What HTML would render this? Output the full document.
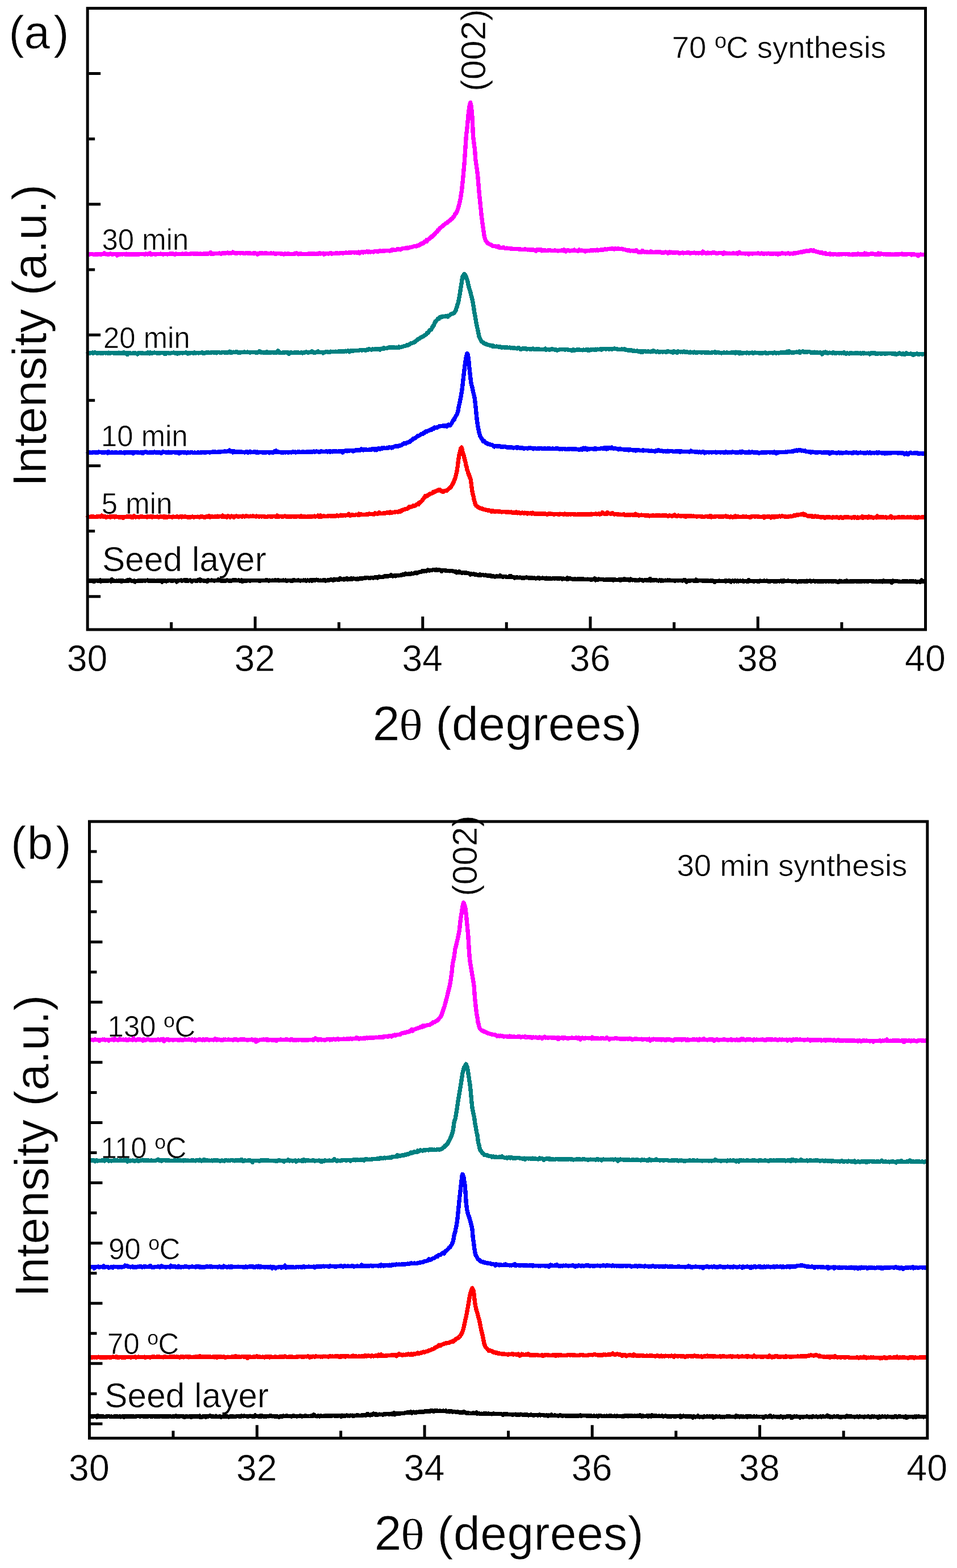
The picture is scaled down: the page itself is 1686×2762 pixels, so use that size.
<!DOCTYPE html>
<html><head><meta charset="utf-8"><title>XRD patterns</title>
<style>html,body{margin:0;padding:0;background:#fff;width:1686px;height:2762px;overflow:hidden;}svg{display:block;}</style>
</head><body>
<svg width="1686" height="2762" viewBox="0 0 1686 2762">
<rect width="1686" height="2762" fill="#fff"/>
<g font-family="'Liberation Sans', Arial, sans-serif" fill="#000" stroke="#fff" stroke-width="0.6">
<text x="153.6" y="1181.8" font-size="64.5" text-anchor="middle">30</text>
<text x="448.9" y="1181.8" font-size="64.5" text-anchor="middle">32</text>
<text x="744.1" y="1181.8" font-size="64.5" text-anchor="middle">34</text>
<text x="1039.4" y="1181.8" font-size="64.5" text-anchor="middle">36</text>
<text x="1334.6" y="1181.8" font-size="64.5" text-anchor="middle">38</text>
<text x="1629.9" y="1181.8" font-size="64.5" text-anchor="middle">40</text>
<text x="156.9" y="2607.8" font-size="64.5" text-anchor="middle">30</text>
<text x="452.2" y="2607.8" font-size="64.5" text-anchor="middle">32</text>
<text x="747.4" y="2607.8" font-size="64.5" text-anchor="middle">34</text>
<text x="1042.7" y="2607.8" font-size="64.5" text-anchor="middle">36</text>
<text x="1337.9" y="2607.8" font-size="64.5" text-anchor="middle">38</text>
<text x="1633.2" y="2607.8" font-size="64.5" text-anchor="middle">40</text>
<text x="15.4 42.4 94.2" y="85.1" font-size="81.7">(a)</text>
<text x="18.9 47.8 98.2" y="1513.4" font-size="81.7">(b)</text>
<text x="656.5" y="1304.3" font-size="86">2</text>
<text transform="translate(702.7,1303.3) scale(1.144,1)" font-family="'Liberation Serif', 'Times New Roman', serif" font-size="77">θ</text>
<text x="767.6" y="1304.3" font-size="84" textLength="363.2" lengthAdjust="spacing">(degrees)</text>
<text x="659.5" y="2729.7" font-size="86">2</text>
<text transform="translate(705.7,2728.7) scale(1.144,1)" font-family="'Liberation Serif', 'Times New Roman', serif" font-size="77">θ</text>
<text x="770.6" y="2729.7" font-size="84" textLength="363.2" lengthAdjust="spacing">(degrees)</text>
<text transform="translate(81.4,857) rotate(-90)" font-size="84">Intensity (a.u.)</text>
<text transform="translate(84.9,2284.8) rotate(-90)" font-size="84">Intensity (a.u.)</text>
<text transform="translate(854.6,160.9) rotate(-90)" font-size="62">(002)</text>
<text transform="translate(840.4,1578.7) rotate(-90)" font-size="61">(002)</text>
<text x="1183.65" y="102.2" font-size="54.5" text-anchor="start">70 ºC synthesis</text>
<text x="1192.4" y="1542.7" font-size="54.5" text-anchor="start">30 min synthesis</text>
<text x="179.4" y="439.9" font-size="51" text-anchor="start">30 min</text>
<text x="181.9" y="612.5" font-size="51" text-anchor="start">20 min</text>
<text x="177.9" y="785.9" font-size="51" text-anchor="start">10 min</text>
<text x="178.8" y="905.3" font-size="51" text-anchor="start">5 min</text>
<text x="179.9" y="1005.7" font-size="60.5" text-anchor="start">Seed layer</text>
<text x="189.6" y="1825.8" font-size="51" text-anchor="start">130 ºC</text>
<text x="177.6" y="2039.9" font-size="51" text-anchor="start">110 ºC</text>
<text x="191.15" y="2218" font-size="51" text-anchor="start">90 ºC</text>
<text x="189.05" y="2384.7" font-size="51" text-anchor="start">70 ºC</text>
<text x="184.2" y="2479.4" font-size="60.5" text-anchor="start">Seed layer</text>
</g>
<g fill="none" stroke-width="7.4" stroke-linejoin="round" stroke-linecap="round" shape-rendering="crispEdges">
<path stroke="#ff00ff" d="M155.2,448.0 156.7,448.1 158.2,447.9 159.7,447.6 161.2,447.8 162.7,447.6 164.2,448.0 165.7,448.6 167.2,447.8 168.7,447.7 170.2,448.2 171.7,448.2 173.2,448.0 174.7,447.6 176.2,448.0 177.7,448.3 179.2,447.4 180.7,447.8 182.2,447.1 183.7,445.8 185.2,447.1 186.7,447.9 188.2,447.4 189.7,448.1 191.2,448.0 192.7,447.9 194.2,446.8 195.7,447.7 197.2,447.9 198.7,448.0 200.2,447.2 201.7,447.7 203.2,447.5 204.7,447.6 206.2,450.0 207.7,447.5 209.2,447.9 210.7,448.3 212.2,447.6 213.7,447.8 215.2,447.9 216.7,447.9 218.2,447.3 219.7,447.9 221.2,448.5 222.7,447.2 224.2,448.2 225.7,447.9 227.2,447.6 228.7,448.7 230.2,448.2 231.7,447.3 233.2,447.9 234.7,448.1 236.2,447.7 237.7,448.1 239.2,447.8 240.7,448.1 242.2,448.4 243.7,447.5 245.2,447.9 246.7,447.6 248.2,447.8 249.7,447.2 251.2,447.5 252.7,447.6 254.2,448.1 255.7,448.2 257.2,447.1 258.7,447.3 260.2,448.0 261.7,446.8 263.2,447.5 264.7,446.0 266.2,448.2 267.7,448.0 269.2,447.5 270.7,447.5 272.2,447.5 273.7,448.3 275.2,447.4 276.7,447.5 278.2,447.8 279.7,447.5 281.2,447.5 282.7,447.1 284.2,447.6 285.7,447.4 287.2,448.1 288.7,447.9 290.2,447.5 291.7,447.8 293.2,447.4 294.7,448.0 296.2,447.5 297.7,447.8 299.2,446.9 300.0,447.7 300.7,446.7 302.2,446.6 303.7,447.3 305.2,447.1 306.7,447.5 308.2,448.5 309.7,447.1 311.2,447.2 312.7,447.5 314.2,447.6 315.7,447.3 317.2,447.3 318.7,447.7 320.2,447.6 321.7,446.9 323.2,447.3 324.7,447.4 326.2,446.9 327.7,447.5 329.2,447.0 330.7,447.8 332.2,447.4 333.7,447.3 335.2,447.0 336.7,447.2 338.2,446.4 339.7,446.8 341.2,447.4 342.7,446.3 344.2,447.6 345.7,446.4 347.2,447.5 348.7,446.8 350.2,447.5 351.7,447.2 353.2,446.5 354.7,447.7 356.2,447.8 357.7,447.1 359.2,447.0 360.7,447.0 362.2,446.6 363.7,447.5 365.2,446.8 366.7,447.0 368.2,446.6 369.7,446.7 371.2,444.8 372.7,447.5 374.2,446.8 375.7,447.3 377.2,446.9 378.7,446.5 380.0,446.7 380.2,446.5 381.7,446.8 383.2,446.5 384.7,446.5 386.2,446.0 387.7,446.2 389.2,447.2 390.7,446.0 392.2,445.8 393.7,446.3 395.2,446.7 396.7,445.4 398.2,445.9 399.7,445.6 401.2,445.1 402.7,446.2 404.2,445.8 405.0,445.8 405.7,445.5 407.2,446.0 408.7,445.6 410.2,444.1 411.7,445.3 413.2,445.3 414.7,446.4 416.2,445.6 417.7,446.0 419.2,445.8 420.7,445.7 422.2,445.6 423.7,446.2 425.2,445.7 426.7,445.8 428.2,445.9 429.7,446.4 431.2,446.2 432.7,446.1 434.2,445.7 435.7,445.3 437.2,446.4 438.7,446.4 440.0,445.9 440.2,446.2 441.7,446.4 443.2,446.4 444.7,446.5 446.2,445.9 447.7,446.8 449.2,445.5 450.7,446.5 452.2,446.4 453.7,448.2 455.2,447.0 456.7,446.9 458.2,445.7 459.7,445.5 461.2,446.7 462.7,445.9 464.2,446.4 465.7,446.8 467.2,445.7 468.7,445.5 470.2,446.6 471.7,446.6 473.2,446.5 474.7,446.6 476.2,446.3 477.7,446.0 479.2,446.6 480.7,446.3 482.2,446.0 483.7,447.0 485.2,446.8 486.7,447.1 488.2,446.5 489.7,446.6 491.2,446.5 492.7,446.6 494.2,447.1 495.7,446.7 497.2,447.2 498.7,447.3 500.2,448.0 501.7,446.5 503.2,447.6 504.7,447.2 506.2,447.2 507.7,446.6 509.2,447.0 510.7,447.6 512.2,447.2 513.7,447.3 515.2,447.2 516.7,447.8 518.2,447.3 519.7,446.3 520.0,447.0 521.2,446.4 522.7,445.8 524.2,447.1 525.7,447.9 527.2,447.3 528.7,446.7 530.2,446.8 531.7,447.8 533.2,447.3 534.7,447.3 536.2,447.2 537.7,447.2 539.2,447.6 540.7,447.4 542.2,447.2 543.7,446.7 545.2,447.3 546.7,446.8 548.2,447.6 549.7,446.5 551.2,447.0 552.7,447.0 554.2,446.4 555.7,447.7 557.2,447.6 558.7,446.7 560.2,447.2 561.7,447.0 563.2,445.6 564.7,446.9 566.2,446.7 567.7,446.7 569.2,446.2 570.7,448.1 572.2,446.5 573.7,447.1 575.2,446.7 576.7,446.5 578.2,447.2 579.7,446.2 581.2,446.2 582.7,445.6 584.2,447.0 585.7,446.7 587.2,446.7 588.7,446.5 590.0,446.2 590.2,446.3 591.7,446.0 593.2,446.0 594.7,446.1 596.2,446.7 597.7,446.2 599.2,445.9 600.7,445.6 602.2,445.5 603.7,446.5 605.2,445.9 606.7,445.7 608.2,445.4 609.7,445.0 611.2,445.4 612.7,445.8 614.2,445.1 615.7,445.1 617.2,445.1 618.7,445.1 620.2,444.3 621.7,444.8 623.2,444.5 624.7,445.2 626.2,444.4 627.7,444.9 629.2,445.2 630.7,444.3 632.2,444.1 633.7,446.0 635.2,444.2 636.7,443.7 638.2,444.3 639.7,444.9 640.0,443.9 641.2,443.8 642.7,443.4 644.2,443.9 645.7,443.1 647.2,443.1 648.7,444.1 650.2,443.1 651.7,443.9 653.2,444.0 654.7,443.4 656.2,443.4 657.7,444.0 659.2,442.9 660.7,442.7 662.2,442.2 663.7,442.8 665.2,443.4 666.7,443.0 668.2,442.1 669.7,442.0 671.2,442.1 672.7,442.4 674.2,442.0 675.7,442.1 677.2,442.1 678.7,441.7 680.2,441.7 681.7,441.7 683.2,441.4 684.7,441.6 686.2,442.1 687.7,441.4 689.2,441.0 690.0,440.1 690.7,441.0 692.2,439.8 693.7,439.9 695.2,440.7 696.7,440.5 698.2,439.9 699.7,439.0 701.2,439.4 702.7,439.0 704.2,439.4 705.7,439.9 707.2,438.7 708.7,438.0 710.2,437.6 711.7,437.8 713.2,437.5 714.7,436.8 716.2,437.1 717.7,436.2 719.2,437.0 720.0,436.8 720.7,436.7 722.2,435.7 723.7,435.8 725.2,435.2 726.7,434.8 728.2,434.5 729.7,433.7 731.2,433.3 732.7,434.0 734.2,433.1 735.7,432.9 737.2,432.7 738.7,431.0 740.0,430.9 740.2,431.3 741.7,429.1 743.2,429.5 744.7,429.2 746.2,427.7 747.7,426.0 749.2,425.0 750.7,424.6 752.0,425.1 752.2,422.3 753.7,422.7 755.2,421.3 756.7,420.5 758.2,418.6 759.7,417.4 760.0,416.8 761.2,417.5 762.7,415.0 764.2,414.5 765.7,412.1 766.4,411.8 767.2,410.1 768.7,409.1 770.2,408.0 771.7,405.3 773.2,404.7 774.4,403.2 774.7,402.2 776.2,401.1 777.7,399.8 779.2,398.8 780.7,397.3 782.2,396.0 783.7,395.0 783.9,394.5 785.2,393.4 786.7,392.9 788.2,392.2 789.7,390.1 791.2,389.6 792.7,388.1 794.2,386.7 794.3,387.4 795.7,385.4 797.2,384.8 798.7,382.2 800.2,380.9 801.7,377.0 803.2,376.0 803.5,376.1 804.7,373.3 806.2,369.7 807.7,364.8 808.0,363.3 809.2,359.4 810.7,352.7 811.6,348.3 812.2,343.7 813.7,334.1 814.7,323.1 815.2,319.7 816.5,305.9 816.7,303.4 818.2,286.2 818.4,284.1 819.7,263.2 819.9,260.4 821.2,241.4 821.5,237.7 822.7,228.0 823.5,220.6 824.2,212.3 825.3,200.3 825.7,196.4 827.2,185.8 828.6,180.6 828.7,180.5 830.2,187.1 831.5,200.8 831.7,202.3 832.7,221.1 833.2,234.1 833.4,238.1 834.7,249.8 836.2,260.9 836.3,260.5 837.7,280.1 838.1,283.1 839.2,291.1 840.7,301.1 841.4,306.8 842.2,315.7 842.8,323.4 843.7,334.0 845.0,348.6 845.2,348.8 846.7,365.6 847.4,369.9 848.2,379.6 849.7,390.9 850.3,395.9 851.2,402.0 852.6,411.3 852.7,412.8 854.2,419.9 855.7,424.2 855.8,424.1 857.2,425.5 858.7,427.7 860.2,429.0 861.7,429.8 863.2,430.6 863.8,430.4 864.7,431.3 866.2,431.9 867.7,433.0 869.2,433.7 870.7,433.3 872.2,433.4 873.3,434.1 873.7,434.0 875.2,434.4 876.7,435.3 878.2,433.7 879.7,436.4 880.0,436.2 881.2,436.5 882.7,436.5 884.2,436.4 885.7,436.5 887.2,435.4 888.7,437.0 890.2,437.5 891.7,437.5 893.2,437.1 894.7,437.8 896.2,437.3 897.7,437.8 899.2,438.0 900.7,437.3 902.2,438.4 903.7,438.5 905.2,438.5 906.7,438.5 908.2,438.6 909.7,438.4 911.2,438.8 912.7,438.7 914.2,439.1 915.7,438.6 917.2,439.3 918.7,439.3 920.2,439.2 921.7,439.2 923.2,439.7 924.7,438.7 926.2,439.8 927.7,439.7 929.2,439.8 930.0,439.9 930.7,439.4 932.2,439.7 933.7,440.1 935.2,440.1 936.7,440.1 938.2,439.4 939.7,440.3 941.2,440.7 942.7,440.7 944.2,442.0 945.7,439.6 947.2,440.8 948.7,440.4 950.2,439.4 951.7,440.7 953.2,440.0 954.7,441.7 956.2,440.4 957.7,441.4 959.2,440.7 960.7,441.0 962.2,441.7 963.7,441.7 965.2,441.0 966.7,441.0 968.2,440.5 969.7,440.8 971.2,441.4 972.7,441.4 974.2,441.3 975.7,441.7 977.2,441.0 978.7,441.3 980.2,441.7 981.7,441.7 983.2,441.9 984.7,441.6 986.2,441.3 987.7,441.6 989.2,441.0 990.7,440.8 992.2,441.8 993.7,439.9 994.0,441.6 995.2,440.7 996.7,442.9 998.2,441.2 999.7,441.1 1001.2,440.5 1002.7,441.3 1004.2,441.9 1005.7,441.7 1007.2,441.2 1008.7,441.5 1010.2,441.8 1011.7,440.2 1013.2,441.4 1014.7,441.7 1016.2,441.8 1017.7,442.2 1019.2,441.9 1020.7,440.0 1022.2,441.5 1023.7,441.8 1025.2,441.1 1026.7,441.4 1028.2,441.8 1029.7,442.2 1031.2,442.9 1032.7,441.3 1034.2,441.4 1035.7,441.9 1037.2,441.3 1038.7,441.9 1040.2,440.8 1041.7,441.1 1043.2,441.1 1044.0,441.6 1044.7,441.7 1046.2,440.5 1047.7,440.7 1049.2,441.1 1050.7,440.6 1052.2,440.1 1053.7,441.1 1055.2,440.7 1056.7,440.5 1058.2,440.0 1059.7,440.5 1061.2,439.8 1062.7,440.2 1064.2,439.2 1065.0,439.1 1065.7,439.5 1067.2,439.0 1068.7,439.4 1070.2,439.0 1071.7,438.3 1073.2,438.6 1074.7,438.2 1076.2,438.6 1077.7,437.8 1079.2,437.8 1080.7,438.5 1082.0,438.9 1082.2,438.8 1083.7,437.9 1085.2,438.1 1086.7,438.7 1088.2,438.1 1089.7,437.8 1091.2,438.5 1092.7,438.8 1094.2,438.4 1095.7,438.2 1097.2,438.5 1098.7,439.6 1100.0,439.2 1100.2,439.5 1101.7,439.9 1103.2,440.6 1104.7,440.6 1106.2,441.3 1107.0,440.8 1107.7,441.1 1109.2,441.0 1110.7,442.1 1112.2,441.7 1113.7,441.6 1115.2,441.9 1116.7,442.1 1118.2,442.6 1119.7,441.7 1121.2,440.5 1122.7,442.5 1124.2,443.9 1125.7,443.3 1127.2,444.5 1128.7,443.4 1130.2,444.1 1131.7,441.5 1133.2,443.2 1134.7,444.0 1136.2,443.7 1137.7,443.9 1139.2,443.4 1140.7,444.6 1142.2,444.5 1143.7,444.1 1145.2,444.2 1146.7,443.0 1148.2,444.3 1149.7,443.9 1151.2,444.3 1152.7,444.4 1154.2,444.0 1155.7,443.5 1157.2,444.4 1158.0,444.0 1158.7,444.2 1160.2,444.1 1161.7,444.3 1163.2,443.4 1164.7,445.0 1166.2,444.6 1167.7,445.1 1169.2,445.5 1170.7,444.7 1172.2,443.9 1173.7,444.3 1175.2,444.2 1176.7,446.2 1178.2,444.8 1179.7,443.9 1181.2,445.0 1182.7,444.2 1184.2,445.1 1185.7,444.9 1187.2,444.8 1188.7,445.0 1190.2,444.8 1191.7,444.8 1193.2,444.3 1194.7,445.1 1196.2,446.0 1197.7,446.0 1199.2,445.8 1200.7,445.5 1202.2,444.9 1203.7,445.9 1205.2,445.2 1206.7,445.3 1208.0,445.2 1208.2,445.3 1209.7,445.1 1211.2,445.3 1212.7,444.9 1214.2,445.2 1215.7,446.4 1217.2,445.4 1218.7,445.3 1220.2,445.7 1221.7,445.8 1223.2,445.0 1224.7,445.4 1226.2,445.9 1227.7,445.6 1229.2,445.6 1230.7,446.2 1232.2,445.2 1233.7,445.6 1235.2,445.3 1236.7,446.3 1238.2,443.1 1239.7,445.3 1241.2,445.4 1242.7,445.9 1244.2,445.9 1245.7,446.3 1247.2,445.0 1248.7,446.0 1250.2,445.6 1251.7,445.4 1253.2,446.0 1254.7,445.3 1256.2,444.8 1257.7,445.6 1259.0,445.1 1259.2,445.5 1260.7,446.0 1262.2,446.0 1263.7,446.6 1265.2,445.8 1266.7,445.2 1268.2,445.6 1269.7,445.5 1271.2,445.4 1272.7,446.2 1274.2,447.3 1275.7,445.1 1277.2,446.4 1278.7,446.0 1280.2,446.3 1281.7,446.2 1283.2,446.4 1284.7,446.2 1286.2,446.8 1287.7,446.4 1289.2,446.4 1290.7,446.5 1292.2,445.7 1293.7,446.3 1295.2,446.3 1296.7,446.5 1298.2,445.8 1299.7,447.2 1301.2,446.5 1302.7,444.3 1304.2,445.7 1305.7,446.4 1307.2,446.5 1308.7,446.3 1310.2,446.6 1311.7,446.3 1313.2,446.9 1314.7,446.3 1316.2,446.7 1317.7,447.1 1319.2,447.9 1320.7,446.3 1322.2,446.5 1323.7,446.4 1325.2,447.1 1326.7,446.3 1328.2,446.6 1329.7,446.8 1331.2,446.4 1332.7,446.4 1334.2,446.6 1335.7,445.9 1336.0,446.1 1337.2,446.6 1338.7,446.9 1340.2,446.7 1341.7,446.0 1343.2,446.6 1344.7,447.1 1346.2,447.0 1347.7,446.7 1349.2,446.4 1350.7,447.0 1352.2,446.5 1353.7,446.2 1355.2,446.4 1356.7,447.4 1358.2,446.8 1359.7,447.2 1361.2,446.5 1362.7,447.1 1364.2,446.4 1365.7,446.6 1367.2,447.7 1368.7,447.0 1370.2,448.0 1371.7,446.5 1373.2,446.7 1374.7,447.1 1376.2,446.3 1377.7,445.7 1379.2,446.3 1380.7,446.4 1382.2,446.4 1383.7,447.0 1385.2,446.5 1386.7,446.7 1388.2,445.8 1389.7,446.6 1391.2,447.1 1392.7,446.5 1394.2,446.2 1395.7,446.2 1397.2,446.9 1398.7,445.6 1399.0,446.0 1400.2,446.2 1401.7,446.2 1403.2,445.4 1404.7,445.6 1406.2,445.0 1407.7,444.9 1409.2,444.5 1410.7,443.8 1412.2,444.0 1413.7,444.1 1415.0,443.1 1415.2,443.4 1416.7,443.5 1418.2,442.4 1419.7,442.6 1421.2,441.7 1422.7,442.3 1424.2,442.5 1425.7,442.2 1427.2,441.0 1428.7,441.3 1429.0,441.1 1430.2,441.1 1431.7,441.9 1433.2,440.9 1434.7,442.4 1436.2,442.3 1437.7,443.5 1439.2,443.4 1440.7,443.5 1442.2,444.4 1443.7,445.0 1445.0,445.0 1445.2,445.3 1446.7,445.1 1448.2,444.7 1449.7,446.4 1451.2,446.7 1452.7,446.7 1454.2,445.4 1455.7,447.7 1457.2,447.2 1458.7,447.3 1460.2,447.7 1461.7,446.7 1462.0,447.2 1463.2,448.3 1464.7,447.5 1466.2,447.3 1467.7,448.4 1469.2,447.8 1470.7,447.2 1472.2,447.6 1473.7,448.2 1475.2,448.3 1476.7,447.6 1478.2,448.0 1479.7,448.1 1481.2,447.5 1482.7,448.0 1484.2,447.8 1485.7,447.6 1487.2,447.6 1488.7,447.8 1490.2,447.8 1491.7,447.5 1493.2,447.6 1494.7,448.3 1496.2,447.9 1497.7,448.2 1499.2,448.3 1500.7,448.1 1502.2,448.8 1503.7,447.4 1505.2,448.2 1506.7,447.7 1508.2,448.6 1509.7,448.6 1511.2,446.9 1512.7,447.4 1514.2,448.1 1515.7,448.2 1517.2,448.1 1518.7,447.8 1520.2,448.0 1521.7,448.1 1523.2,446.2 1524.7,448.3 1526.2,446.8 1527.7,448.1 1529.2,447.3 1530.7,448.2 1532.2,447.7 1533.7,447.4 1535.2,446.4 1536.7,447.4 1538.0,447.4 1538.2,447.1 1539.7,447.8 1541.2,448.0 1542.7,448.3 1544.2,447.7 1545.7,448.3 1547.2,446.2 1548.7,447.8 1550.2,448.1 1551.7,446.7 1553.2,447.7 1554.7,447.7 1556.2,447.8 1557.7,447.9 1559.2,447.4 1560.7,448.3 1562.2,447.7 1563.7,448.1 1565.2,447.5 1566.7,448.1 1568.2,448.1 1569.7,447.7 1571.2,448.8 1572.7,448.1 1574.2,448.7 1575.7,448.4 1577.2,447.7 1578.7,447.8 1580.2,448.2 1581.7,448.0 1583.2,448.0 1584.7,447.9 1586.2,447.2 1587.7,447.9 1589.2,447.1 1590.7,448.2 1592.2,447.8 1593.7,447.8 1595.2,448.0 1596.7,448.3 1598.2,447.5 1599.7,447.4 1601.2,447.7 1602.7,447.3 1604.2,447.8 1605.7,448.9 1607.2,447.8 1608.7,448.5 1610.2,447.7 1611.7,448.4 1613.2,448.2 1614.7,448.3 1616.2,448.6 1617.7,450.7 1619.2,448.5 1620.7,448.4 1622.2,448.0 1623.7,448.7 1625.2,448.3 1626.7,448.8 1628.2,448.5"/>
<path stroke="#008080" d="M155.2,622.0 156.7,621.7 158.2,622.4 159.7,621.3 161.2,621.8 162.7,621.0 164.2,622.5 165.7,621.3 167.2,620.6 168.7,621.6 170.2,621.6 171.7,622.5 173.2,621.5 174.7,621.7 176.2,622.0 177.7,622.4 179.2,621.7 180.7,622.2 182.2,622.0 183.7,621.6 185.2,621.8 186.7,621.8 188.2,621.4 189.7,622.3 191.2,621.2 192.7,622.3 194.2,622.2 195.7,621.8 197.2,621.5 198.7,621.7 200.2,622.1 201.7,622.2 203.2,622.0 204.7,622.3 206.2,621.6 207.7,622.0 209.2,621.2 210.7,622.3 212.2,622.0 213.7,621.7 215.2,622.4 216.7,622.2 218.2,620.7 219.7,622.0 221.2,621.3 222.7,622.4 224.2,624.7 225.7,621.7 227.2,622.0 228.7,621.9 230.2,622.1 231.7,622.3 233.2,622.6 234.7,621.5 236.2,622.7 237.7,621.6 239.2,622.1 240.7,622.5 242.2,623.9 243.7,621.6 245.2,621.7 246.7,621.8 248.2,622.0 249.7,622.5 251.0,621.4 251.2,622.2 252.7,622.3 254.2,622.3 255.7,622.2 257.2,622.7 258.7,622.2 260.2,620.8 261.7,622.2 263.2,622.8 264.7,621.1 266.2,622.6 267.7,621.9 269.2,621.9 270.7,621.5 272.2,621.1 273.7,621.8 275.2,621.7 276.7,622.2 278.2,621.3 279.7,622.6 281.2,622.1 282.7,621.8 284.2,621.6 285.7,621.6 287.2,621.4 288.7,621.7 290.2,623.5 291.7,623.4 293.2,621.3 294.7,621.8 296.2,621.5 297.7,622.0 299.2,622.7 300.7,622.2 302.2,621.7 303.7,621.2 305.2,621.2 306.7,621.1 308.2,622.2 309.7,621.5 311.2,621.9 312.7,623.2 314.2,621.9 315.7,622.5 317.2,621.5 318.7,621.7 320.2,621.4 321.7,622.2 323.2,621.3 324.7,621.3 326.2,621.2 327.7,621.1 329.2,622.0 330.7,622.9 332.2,621.3 333.7,622.2 335.2,621.8 336.7,621.2 338.2,621.6 339.7,621.6 340.0,621.4 341.2,622.6 342.7,620.8 344.2,621.8 345.7,621.8 347.2,621.4 348.7,621.7 350.2,622.0 351.7,621.6 353.2,621.7 354.7,621.8 356.2,620.6 357.7,622.1 359.2,622.5 360.7,621.9 362.2,621.8 363.7,620.7 365.2,621.3 366.7,620.9 368.2,621.0 369.7,621.7 371.2,620.8 372.7,621.1 374.2,620.3 375.7,621.0 377.2,621.1 378.7,620.7 380.2,620.7 381.7,621.8 383.2,620.4 384.7,620.4 386.2,620.5 387.7,621.4 389.2,621.7 390.7,620.9 392.2,620.4 393.7,620.5 395.2,621.2 396.7,620.3 398.2,621.3 399.7,621.3 401.2,620.6 402.7,620.9 404.2,619.3 405.7,621.2 407.2,620.1 408.7,621.1 410.2,620.3 411.7,620.2 413.2,620.5 414.7,620.4 415.0,620.1 416.2,619.8 417.7,620.1 419.2,621.2 420.7,621.4 422.2,620.8 423.7,621.1 425.2,620.3 426.7,620.5 428.2,620.7 429.7,620.1 431.2,620.1 432.7,620.6 434.2,620.4 435.7,620.1 437.2,620.8 438.7,620.5 440.2,621.1 441.7,620.6 443.2,620.5 444.7,620.7 446.2,620.6 447.7,620.4 449.2,620.5 450.7,621.1 452.2,621.0 453.7,621.3 455.2,620.0 456.7,619.0 458.2,619.0 459.7,620.9 461.2,620.6 462.7,620.6 464.2,621.2 465.7,621.0 467.2,620.4 468.7,621.5 470.2,619.8 471.7,620.7 473.2,621.3 474.7,620.6 476.2,621.5 477.7,620.9 479.2,620.6 480.7,620.9 482.2,620.7 483.7,621.1 485.2,621.1 486.7,621.1 488.2,620.8 489.7,617.8 491.2,621.1 492.7,620.2 494.2,621.2 495.7,621.6 497.2,621.2 498.7,620.9 500.0,621.0 500.2,621.0 501.7,620.9 503.2,620.8 504.7,620.7 506.2,621.6 507.7,621.1 509.2,623.1 510.7,621.0 512.2,621.1 513.7,621.0 515.2,621.3 516.7,621.4 518.2,621.1 519.7,620.7 521.2,620.6 522.7,621.7 524.2,620.8 525.7,620.8 527.2,621.6 528.7,621.4 530.2,621.1 531.7,620.7 533.2,621.9 534.7,621.0 536.2,621.1 537.7,620.7 539.2,620.1 540.7,620.2 542.2,620.9 543.7,620.9 545.2,620.6 546.7,620.2 548.2,620.0 549.7,618.9 551.2,620.0 552.0,621.0 552.7,621.1 554.2,621.8 555.7,620.9 557.2,620.2 558.7,620.1 560.2,618.9 561.7,620.1 563.2,620.3 564.7,620.8 566.2,620.6 567.7,620.5 569.2,621.9 570.7,620.5 572.2,620.8 573.7,619.6 575.2,619.8 576.7,619.4 578.2,620.7 579.7,620.5 581.2,620.2 582.7,619.2 584.2,619.8 585.7,619.6 587.2,619.6 588.7,619.5 590.2,619.7 591.7,619.2 593.2,619.7 594.7,619.4 596.2,619.1 597.7,619.1 599.2,618.9 600.7,619.4 602.2,618.9 603.7,619.0 604.0,618.7 605.2,618.2 606.7,619.2 608.2,618.2 609.7,618.9 611.2,618.7 612.7,617.7 614.2,618.0 615.7,619.7 617.2,617.8 618.7,617.6 620.2,618.4 621.7,617.8 623.2,618.0 624.7,617.5 626.2,617.8 627.7,617.2 629.2,617.4 630.7,617.6 632.2,617.2 633.7,616.9 635.2,616.5 636.7,617.0 638.2,616.9 639.7,616.6 641.2,616.2 642.7,616.7 644.2,617.4 645.7,616.1 647.2,616.2 648.7,616.1 650.2,614.7 651.7,615.8 653.2,615.3 654.7,616.1 656.0,615.3 656.2,615.0 657.7,615.2 659.2,615.2 660.7,614.7 662.2,614.8 663.7,615.7 665.2,614.5 666.7,614.8 668.2,615.2 669.7,616.1 671.2,614.1 672.7,614.4 674.2,614.2 675.7,612.7 677.2,613.9 678.7,613.3 680.0,613.3 680.2,613.3 681.7,613.2 683.2,613.0 684.7,612.5 686.2,611.8 687.7,612.4 689.2,611.7 690.7,612.5 692.2,612.4 693.7,611.5 695.2,612.5 696.7,612.5 698.2,612.0 699.7,612.6 701.2,612.6 702.7,611.0 704.2,611.9 705.7,611.5 707.0,611.3 707.2,611.5 708.7,610.5 710.2,610.3 711.7,609.8 713.2,609.4 714.7,609.3 716.2,608.1 717.7,607.8 719.2,607.9 720.7,607.0 722.2,606.6 723.7,604.9 725.2,604.7 726.7,604.1 728.0,603.7 728.2,603.3 729.7,603.2 731.2,601.7 732.7,600.6 734.2,599.5 735.7,598.6 737.2,596.9 738.7,596.5 740.0,595.4 740.2,595.2 741.7,594.3 743.2,593.8 744.7,593.2 746.0,592.4 746.2,592.0 747.7,591.3 749.2,589.8 750.7,589.2 752.0,587.5 752.2,586.4 753.7,586.5 755.2,584.4 756.5,582.5 756.7,582.7 758.2,580.8 759.7,580.5 761.0,578.1 761.2,576.9 762.7,575.2 764.0,572.3 764.2,573.0 765.7,568.8 767.0,566.1 767.2,566.9 768.7,564.9 770.2,563.3 771.7,561.2 773.0,561.3 773.2,561.7 774.7,558.9 776.2,559.2 777.7,557.6 779.0,558.6 779.2,557.7 780.7,557.2 782.2,557.6 783.7,557.3 785.0,556.7 785.2,557.3 786.7,556.8 788.2,556.2 789.0,557.9 789.7,556.7 791.2,555.8 792.7,555.0 794.0,553.3 794.2,553.3 795.7,553.0 797.2,552.4 798.7,551.9 800.0,551.5 800.2,550.6 801.7,548.9 803.2,545.9 803.5,544.5 804.7,541.6 806.0,536.6 806.2,536.8 807.7,531.3 808.0,529.8 809.2,522.9 810.7,514.1 812.0,505.6 812.2,505.0 813.7,494.4 815.2,486.3 815.5,486.4 816.7,484.5 818.2,482.8 818.5,483.5 819.7,484.1 821.2,488.0 822.5,492.1 822.7,492.2 824.2,497.2 825.7,504.5 827.2,509.5 827.5,510.6 828.7,514.2 830.2,520.7 831.7,526.1 832.5,530.0 833.2,533.9 834.7,542.8 836.2,553.1 836.5,553.9 837.7,560.1 839.2,569.6 840.5,575.5 840.7,576.6 842.2,583.2 843.7,591.7 844.5,594.1 845.2,595.6 846.7,598.6 848.2,601.2 849.7,602.2 851.2,604.0 851.4,603.4 852.7,604.4 854.2,605.8 855.7,606.3 857.2,606.1 858.7,607.4 860.2,607.7 861.7,607.8 863.2,608.7 863.4,608.4 864.7,608.2 866.2,608.7 867.7,610.3 869.2,609.1 870.7,610.1 872.2,610.5 873.7,610.8 875.2,610.1 876.7,610.7 878.2,611.1 879.7,611.5 880.0,610.9 881.2,610.8 882.7,611.9 884.2,612.1 885.7,611.9 887.2,611.5 888.7,612.1 890.2,612.1 891.7,612.5 893.2,611.7 894.7,612.4 896.2,612.4 897.7,612.1 899.2,612.8 900.7,612.8 902.2,612.7 903.7,613.2 905.2,612.4 906.7,613.1 908.2,613.5 909.7,613.5 911.2,613.9 912.7,613.0 914.2,612.9 915.7,613.8 917.2,615.6 918.7,614.8 920.2,614.2 921.7,613.6 923.2,614.4 924.7,613.7 926.2,613.5 927.7,615.4 929.2,614.5 930.7,614.7 932.2,614.7 933.7,615.3 935.2,614.7 936.7,615.2 938.2,614.2 939.7,614.1 941.2,615.4 942.7,615.5 944.2,615.1 945.7,615.0 947.2,615.0 948.7,614.7 950.2,615.7 951.7,615.4 953.2,615.4 954.7,615.3 956.0,615.7 956.2,615.4 957.7,615.6 959.2,614.8 960.7,614.0 962.2,616.3 963.7,615.2 965.2,615.4 966.7,615.9 968.2,615.9 969.7,615.8 971.2,614.9 972.7,615.8 974.2,615.1 975.7,615.3 977.2,616.0 978.7,615.6 980.2,616.2 981.7,617.3 983.2,616.2 984.7,616.2 986.2,615.5 987.7,615.7 989.2,615.5 990.7,615.8 992.2,615.6 993.7,615.8 995.2,616.0 996.7,615.7 998.2,615.5 999.7,615.6 1001.2,616.4 1002.7,616.3 1004.2,616.7 1005.7,616.8 1007.2,617.8 1008.7,616.6 1010.2,615.7 1011.7,617.4 1013.2,616.9 1014.7,616.3 1016.2,615.9 1017.7,616.6 1019.2,615.6 1020.7,616.1 1022.2,616.8 1023.7,616.5 1025.2,616.3 1026.7,616.9 1028.2,616.0 1029.7,616.6 1031.2,616.3 1032.0,616.1 1032.7,616.7 1034.2,616.0 1035.7,617.3 1037.2,616.1 1038.7,617.2 1040.2,615.8 1041.7,616.5 1043.2,615.6 1044.7,615.4 1046.2,616.0 1047.7,616.2 1049.2,615.2 1050.7,616.2 1052.2,615.2 1053.7,615.5 1055.2,615.6 1056.7,615.6 1058.2,614.5 1059.7,615.9 1060.0,615.5 1061.2,615.0 1062.7,614.7 1064.2,614.3 1065.7,614.4 1067.2,615.2 1068.7,614.8 1070.2,614.4 1071.7,614.6 1073.2,615.5 1074.7,614.6 1076.2,614.5 1077.7,615.3 1079.2,614.9 1080.7,614.7 1082.0,614.4 1082.2,614.0 1083.7,614.2 1085.2,614.6 1086.7,614.8 1088.2,615.1 1089.7,615.4 1091.2,615.4 1092.7,615.5 1094.2,615.2 1095.7,614.8 1097.2,615.7 1098.7,615.7 1100.2,614.4 1101.7,616.4 1103.2,616.1 1104.7,616.3 1105.0,616.8 1106.2,616.9 1107.7,616.7 1109.2,617.4 1110.7,617.2 1112.2,616.9 1113.7,617.5 1115.2,618.5 1116.7,617.4 1118.2,618.4 1119.7,618.6 1121.2,618.7 1122.7,617.8 1124.2,619.2 1125.7,618.4 1127.2,618.3 1128.7,620.0 1130.2,618.9 1131.7,620.3 1133.0,618.6 1133.2,619.3 1134.7,618.4 1136.2,618.3 1137.7,619.2 1139.2,619.2 1140.7,619.4 1142.2,618.5 1143.7,619.5 1145.2,619.3 1146.7,619.9 1148.2,618.6 1149.7,619.3 1151.2,617.5 1152.7,618.6 1154.2,619.0 1155.7,619.9 1157.2,619.2 1158.7,619.1 1160.2,619.9 1161.7,619.9 1163.2,620.0 1164.7,619.2 1166.2,619.6 1167.7,620.1 1169.2,619.4 1170.7,619.3 1172.2,620.1 1173.7,620.4 1175.2,619.2 1176.7,618.6 1178.2,619.2 1179.7,619.4 1181.2,619.8 1182.7,620.2 1184.2,619.9 1185.7,621.2 1187.2,618.4 1188.7,619.6 1190.2,620.0 1191.7,619.8 1193.2,621.3 1194.7,618.9 1196.2,619.7 1197.7,619.7 1199.2,620.0 1200.7,619.4 1202.2,619.9 1203.7,619.9 1205.2,619.1 1206.7,620.1 1208.0,619.9 1208.2,619.7 1209.7,619.8 1211.2,620.3 1212.7,620.3 1214.2,620.9 1215.7,620.1 1217.2,620.9 1218.7,620.6 1220.2,620.5 1221.7,621.2 1223.2,620.0 1224.7,620.9 1226.2,621.2 1227.7,620.7 1229.2,621.0 1230.7,620.5 1232.2,620.5 1233.7,620.4 1235.2,621.1 1236.7,620.9 1238.2,620.6 1239.7,620.6 1241.2,621.0 1242.7,620.9 1244.2,620.4 1245.7,621.6 1247.2,621.0 1248.7,620.9 1250.2,621.6 1251.7,621.4 1253.2,620.9 1254.7,621.2 1256.2,620.5 1257.7,620.7 1259.2,620.0 1260.0,621.5 1260.7,620.2 1262.2,621.3 1263.7,620.7 1265.2,620.6 1266.7,621.0 1268.2,621.2 1269.7,621.4 1271.2,621.9 1272.7,621.3 1274.2,621.6 1275.7,620.9 1277.2,621.5 1278.7,621.3 1280.2,621.0 1281.7,621.2 1283.2,621.3 1284.7,621.4 1286.2,621.5 1287.7,621.1 1289.2,621.0 1290.7,621.7 1292.2,620.6 1293.7,621.1 1295.2,622.1 1296.7,620.2 1298.2,621.1 1299.7,621.8 1301.2,620.7 1302.7,622.7 1304.2,620.4 1305.7,622.2 1307.2,622.3 1308.7,622.0 1310.2,621.5 1311.7,621.8 1313.2,621.2 1314.7,622.0 1316.2,621.1 1317.7,621.5 1319.2,622.1 1320.7,621.2 1322.2,621.5 1323.7,621.7 1325.2,621.1 1326.7,622.2 1328.2,621.8 1329.7,621.0 1331.2,621.7 1332.7,621.3 1334.2,621.4 1335.7,621.7 1336.0,621.4 1337.2,622.1 1338.7,621.4 1340.2,622.1 1341.7,621.7 1343.2,622.1 1344.7,621.4 1346.2,621.4 1347.7,621.1 1349.2,621.9 1350.7,622.1 1352.2,622.6 1353.7,622.2 1355.2,621.7 1356.7,621.5 1358.2,621.7 1359.7,621.5 1361.2,622.2 1362.7,621.9 1364.2,621.1 1365.7,621.2 1367.2,622.1 1368.7,621.5 1370.2,621.3 1371.7,621.9 1373.2,621.2 1374.7,621.2 1376.2,621.1 1377.7,620.4 1379.2,621.6 1380.7,620.6 1382.2,620.9 1383.7,620.8 1385.2,621.4 1386.7,619.4 1388.2,621.0 1389.7,618.6 1391.2,620.9 1392.7,620.2 1394.2,621.0 1395.0,621.0 1395.7,620.8 1397.2,621.6 1398.7,620.8 1400.2,620.7 1401.7,620.3 1403.2,620.0 1404.7,620.4 1406.2,620.3 1407.7,619.1 1409.2,621.7 1410.7,619.8 1412.0,619.9 1412.2,619.7 1413.7,619.0 1415.2,619.1 1416.7,620.5 1418.2,620.0 1419.7,619.4 1421.2,620.4 1422.7,620.2 1424.2,619.7 1425.7,619.7 1427.2,620.1 1428.7,621.1 1430.0,621.0 1430.2,620.9 1431.7,621.2 1433.2,621.4 1434.7,620.2 1436.2,621.1 1437.7,620.9 1439.2,620.7 1440.7,621.1 1442.2,621.3 1443.7,621.3 1445.2,620.8 1446.7,621.2 1448.2,624.0 1449.7,621.0 1451.2,620.8 1452.7,621.7 1454.2,620.2 1455.7,621.8 1457.2,621.1 1458.7,622.1 1460.2,621.3 1461.7,621.2 1463.2,621.4 1464.7,621.7 1466.2,622.1 1467.7,620.5 1469.2,621.8 1470.7,622.2 1472.2,621.9 1473.7,622.2 1475.2,621.2 1476.7,621.2 1478.2,622.2 1479.7,621.3 1481.2,621.8 1482.7,621.9 1484.2,621.7 1485.7,621.8 1487.0,622.6 1487.2,620.9 1488.7,622.4 1490.2,623.1 1491.7,622.1 1493.2,622.1 1494.7,622.4 1496.2,622.9 1497.7,621.6 1499.2,622.2 1500.7,622.1 1502.2,622.4 1503.7,622.2 1505.2,622.5 1506.7,622.0 1508.2,622.2 1509.7,621.9 1511.2,621.9 1512.7,622.2 1514.2,622.2 1515.7,621.7 1517.2,623.0 1518.7,622.2 1520.2,621.7 1521.7,622.8 1523.2,622.0 1524.7,622.6 1526.2,622.3 1527.7,622.5 1529.2,622.5 1530.7,622.1 1532.2,624.0 1533.7,623.3 1535.2,621.4 1536.7,622.5 1538.2,622.6 1539.7,622.0 1541.2,621.9 1542.7,623.5 1544.2,622.3 1545.7,623.5 1547.2,622.8 1548.7,622.6 1550.2,622.8 1551.7,622.9 1553.2,623.1 1554.7,622.8 1556.2,622.7 1557.7,622.7 1559.2,623.3 1560.7,623.0 1562.2,622.2 1563.0,622.4 1563.7,622.9 1565.2,622.4 1566.7,622.6 1568.2,622.3 1569.7,622.7 1571.2,623.0 1572.7,623.3 1574.2,622.9 1575.7,623.8 1577.2,622.9 1578.7,624.4 1580.2,623.4 1581.7,623.2 1583.2,622.8 1584.7,621.8 1586.2,623.0 1587.7,623.2 1589.2,624.0 1590.7,622.5 1592.2,624.0 1593.7,624.7 1595.2,623.6 1596.7,622.1 1598.2,623.3 1599.7,623.2 1601.2,623.7 1602.7,623.4 1604.2,622.9 1605.7,623.9 1607.2,623.8 1608.7,625.4 1610.2,624.0 1611.7,624.1 1613.2,623.6 1614.7,623.0 1616.2,623.1 1617.7,624.3 1619.2,624.1 1620.7,623.8 1622.2,623.6 1623.7,623.9 1625.2,623.9 1626.7,623.8 1628.2,623.6"/>
<path stroke="#0000ff" d="M155.2,797.3 156.7,797.2 158.2,796.8 159.7,797.3 161.2,797.5 162.7,796.8 164.2,797.0 165.7,796.4 167.2,797.1 168.7,797.4 170.2,796.8 171.7,797.5 173.2,796.1 174.7,796.2 176.2,796.4 177.7,796.8 179.2,797.0 180.7,797.0 182.2,797.0 183.7,797.3 185.2,796.8 186.7,796.4 188.2,796.4 189.7,798.0 191.2,795.9 192.7,796.9 194.2,797.7 195.7,797.2 197.2,796.6 198.7,797.0 200.2,797.4 201.7,797.5 203.2,796.6 204.7,797.3 206.2,797.1 207.7,797.5 209.2,797.6 210.7,796.8 212.2,796.3 213.7,797.2 215.2,797.8 216.7,797.3 218.2,797.1 219.7,798.1 221.2,796.5 222.7,797.4 224.2,796.7 225.7,797.0 227.2,797.0 228.7,797.7 230.2,796.6 231.7,796.8 233.2,796.3 234.7,798.8 236.2,796.8 237.7,797.2 239.2,796.5 240.7,796.8 242.2,797.5 243.7,796.9 245.2,797.3 246.7,797.2 248.2,796.8 249.7,796.3 251.0,797.4 251.2,798.7 252.7,797.4 254.2,796.1 255.7,796.3 257.2,796.0 258.7,796.6 260.2,797.5 261.7,797.3 263.2,797.0 264.7,797.1 266.2,797.4 267.7,796.9 269.2,797.2 270.7,797.1 272.2,796.0 273.7,796.9 275.2,797.6 276.7,796.9 278.2,797.0 279.7,796.8 281.2,796.8 282.7,797.6 284.2,798.5 285.7,796.6 287.2,795.7 288.7,796.8 290.2,796.2 291.7,796.3 293.2,797.4 294.7,797.4 296.2,796.2 297.7,797.5 299.2,797.3 300.7,796.7 302.2,797.4 303.7,796.4 305.2,796.6 306.7,796.5 308.2,796.6 309.7,797.5 311.2,796.5 312.7,796.6 314.2,796.7 315.7,798.8 317.2,797.0 318.7,797.5 320.2,796.8 321.7,796.6 323.2,796.9 324.7,797.2 326.2,796.7 327.7,797.3 329.2,798.0 330.7,796.9 332.2,797.2 333.7,797.8 335.2,796.9 336.7,796.8 338.2,796.7 339.7,797.4 341.2,797.4 342.7,797.1 344.2,797.2 345.7,797.8 347.2,797.6 348.7,796.6 350.2,797.2 351.7,797.2 352.0,797.5 353.2,797.1 354.7,796.9 356.2,797.0 357.7,796.3 359.2,797.1 360.7,796.8 362.2,797.2 363.7,796.5 365.2,796.7 366.7,796.4 368.2,796.3 369.7,797.1 371.2,796.5 372.7,796.8 374.2,796.0 375.7,796.5 377.2,795.6 378.7,796.1 380.2,796.0 381.7,796.4 383.2,796.2 384.7,795.9 385.0,796.4 386.2,796.0 387.7,796.0 389.2,796.0 390.7,795.5 392.2,795.3 393.7,795.4 395.2,794.9 396.7,795.1 398.2,795.4 399.7,795.2 401.2,794.5 402.7,794.1 403.0,794.7 404.2,793.0 405.7,795.2 407.2,794.6 408.7,794.8 410.2,796.9 411.7,794.9 413.2,795.2 414.7,796.2 416.2,796.2 417.7,796.0 419.2,796.0 420.7,795.5 422.2,796.3 423.7,796.2 425.0,796.3 425.2,796.0 426.7,796.2 428.2,796.2 429.7,796.5 431.2,797.0 432.7,796.6 434.2,795.7 435.7,796.0 437.2,797.4 438.7,796.2 440.2,795.2 441.7,796.8 443.2,796.3 444.7,796.7 446.2,796.3 447.7,796.0 449.2,796.0 450.7,796.3 452.2,797.3 453.0,796.1 453.7,797.2 455.2,797.3 456.7,796.6 458.2,796.7 459.7,796.4 461.2,796.7 462.7,797.0 464.2,796.7 465.7,797.1 467.2,797.2 468.7,796.8 470.2,796.8 471.7,796.6 473.2,796.8 474.7,797.8 476.2,796.8 477.7,796.7 479.2,796.3 480.7,797.6 482.2,796.2 483.7,794.6 485.2,796.7 486.7,794.1 488.2,796.3 489.7,795.9 491.2,796.2 492.7,796.5 494.2,796.7 495.7,797.1 497.2,796.9 498.7,797.1 500.2,796.8 501.7,796.3 503.2,797.0 504.7,796.3 506.2,796.3 507.7,797.2 509.2,796.9 510.7,796.6 512.2,796.8 513.7,796.9 515.2,795.9 516.0,796.4 516.7,795.9 518.2,796.5 519.7,796.1 521.2,797.0 522.7,796.6 524.2,796.0 525.7,796.4 527.2,795.8 528.7,796.3 530.2,796.5 531.7,796.4 533.2,795.3 534.7,796.0 536.2,796.4 537.7,796.2 539.2,796.6 540.7,795.5 542.2,796.2 543.7,795.7 545.2,796.0 546.7,796.1 548.2,796.2 549.7,795.6 551.2,795.9 552.0,795.2 552.7,795.1 554.2,796.0 555.7,795.7 557.2,794.9 558.7,795.3 560.2,795.6 561.7,796.3 563.2,796.0 564.7,795.9 566.2,794.7 567.7,795.4 569.2,795.6 570.7,795.6 572.2,795.6 573.7,795.2 575.2,794.5 576.7,795.9 578.2,795.2 579.7,794.8 581.2,796.1 582.7,794.9 584.2,795.7 585.7,795.9 587.2,794.6 588.7,795.1 590.2,794.8 591.7,795.2 593.2,795.0 594.7,795.7 596.2,795.1 597.7,794.8 599.2,795.2 600.7,794.6 602.2,794.5 603.7,797.2 604.0,794.2 605.2,794.3 606.7,794.5 608.2,793.9 609.7,793.4 611.2,794.8 612.7,793.9 614.2,793.9 615.7,793.9 617.2,793.6 618.7,793.5 620.2,793.9 621.7,794.9 623.2,794.0 624.7,794.0 626.2,792.9 627.7,793.4 629.2,792.8 630.7,793.6 632.2,793.1 633.7,793.1 635.2,792.9 636.7,791.0 638.2,792.1 639.7,792.9 641.2,791.9 642.7,791.9 644.2,792.2 645.7,791.9 647.2,792.3 648.7,792.5 650.2,792.0 651.7,791.9 653.2,791.7 654.7,792.0 656.0,790.6 656.2,791.6 657.7,790.9 659.2,790.7 660.7,792.7 662.2,790.8 663.7,792.7 665.2,791.2 666.7,789.6 668.2,790.5 669.7,791.2 671.2,790.6 672.7,789.1 674.2,790.0 675.7,789.1 677.2,789.1 678.7,789.8 680.2,789.7 681.7,788.8 683.2,788.8 684.7,788.9 686.2,787.7 687.7,788.2 689.2,788.8 690.0,789.0 690.7,787.8 692.2,788.4 693.7,787.1 695.2,786.6 696.7,785.6 698.2,786.7 699.7,785.7 701.2,786.5 702.7,785.2 704.2,784.7 705.7,784.9 707.2,784.3 708.7,782.9 710.2,782.5 711.7,781.0 713.2,781.8 714.7,781.3 716.2,779.9 717.7,779.6 718.0,779.7 719.2,779.4 720.7,778.2 722.2,778.1 723.7,776.4 725.2,775.3 726.7,774.3 728.2,772.4 729.7,772.2 731.2,772.0 732.7,770.6 734.2,769.2 735.7,768.8 736.0,767.6 737.2,767.6 738.7,767.1 740.2,766.4 741.7,764.8 743.2,764.8 744.7,764.4 746.2,762.6 747.7,762.4 749.2,760.6 750.7,759.7 752.2,760.1 753.7,759.2 755.2,758.6 756.7,757.6 758.2,757.1 758.6,757.4 759.7,757.4 761.2,755.9 762.7,754.6 764.2,755.3 765.7,752.8 767.2,753.8 768.7,753.0 770.2,753.5 771.7,752.0 773.2,751.7 774.7,750.2 776.2,750.5 777.2,750.3 777.7,750.5 779.2,750.5 780.7,749.8 782.2,750.8 783.7,749.5 785.2,749.6 786.7,751.4 788.2,749.0 789.7,748.1 791.2,749.4 792.0,748.8 792.7,749.6 794.2,747.5 795.7,745.6 797.2,742.8 798.0,741.2 798.7,740.4 800.2,739.0 800.5,736.8 801.7,735.7 803.2,732.6 804.7,730.9 804.9,730.2 806.2,726.8 807.5,721.3 807.7,718.9 809.2,712.0 810.7,705.9 811.2,702.8 812.2,697.9 813.5,689.1 813.7,689.1 815.2,676.3 816.7,662.8 817.0,660.5 818.2,650.0 819.5,639.9 819.7,638.8 821.2,629.8 822.7,623.0 823.3,622.5 824.2,624.4 825.2,630.3 825.7,634.6 826.5,644.6 827.2,651.1 828.7,664.7 829.3,669.9 830.2,675.8 831.7,681.3 832.5,684.3 833.2,688.7 834.7,694.5 836.2,701.2 836.4,703.3 837.7,713.6 838.5,721.4 839.2,729.3 840.3,740.2 840.7,742.9 842.2,752.8 843.0,756.5 843.7,760.1 845.2,765.7 846.1,768.6 846.7,769.4 848.2,772.0 849.7,774.4 851.0,776.4 851.2,777.4 852.7,776.7 854.2,778.7 855.7,780.3 857.2,780.1 858.7,781.8 859.4,781.4 860.2,782.2 861.7,782.7 863.2,782.8 864.7,783.5 866.2,783.4 867.7,784.2 869.2,785.2 870.7,786.9 872.2,785.7 873.7,785.7 875.2,785.5 876.7,786.6 878.2,785.6 879.4,786.1 879.7,786.7 881.2,786.1 882.7,787.5 884.2,787.4 885.7,786.8 887.2,786.9 888.7,786.7 890.2,786.8 891.7,787.7 893.2,787.9 894.7,787.9 896.2,787.9 897.7,787.7 899.2,788.2 900.7,787.5 902.2,788.2 903.7,789.0 905.2,789.0 906.7,788.3 908.2,788.4 909.7,787.7 911.2,789.5 912.7,788.1 914.2,788.7 915.7,789.0 917.2,789.5 918.7,788.7 920.2,789.4 921.7,789.1 923.2,790.3 924.7,789.5 926.2,789.3 927.7,789.3 929.2,789.9 930.7,789.8 932.2,789.1 933.7,789.7 935.2,789.1 936.7,789.4 938.2,789.2 939.7,790.8 941.2,789.5 942.7,789.4 944.2,790.2 945.7,790.3 947.2,789.9 948.7,789.5 950.2,790.4 951.7,789.2 953.2,789.2 954.7,790.5 956.0,790.5 956.2,790.6 957.7,790.1 959.2,789.7 960.7,790.0 962.2,790.6 963.7,790.0 965.2,790.0 966.7,789.8 968.2,789.9 969.7,790.8 971.2,790.7 972.7,790.0 974.2,790.1 975.7,790.3 977.2,790.8 978.7,790.1 980.2,790.6 981.7,789.7 983.2,790.1 984.7,790.9 986.2,791.2 987.7,790.3 989.2,790.5 990.7,791.2 992.2,790.7 993.7,790.6 995.2,791.1 996.7,791.0 998.2,791.4 999.7,791.3 1001.2,790.7 1002.7,790.9 1004.2,791.0 1005.7,790.4 1007.2,790.6 1008.7,791.5 1010.2,790.4 1011.7,791.5 1013.2,791.2 1014.7,791.0 1016.2,791.4 1017.7,791.3 1019.2,791.7 1020.7,792.6 1022.2,791.1 1023.7,791.1 1025.2,792.0 1026.7,790.0 1028.2,789.2 1029.7,791.0 1031.2,789.3 1032.0,791.2 1032.7,791.3 1034.2,792.2 1035.7,790.3 1037.2,791.6 1038.7,791.2 1040.2,790.7 1041.7,790.8 1043.2,790.6 1044.7,790.8 1046.2,791.1 1047.7,789.9 1049.2,791.1 1050.0,790.3 1050.7,791.1 1052.2,790.5 1053.7,790.8 1055.2,790.4 1056.7,790.5 1058.2,789.9 1059.7,789.3 1061.2,789.9 1062.7,789.8 1064.2,790.3 1065.7,788.3 1067.2,789.0 1068.7,791.1 1070.2,788.4 1071.7,788.9 1072.0,789.9 1073.2,789.6 1074.7,788.7 1076.2,789.8 1077.7,788.2 1079.2,789.8 1080.7,789.8 1082.2,789.9 1083.7,789.7 1085.2,790.0 1086.7,790.8 1088.2,790.8 1089.7,791.8 1091.2,791.0 1092.7,790.2 1094.2,791.3 1095.0,791.6 1095.7,791.7 1097.2,791.7 1098.7,791.4 1100.2,792.5 1101.7,791.7 1103.2,792.4 1104.7,792.0 1106.2,791.7 1107.7,793.0 1109.2,791.3 1110.7,792.1 1112.2,792.8 1113.7,792.5 1115.2,793.1 1116.7,792.8 1118.2,792.7 1119.7,793.9 1121.2,792.9 1122.7,793.0 1124.2,792.7 1125.7,792.9 1127.2,793.6 1128.7,793.6 1130.2,793.4 1131.7,793.1 1133.0,793.8 1133.2,792.7 1134.7,793.4 1136.2,793.5 1137.7,793.3 1139.2,793.8 1140.7,793.4 1142.2,793.4 1143.7,794.6 1145.2,794.2 1146.7,794.5 1148.2,794.0 1149.7,794.4 1151.2,794.4 1152.7,794.6 1154.2,795.2 1155.7,794.0 1157.2,794.3 1158.7,794.2 1160.2,792.7 1161.7,793.7 1163.2,794.3 1164.7,794.6 1166.2,794.1 1167.7,794.9 1169.2,795.0 1170.7,794.3 1172.2,795.2 1173.7,795.3 1175.2,794.8 1176.7,794.2 1178.2,795.3 1179.7,794.6 1181.2,794.5 1182.7,794.8 1184.2,794.5 1185.7,795.3 1187.2,795.2 1188.7,795.4 1190.2,795.2 1191.7,794.6 1193.2,794.9 1194.7,795.4 1196.2,794.8 1197.7,796.4 1199.2,795.0 1200.7,794.9 1202.2,795.7 1203.7,795.5 1205.2,795.2 1206.7,795.2 1208.0,795.5 1208.2,795.7 1209.7,795.7 1211.2,795.2 1212.7,795.6 1214.2,795.9 1215.7,795.9 1217.2,794.2 1218.7,795.2 1220.2,795.3 1221.7,795.6 1223.2,795.8 1224.7,796.2 1226.2,796.1 1227.7,795.9 1229.2,796.0 1230.7,796.8 1232.2,795.8 1233.7,796.2 1235.2,796.9 1236.7,796.4 1238.2,795.3 1239.7,796.5 1241.2,797.8 1242.7,796.3 1244.2,796.9 1245.7,796.7 1247.2,796.4 1248.7,796.9 1250.2,796.8 1251.7,796.6 1253.2,796.8 1254.7,796.8 1256.2,796.5 1257.7,796.5 1259.2,796.7 1260.0,796.3 1260.7,796.1 1262.2,797.3 1263.7,796.6 1265.2,796.7 1266.7,796.7 1268.2,796.8 1269.7,796.8 1271.2,796.8 1272.7,796.4 1274.2,797.2 1275.7,796.5 1277.2,797.3 1278.7,796.0 1280.2,796.4 1281.7,797.3 1283.2,796.8 1284.7,796.6 1286.2,797.0 1287.7,796.4 1289.2,796.9 1290.7,795.9 1292.2,796.7 1293.7,796.6 1295.2,797.1 1296.7,797.3 1298.2,796.5 1299.7,797.6 1301.2,796.7 1302.7,796.0 1304.2,795.9 1305.7,797.6 1307.2,795.3 1308.7,796.7 1310.2,796.6 1311.7,796.5 1313.2,797.6 1314.7,796.9 1316.2,797.8 1317.7,796.9 1319.2,795.9 1320.7,797.4 1322.2,796.8 1323.7,796.9 1325.2,796.1 1326.7,796.9 1328.2,797.5 1329.7,797.0 1331.2,796.7 1332.7,797.2 1334.2,796.7 1335.7,797.6 1336.0,797.4 1337.2,798.6 1338.7,797.3 1340.2,797.2 1341.7,796.9 1343.2,797.4 1344.7,796.9 1346.2,797.2 1347.7,796.5 1349.2,797.0 1350.7,797.1 1352.2,796.6 1353.7,796.7 1355.2,796.6 1356.7,797.2 1358.2,796.5 1359.7,797.0 1361.2,797.5 1362.7,796.9 1364.2,796.0 1365.7,796.8 1367.2,798.7 1368.7,796.5 1370.2,797.1 1371.7,796.9 1373.2,796.7 1374.7,796.4 1376.2,796.2 1377.7,796.3 1379.2,796.4 1380.7,796.6 1382.2,796.5 1383.7,796.1 1385.2,796.2 1386.7,796.3 1388.2,795.3 1389.7,795.7 1390.0,795.6 1391.2,795.8 1392.7,795.6 1394.2,795.4 1395.7,794.9 1397.2,795.2 1398.7,794.7 1400.2,793.5 1401.7,793.9 1403.2,793.1 1404.7,794.1 1406.2,793.0 1407.7,792.9 1409.0,793.0 1409.2,792.9 1410.7,793.0 1412.2,793.9 1413.7,793.5 1415.2,794.0 1416.7,794.5 1418.2,793.9 1419.7,795.4 1421.2,795.3 1422.7,795.7 1424.2,795.2 1425.7,796.1 1427.2,796.1 1428.0,795.8 1428.7,797.1 1430.2,796.4 1431.7,796.1 1433.2,796.4 1434.7,796.8 1436.2,797.0 1437.7,796.8 1439.2,797.1 1440.7,797.3 1442.2,796.2 1443.7,796.6 1445.2,796.4 1446.7,796.9 1448.2,797.6 1449.7,797.3 1451.2,796.5 1452.7,796.9 1454.2,797.5 1455.7,796.9 1457.2,797.1 1458.7,797.3 1460.2,796.4 1461.7,799.2 1462.0,797.4 1463.2,797.5 1464.7,796.8 1466.2,796.9 1467.7,797.0 1469.2,797.4 1470.7,797.3 1472.2,797.4 1473.7,798.1 1475.2,797.9 1476.7,797.0 1478.2,797.1 1479.7,798.2 1481.2,797.2 1482.7,798.0 1484.2,798.1 1485.7,797.2 1487.2,797.3 1488.7,797.5 1490.2,797.1 1491.7,797.0 1493.2,797.3 1494.7,797.9 1496.2,797.3 1497.7,797.4 1499.2,797.3 1500.7,798.5 1502.2,798.2 1503.7,796.5 1505.2,797.2 1506.7,797.8 1508.2,796.9 1509.7,797.8 1511.2,798.1 1512.7,797.2 1514.2,797.7 1515.7,797.1 1517.2,797.8 1518.7,797.6 1520.2,797.7 1521.7,798.2 1523.2,797.8 1524.7,798.2 1526.2,797.9 1527.7,797.1 1529.2,797.8 1530.7,797.9 1532.2,797.0 1533.7,798.3 1535.2,797.7 1536.7,797.9 1538.0,797.3 1538.2,797.7 1539.7,797.9 1541.2,797.6 1542.7,797.8 1544.2,796.8 1545.7,798.4 1547.2,797.3 1548.7,796.8 1550.2,797.4 1551.7,797.4 1553.2,798.1 1554.7,797.4 1556.2,798.0 1557.7,797.4 1559.2,798.9 1560.7,798.1 1562.2,798.8 1563.7,797.5 1565.2,798.2 1566.7,797.5 1568.2,798.2 1569.7,798.3 1571.2,797.3 1572.7,797.5 1574.2,797.5 1575.7,797.3 1577.2,797.7 1578.7,797.6 1580.2,797.4 1581.7,798.1 1583.2,798.3 1584.7,797.5 1586.2,797.8 1587.7,798.1 1589.2,798.0 1590.7,797.8 1592.2,798.5 1593.7,800.1 1595.2,798.5 1596.7,798.1 1598.2,799.1 1599.7,800.6 1601.2,798.1 1602.7,798.2 1604.2,797.2 1605.7,797.9 1607.2,798.5 1608.7,798.3 1610.2,798.0 1611.7,798.2 1613.2,797.6 1614.7,798.1 1616.2,797.5 1617.7,799.4 1619.2,799.1 1620.7,799.0 1622.2,798.6 1623.7,798.9 1625.2,799.0 1626.7,798.9 1628.2,798.9"/>
<path stroke="#ff0000" d="M155.2,909.9 156.7,910.4 158.2,910.3 159.7,910.3 161.2,909.8 162.7,909.9 164.2,909.9 165.7,910.3 167.2,910.6 168.7,910.8 170.2,910.0 171.7,910.3 173.2,909.6 174.7,909.3 176.2,909.9 177.7,910.0 179.2,908.0 180.7,909.5 182.2,910.6 183.7,910.0 185.2,909.6 186.7,911.4 188.2,910.4 189.7,910.2 191.2,910.7 192.7,910.0 194.2,911.1 195.7,909.7 197.2,909.8 198.7,910.3 200.2,910.0 201.7,911.0 203.2,909.7 204.7,910.1 206.2,910.5 207.7,910.7 209.2,910.9 210.7,910.6 212.2,911.4 213.7,910.2 215.2,910.5 216.7,912.4 218.2,910.3 219.7,910.3 221.2,910.2 222.7,910.2 224.2,909.9 225.7,910.2 227.2,909.8 228.7,910.6 230.2,909.7 231.7,911.4 233.2,911.2 234.7,911.0 236.2,908.8 237.7,910.2 239.2,911.0 240.7,910.6 242.2,910.7 243.7,910.2 245.2,911.0 246.7,910.1 248.2,910.5 249.7,909.7 251.0,910.2 251.2,910.7 252.7,910.3 254.2,910.3 255.7,910.8 257.2,910.4 258.7,911.0 260.2,909.4 261.7,910.7 263.2,910.7 264.7,909.8 266.2,909.9 267.7,910.9 269.2,910.0 270.7,910.2 272.2,910.7 273.7,910.3 275.2,910.7 276.7,910.1 278.2,910.6 279.7,911.0 281.2,910.6 282.7,909.5 284.2,910.8 285.7,910.5 287.2,910.1 288.7,911.1 290.2,909.7 291.7,911.3 293.2,910.2 294.7,911.2 296.2,910.5 297.7,909.9 299.2,910.5 300.7,910.6 302.2,910.7 303.7,911.0 305.2,910.1 306.7,910.7 308.2,910.8 309.7,910.4 311.2,910.1 312.7,910.0 314.2,910.8 315.7,910.8 317.2,910.1 318.7,909.9 320.2,911.0 321.7,909.8 323.2,910.5 324.7,910.1 326.2,909.7 327.7,910.5 329.2,910.4 330.7,911.1 332.2,911.5 333.7,910.4 335.2,910.9 336.7,910.9 338.2,910.2 339.7,910.1 341.2,911.2 342.7,910.3 344.2,910.5 345.7,910.3 347.2,910.4 348.7,910.2 350.2,910.8 351.7,911.0 352.0,910.3 353.2,909.9 354.7,910.5 356.2,909.8 357.7,910.2 359.2,911.0 360.7,911.5 362.2,910.6 363.7,909.9 365.2,910.7 366.7,909.4 368.2,908.4 369.7,911.0 371.2,910.6 372.7,909.7 374.2,909.5 375.7,910.6 377.2,910.2 378.7,909.9 380.2,910.3 381.7,909.9 383.2,909.2 384.7,910.4 386.2,909.8 387.7,909.6 389.2,909.4 390.7,910.1 392.2,908.0 393.7,910.2 395.2,909.8 396.7,910.3 398.2,909.6 399.7,911.1 401.2,908.9 402.7,909.2 404.2,910.0 405.7,911.1 407.2,909.1 408.7,909.2 410.2,909.8 411.7,911.4 413.2,909.3 414.7,909.6 416.2,908.8 417.7,909.4 419.2,909.9 420.7,910.2 422.2,909.4 423.7,909.4 425.2,909.7 426.7,910.0 428.0,909.7 428.2,909.1 429.7,909.6 431.2,909.9 432.7,909.2 434.2,908.9 435.7,909.7 437.2,909.7 438.7,909.9 440.2,909.5 441.7,909.2 443.2,909.3 444.7,909.1 446.2,909.1 447.7,909.3 449.2,909.3 450.7,910.0 452.2,909.0 453.7,909.5 455.2,909.3 456.7,910.2 458.2,909.7 459.7,909.4 461.2,910.0 462.7,909.6 464.2,909.4 465.7,910.3 467.2,910.0 468.7,910.4 470.2,910.2 471.7,910.0 473.2,909.7 474.7,909.2 476.2,910.0 477.7,909.7 479.2,910.0 480.7,909.7 482.2,909.4 483.7,909.3 485.2,910.1 486.7,910.4 488.2,908.1 489.7,910.0 491.2,910.4 492.7,909.4 494.2,909.7 495.7,909.3 497.2,910.4 498.7,910.0 500.2,909.6 501.7,909.1 503.2,909.8 504.7,910.3 506.2,909.7 507.7,909.7 509.2,910.2 510.7,909.3 512.2,909.9 513.7,910.1 515.2,909.5 516.0,909.5 516.7,910.0 518.2,909.8 519.7,909.8 521.2,910.0 522.7,910.0 524.2,909.5 525.7,909.6 527.2,910.1 528.7,910.4 530.2,908.9 531.7,909.5 533.2,910.3 534.7,910.2 536.2,909.8 537.7,910.1 539.2,910.2 540.7,910.6 542.2,909.4 543.7,910.1 545.2,909.8 546.7,909.7 548.2,910.3 549.7,910.2 551.2,909.3 552.0,909.7 552.7,909.9 554.2,909.1 555.7,910.1 557.2,909.7 558.7,909.8 560.2,908.2 561.7,910.5 563.2,909.6 564.7,907.8 566.2,910.3 567.7,909.3 569.2,909.2 570.7,908.8 572.2,909.8 573.7,909.4 575.2,909.4 576.7,909.2 578.2,909.0 579.7,908.7 581.2,908.6 582.7,909.1 584.2,908.9 585.7,909.5 587.2,908.4 588.7,908.4 590.2,909.7 591.7,909.1 593.2,907.9 594.7,908.7 596.2,909.0 597.7,908.2 599.2,908.5 600.7,907.2 602.2,907.9 603.7,907.3 604.0,908.1 605.2,907.9 606.7,907.5 608.2,908.2 609.7,907.9 611.2,907.5 612.7,907.4 614.2,905.3 615.7,907.4 617.2,908.4 618.7,907.1 620.2,907.5 621.7,907.0 623.2,907.6 624.7,907.4 626.2,907.0 627.7,906.2 629.2,906.7 630.7,907.4 632.2,905.1 633.7,907.1 635.2,906.5 636.7,905.8 638.2,906.8 639.7,906.6 641.2,906.2 642.7,906.2 644.2,906.4 645.7,905.9 647.2,906.3 648.7,905.9 650.2,904.9 651.7,905.8 653.2,905.5 654.7,905.3 656.0,905.8 656.2,905.4 657.7,905.7 659.2,905.9 660.7,903.8 662.2,904.5 663.7,904.8 665.2,905.4 666.7,904.8 668.2,902.8 669.7,904.6 671.2,904.8 672.7,904.6 674.2,904.6 675.7,903.8 677.2,903.9 678.7,903.8 680.2,903.8 681.7,902.7 683.2,903.4 684.7,902.8 686.2,903.8 687.7,902.1 689.2,903.6 690.7,903.0 692.2,902.2 693.7,902.7 695.2,902.0 696.7,902.1 698.2,901.2 699.0,901.2 699.7,901.6 701.2,901.9 702.7,900.7 704.2,901.4 705.7,901.2 707.2,898.9 708.7,899.0 710.2,898.0 711.7,897.8 713.2,897.1 714.7,896.7 716.2,896.6 717.7,895.9 719.2,895.0 720.7,892.7 722.2,893.7 723.7,893.1 725.0,892.7 725.2,892.4 726.7,892.1 728.2,890.7 729.7,891.1 731.2,890.9 732.7,889.6 734.2,888.2 735.7,888.7 737.2,888.8 738.7,885.1 740.0,885.4 740.2,885.6 741.7,883.9 743.2,882.2 744.7,880.2 746.2,878.5 747.7,876.2 749.2,873.7 750.7,874.7 752.2,873.9 753.7,872.1 754.0,872.1 755.2,871.9 756.7,870.1 758.2,869.3 759.7,869.4 761.2,868.9 762.7,867.9 763.3,866.8 764.2,867.3 765.7,865.9 767.2,865.9 768.7,864.7 770.0,864.1 770.2,864.2 771.7,864.1 773.2,862.4 773.5,862.5 774.7,862.6 776.2,864.3 777.7,864.7 779.0,865.9 779.2,865.6 780.7,866.6 782.2,865.1 783.7,864.6 785.2,864.2 786.6,864.0 786.7,864.4 788.2,863.1 789.7,862.1 791.2,860.1 792.0,860.0 792.7,859.8 794.2,858.1 795.7,856.0 795.9,855.3 797.2,853.0 798.7,850.5 800.2,846.6 801.2,843.9 801.7,843.4 803.2,837.2 804.7,831.5 805.6,825.3 806.2,821.9 807.7,808.7 808.0,807.3 809.2,800.1 810.5,795.0 810.7,794.2 812.2,789.0 813.1,788.2 813.7,789.7 815.2,797.1 815.5,797.4 816.7,801.5 818.2,807.2 819.7,813.0 820.0,814.0 821.2,820.5 822.4,823.5 822.7,826.7 824.2,830.7 825.5,835.7 825.7,834.7 827.2,839.1 828.7,843.5 829.1,844.3 830.2,851.8 831.7,863.8 833.2,871.2 834.5,875.6 834.7,878.2 836.2,883.9 837.7,888.7 837.8,889.3 839.2,891.1 840.7,891.8 842.2,893.2 843.7,894.2 845.2,894.9 846.7,895.8 847.1,895.7 848.2,896.2 849.7,896.0 851.2,896.7 852.7,897.7 854.2,897.2 855.7,898.4 857.2,898.4 858.7,898.6 860.2,899.5 861.0,899.1 861.7,899.1 863.2,899.5 864.7,900.1 866.2,901.5 867.7,899.6 869.2,900.8 870.7,900.9 872.2,901.5 873.7,901.1 875.0,900.2 875.2,900.3 876.7,900.8 878.2,901.3 879.7,900.8 880.0,900.9 881.2,901.2 882.7,901.8 884.2,901.9 885.7,901.3 887.2,901.8 888.7,901.5 890.2,901.8 891.7,901.9 893.2,902.2 894.7,901.7 896.2,902.0 897.7,902.2 899.2,902.2 900.7,901.9 902.2,903.1 903.7,902.3 905.2,902.9 906.7,902.7 908.2,903.3 909.7,901.9 911.2,903.8 912.7,902.9 914.2,902.6 915.7,903.3 917.2,904.3 918.7,903.6 920.2,903.0 921.7,903.4 923.2,904.3 924.7,903.2 926.2,903.8 927.7,903.8 929.2,905.0 930.7,904.0 932.2,904.8 933.7,904.0 935.2,904.0 936.7,904.9 938.2,903.2 939.7,903.9 941.2,905.0 942.7,905.1 944.2,904.6 945.7,905.0 947.2,905.1 948.7,904.8 950.2,904.8 951.7,904.8 953.2,905.0 954.7,904.6 956.0,905.2 956.2,904.5 957.7,905.2 959.2,905.2 960.7,904.8 962.2,905.7 963.7,906.2 965.2,905.9 966.7,904.8 968.2,904.4 969.7,905.5 971.2,905.4 972.7,905.2 974.2,905.5 975.7,906.1 977.2,905.8 978.7,905.4 980.2,905.3 981.7,905.4 983.2,905.9 984.7,906.5 986.2,905.2 987.7,905.7 989.2,905.5 990.7,905.4 992.2,905.9 993.7,906.0 995.2,905.1 996.7,905.3 998.2,906.3 999.7,906.0 1001.2,906.1 1002.7,905.6 1004.2,905.7 1005.7,906.1 1007.2,905.7 1008.7,905.4 1010.2,905.9 1011.7,906.3 1013.2,905.5 1014.7,906.4 1016.2,906.3 1017.7,905.6 1019.2,906.0 1020.7,905.9 1022.2,906.2 1023.7,906.3 1025.2,905.4 1026.7,905.4 1028.2,906.4 1029.7,906.0 1031.2,906.2 1032.0,906.1 1032.7,906.7 1034.2,905.4 1035.7,906.4 1037.2,905.6 1038.7,906.2 1040.2,906.4 1041.7,905.2 1043.2,905.9 1044.7,905.6 1046.2,905.5 1047.7,905.6 1049.2,905.0 1050.0,905.1 1050.7,905.8 1052.2,905.8 1053.7,905.1 1055.2,904.6 1056.7,906.2 1058.2,905.6 1059.7,905.2 1061.2,902.9 1062.7,904.6 1064.2,904.9 1065.7,904.3 1067.2,905.4 1068.7,904.8 1070.0,904.9 1070.2,902.6 1071.7,904.3 1073.2,904.4 1074.7,904.9 1076.2,904.8 1077.7,904.9 1079.2,903.7 1080.7,905.4 1082.2,906.1 1083.7,905.5 1085.2,905.3 1086.7,905.8 1088.2,906.6 1089.7,905.9 1091.2,906.3 1092.7,906.2 1094.2,906.6 1095.0,906.6 1095.7,906.2 1097.2,906.5 1098.7,905.5 1100.2,907.2 1101.7,907.2 1103.2,907.2 1104.7,906.7 1106.2,906.8 1107.7,907.4 1109.2,906.5 1110.7,907.1 1112.2,906.3 1113.7,907.0 1115.2,906.9 1116.7,906.7 1118.2,907.6 1119.7,905.4 1121.2,907.2 1122.7,907.3 1124.2,907.1 1125.7,908.1 1127.2,907.3 1128.7,907.7 1130.2,907.0 1131.7,907.4 1133.0,907.5 1133.2,907.6 1134.7,907.5 1136.2,907.8 1137.7,908.5 1139.2,907.8 1140.7,907.8 1142.2,907.7 1143.7,909.0 1145.2,908.7 1146.7,908.2 1148.2,908.3 1149.7,907.7 1151.2,908.0 1152.7,908.2 1154.2,908.2 1155.7,907.8 1157.2,907.8 1158.7,908.4 1160.2,908.3 1161.7,907.3 1163.2,908.3 1164.7,908.8 1166.2,908.0 1167.7,908.4 1169.2,907.7 1170.7,908.7 1172.2,907.9 1173.7,907.9 1175.2,908.3 1176.7,909.5 1178.2,908.2 1179.7,907.9 1181.2,908.7 1182.7,908.7 1184.2,909.3 1185.7,908.0 1187.2,907.9 1188.7,906.9 1190.2,908.8 1191.7,908.9 1193.2,909.2 1194.7,908.1 1196.2,908.4 1197.7,908.7 1199.2,909.2 1200.7,909.1 1202.2,908.7 1203.7,908.5 1205.2,909.3 1206.7,909.4 1208.0,910.2 1208.2,908.9 1209.7,909.7 1211.2,908.5 1212.7,908.9 1214.2,908.8 1215.7,909.0 1217.2,908.8 1218.7,909.0 1220.2,909.3 1221.7,909.1 1223.2,909.7 1224.7,909.4 1226.2,909.5 1227.7,910.2 1229.2,909.7 1230.7,909.7 1232.2,909.7 1233.7,909.7 1235.2,910.0 1236.7,909.4 1238.2,910.3 1239.7,910.6 1241.2,910.4 1242.7,909.7 1244.2,909.3 1245.7,909.8 1247.2,910.1 1248.7,910.4 1250.2,910.0 1251.7,908.4 1253.2,910.8 1254.7,909.9 1256.2,910.6 1257.7,910.6 1259.2,909.6 1260.0,910.3 1260.7,909.9 1262.2,909.8 1263.7,909.4 1265.2,909.5 1266.7,910.4 1268.2,910.0 1269.7,910.3 1271.2,909.7 1272.7,910.0 1274.2,910.1 1275.7,909.5 1277.2,909.5 1278.7,908.8 1280.2,910.3 1281.7,909.8 1283.2,910.1 1284.7,910.5 1286.2,911.0 1287.7,909.8 1289.2,910.5 1290.7,911.1 1292.2,910.2 1293.7,910.8 1295.2,909.0 1296.7,910.8 1298.2,910.2 1299.7,909.4 1301.2,910.5 1302.7,910.6 1304.2,910.7 1305.7,910.7 1307.2,910.2 1308.7,909.9 1310.2,910.0 1311.7,910.2 1313.2,910.4 1314.7,910.0 1316.2,910.2 1317.7,910.6 1319.2,910.3 1320.7,911.2 1322.2,911.1 1323.7,909.7 1325.2,909.9 1326.7,909.6 1328.2,909.7 1329.7,910.4 1331.2,909.7 1332.7,909.7 1334.2,910.1 1335.7,910.5 1336.0,910.0 1337.2,910.0 1338.7,910.6 1340.2,910.4 1341.7,910.4 1343.2,910.6 1344.7,909.7 1346.2,911.9 1347.7,909.9 1349.2,910.6 1350.7,910.5 1352.2,909.7 1353.7,910.7 1355.2,909.6 1356.7,910.6 1358.2,911.8 1359.7,909.7 1361.2,909.6 1362.7,909.9 1364.2,911.6 1365.7,909.7 1367.2,910.2 1368.7,909.4 1370.2,910.0 1371.7,909.9 1373.2,909.1 1374.7,910.0 1376.2,909.3 1377.7,908.7 1379.2,909.5 1380.7,909.7 1382.2,910.1 1383.7,909.5 1385.2,910.3 1386.7,910.3 1388.2,910.1 1389.7,910.2 1391.2,909.7 1392.7,909.2 1393.0,909.8 1394.2,909.8 1395.7,909.4 1397.2,908.9 1398.7,908.0 1400.2,908.6 1401.7,908.1 1403.2,907.0 1404.7,907.3 1406.2,907.2 1407.7,906.5 1409.2,906.7 1410.7,906.6 1412.0,905.5 1412.2,906.1 1413.7,906.5 1415.2,905.2 1416.7,907.3 1418.2,906.1 1419.7,907.3 1421.2,908.0 1422.7,908.6 1424.2,909.2 1425.7,908.4 1427.2,908.9 1428.7,908.9 1430.0,909.8 1430.2,908.9 1431.7,910.2 1433.2,910.2 1434.7,910.1 1436.2,909.0 1437.7,909.8 1439.2,910.5 1440.7,909.7 1442.2,910.3 1443.7,910.5 1445.2,911.0 1446.7,910.8 1448.2,910.9 1449.7,910.6 1451.2,910.9 1452.7,912.5 1454.2,911.3 1455.7,911.0 1457.2,911.6 1458.7,910.4 1460.2,911.7 1461.7,911.1 1462.0,911.7 1463.2,911.2 1464.7,911.6 1466.2,911.9 1467.7,911.0 1469.2,911.3 1470.7,911.2 1472.2,911.4 1473.7,910.6 1475.2,911.2 1476.7,911.2 1478.2,912.6 1479.7,911.2 1481.2,910.6 1482.7,912.0 1484.2,911.5 1485.7,912.2 1487.2,911.0 1488.7,910.8 1490.2,911.5 1491.7,910.6 1493.2,911.5 1494.7,911.1 1496.2,911.3 1497.7,911.5 1499.2,911.4 1500.7,912.2 1502.2,911.7 1503.7,910.9 1505.2,911.9 1506.7,910.8 1508.2,911.5 1509.7,912.5 1511.2,911.1 1512.7,912.0 1514.2,911.2 1515.7,911.2 1517.2,911.2 1518.7,909.7 1520.2,912.1 1521.7,910.9 1523.2,910.9 1524.7,911.7 1526.2,910.8 1527.7,911.3 1529.2,912.0 1530.7,909.9 1532.2,911.3 1533.7,911.2 1535.2,911.1 1536.7,911.2 1538.0,911.5 1538.2,912.0 1539.7,911.9 1541.2,911.2 1542.7,911.2 1544.2,911.8 1545.7,909.1 1547.2,911.3 1548.7,911.3 1550.2,911.0 1551.7,911.0 1553.2,911.6 1554.7,910.7 1556.2,911.1 1557.7,911.2 1559.2,911.5 1560.7,910.9 1562.2,912.0 1563.7,911.3 1565.2,911.4 1566.7,911.3 1568.2,911.2 1569.7,909.4 1571.2,912.0 1572.7,911.6 1574.2,911.4 1575.7,911.9 1577.2,911.2 1578.7,911.8 1580.2,911.5 1581.7,911.1 1583.2,911.8 1584.7,910.8 1586.2,911.8 1587.7,911.1 1589.2,911.7 1590.7,910.5 1592.2,911.7 1593.7,911.2 1595.2,911.5 1596.7,911.3 1598.2,910.9 1599.7,911.0 1601.2,911.5 1602.7,911.7 1604.2,910.7 1605.7,911.4 1607.2,911.7 1608.7,911.5 1610.2,911.0 1611.7,911.9 1613.2,910.9 1614.7,911.8 1616.2,912.2 1617.7,910.6 1619.2,911.6 1620.7,911.6 1622.2,911.6 1623.7,911.1 1625.2,911.3 1626.7,910.8 1628.2,911.5"/>
<path stroke="#000000" d="M155.2,1023.6 156.7,1023.6 158.2,1022.7 159.7,1022.5 161.2,1023.3 162.7,1023.5 164.2,1022.7 165.7,1024.6 167.2,1022.8 168.7,1022.7 170.2,1022.6 171.7,1023.2 173.2,1023.0 174.7,1022.9 176.2,1022.0 177.7,1023.9 179.2,1022.7 180.7,1023.1 182.2,1022.6 183.7,1023.3 185.2,1022.5 186.7,1023.1 188.2,1023.0 189.7,1023.5 191.2,1022.6 192.7,1022.8 194.2,1023.0 195.7,1024.0 197.2,1020.8 198.7,1023.2 200.2,1022.8 201.7,1023.2 203.2,1023.3 204.7,1023.1 206.2,1023.2 207.7,1023.2 209.2,1022.8 210.7,1022.9 212.2,1022.3 213.7,1024.5 215.2,1022.7 216.7,1022.9 218.2,1023.3 219.7,1023.2 221.2,1023.2 222.7,1023.5 224.2,1022.0 225.7,1023.2 227.2,1023.0 228.7,1021.3 230.2,1022.4 231.7,1023.2 233.2,1023.5 234.7,1023.4 236.2,1022.9 237.7,1024.8 239.2,1023.4 240.7,1023.7 242.2,1023.5 243.7,1023.0 245.2,1023.0 246.7,1023.0 248.2,1023.0 249.7,1022.7 251.2,1023.3 252.7,1022.6 254.2,1022.6 255.7,1023.1 257.2,1022.7 258.7,1022.8 260.2,1022.0 261.7,1023.2 263.2,1022.9 264.7,1022.8 266.2,1023.1 267.7,1023.0 269.2,1022.6 270.7,1023.7 272.2,1022.7 273.7,1023.3 275.2,1023.7 276.7,1022.6 278.2,1022.9 279.7,1022.5 281.2,1023.3 282.7,1022.7 284.2,1022.4 285.7,1025.0 287.2,1023.2 288.7,1022.5 290.2,1023.3 291.7,1022.9 293.2,1024.0 294.7,1023.6 296.2,1022.6 297.7,1022.7 299.2,1022.4 300.7,1022.9 302.2,1022.8 303.7,1023.1 305.2,1022.8 306.7,1022.2 308.2,1022.5 309.7,1023.4 311.2,1024.9 312.7,1022.7 314.2,1022.7 315.7,1022.7 317.2,1022.8 318.7,1022.1 320.2,1023.2 321.7,1022.5 323.2,1022.8 324.7,1021.7 326.2,1022.9 327.7,1023.3 329.2,1021.8 330.7,1023.4 332.2,1023.0 333.7,1022.4 335.2,1022.1 336.7,1023.2 338.2,1024.5 339.7,1023.0 341.2,1022.6 342.7,1022.4 344.2,1023.1 345.7,1022.3 347.2,1023.1 348.7,1022.0 350.2,1022.3 351.7,1020.5 353.2,1023.3 354.7,1022.0 356.2,1022.2 357.7,1023.0 359.2,1022.8 360.7,1023.7 362.2,1023.5 363.7,1023.0 365.2,1024.6 366.7,1021.9 368.2,1022.3 369.7,1022.6 371.2,1022.6 372.7,1022.1 374.2,1022.3 375.7,1022.3 377.2,1023.1 378.7,1022.9 380.2,1022.5 381.7,1022.6 383.2,1022.8 384.7,1020.8 386.2,1022.6 387.7,1021.9 389.2,1023.0 390.7,1023.1 392.2,1022.8 393.7,1022.9 395.2,1022.8 396.7,1023.5 398.2,1022.8 399.7,1022.1 401.2,1022.2 402.7,1023.0 404.2,1023.1 405.7,1023.0 407.2,1023.0 408.7,1022.7 410.2,1022.0 411.7,1022.3 413.2,1021.9 414.7,1022.5 416.2,1022.1 417.7,1022.7 419.2,1022.6 420.7,1021.8 422.2,1023.0 423.7,1023.0 425.2,1022.0 426.7,1024.3 428.2,1022.9 429.7,1022.5 431.2,1023.0 432.7,1022.7 434.2,1023.1 435.7,1022.7 437.2,1022.6 438.7,1022.8 440.2,1023.0 441.7,1022.7 443.2,1022.4 444.7,1022.3 446.2,1022.5 447.7,1022.4 449.2,1022.7 450.7,1022.7 452.2,1022.6 453.7,1022.6 455.2,1022.7 456.7,1023.3 458.2,1023.1 459.7,1022.4 461.2,1022.8 462.7,1022.5 464.2,1022.6 465.7,1022.5 467.2,1022.3 468.7,1022.0 470.2,1021.5 471.7,1022.7 473.2,1023.1 474.7,1022.2 476.2,1022.8 477.7,1022.4 479.2,1022.7 480.7,1022.2 482.2,1022.5 483.7,1022.5 485.2,1021.6 486.7,1022.7 488.2,1022.5 489.7,1021.5 491.2,1022.9 492.7,1022.6 494.2,1022.7 495.7,1022.7 497.2,1022.4 498.7,1022.1 500.2,1022.4 501.7,1022.4 503.2,1022.0 504.7,1023.4 506.2,1022.4 507.7,1022.4 509.2,1022.7 510.7,1022.8 512.2,1022.3 513.7,1023.8 515.2,1023.4 516.0,1023.0 516.7,1021.9 518.2,1021.8 519.7,1022.2 521.2,1022.7 522.7,1022.8 524.2,1022.4 525.7,1021.9 527.2,1022.7 528.7,1022.9 530.0,1022.6 530.2,1022.4 531.7,1022.8 533.2,1022.6 534.7,1022.1 536.2,1022.6 537.7,1022.0 539.2,1023.0 540.7,1022.7 542.2,1022.1 543.7,1022.6 545.2,1023.0 546.7,1021.5 548.2,1022.4 549.7,1023.1 551.2,1021.7 552.7,1022.3 554.2,1021.7 555.7,1022.2 557.2,1021.2 558.7,1021.5 560.2,1021.9 561.7,1022.2 563.2,1022.3 564.7,1022.2 566.2,1022.5 567.7,1022.3 569.2,1022.2 570.7,1021.4 572.2,1021.8 573.7,1023.2 575.2,1022.7 576.7,1022.0 578.2,1021.9 579.7,1022.0 581.2,1021.3 582.7,1020.7 584.2,1021.2 585.7,1021.3 587.2,1022.3 588.7,1020.3 590.2,1021.3 591.7,1020.4 593.2,1020.8 594.7,1021.0 596.2,1020.8 597.7,1021.0 599.2,1018.9 600.7,1020.7 602.2,1020.2 603.7,1020.5 605.2,1020.0 606.0,1020.9 606.7,1020.0 608.2,1020.8 609.7,1020.3 611.2,1018.6 612.7,1020.8 614.2,1020.3 615.7,1019.3 617.2,1020.3 618.7,1018.7 620.2,1020.1 621.7,1019.7 623.2,1019.1 624.7,1019.7 626.2,1019.5 627.7,1020.4 629.2,1019.2 630.7,1020.2 632.2,1019.8 633.7,1018.9 635.2,1018.7 636.7,1019.5 638.2,1018.8 639.7,1018.8 641.2,1018.5 642.7,1018.0 644.2,1018.2 645.7,1017.9 647.2,1017.5 648.7,1017.9 650.2,1018.7 651.7,1018.6 653.2,1017.7 654.7,1017.7 656.2,1017.7 657.7,1018.0 659.2,1017.4 660.7,1016.9 662.2,1016.8 663.7,1017.4 665.2,1017.9 666.7,1016.3 668.2,1015.6 669.7,1016.7 671.2,1016.2 672.7,1016.2 674.2,1016.5 675.7,1015.9 677.2,1015.1 678.7,1014.7 680.2,1015.4 681.7,1014.8 682.0,1015.4 683.2,1014.6 684.7,1014.9 686.2,1014.2 687.7,1014.6 689.2,1012.8 690.7,1014.7 692.2,1014.9 693.7,1014.1 695.2,1013.7 696.7,1014.8 698.2,1013.9 699.7,1013.8 701.2,1013.7 702.7,1013.9 704.2,1013.5 705.7,1013.2 707.2,1013.1 708.7,1012.2 710.2,1012.1 711.7,1012.2 713.2,1012.1 714.7,1010.3 716.2,1011.8 717.7,1011.5 719.2,1011.1 720.7,1010.4 722.2,1011.3 723.7,1010.9 725.2,1010.1 726.7,1010.5 728.2,1010.2 729.7,1009.9 731.2,1008.8 732.0,1008.9 732.7,1009.1 734.2,1009.8 735.7,1008.4 737.2,1008.4 738.7,1007.7 740.2,1007.6 741.7,1007.6 743.2,1006.2 744.7,1005.5 746.2,1006.7 747.7,1006.1 749.2,1005.5 750.7,1005.9 752.2,1005.6 753.7,1004.0 755.2,1004.7 756.7,1005.1 757.0,1004.3 758.2,1004.4 759.7,1004.8 761.2,1004.2 762.7,1003.7 764.2,1003.8 765.7,1003.5 767.2,1004.3 768.7,1003.2 770.0,1004.4 770.2,1003.2 771.7,1004.0 773.2,1003.4 774.7,1004.0 776.2,1004.6 777.7,1006.4 779.2,1004.9 780.7,1004.4 782.2,1004.6 783.0,1004.7 783.7,1004.9 785.2,1004.6 786.7,1005.4 788.2,1005.2 789.7,1005.7 791.2,1005.6 792.7,1005.9 794.2,1005.4 795.7,1005.8 797.2,1005.6 798.7,1006.3 800.2,1006.5 801.7,1007.2 803.2,1006.5 804.7,1008.7 806.2,1007.4 807.7,1008.2 808.0,1008.2 809.2,1006.7 810.7,1007.9 812.2,1008.9 813.7,1009.0 815.2,1009.0 816.7,1008.5 818.2,1008.9 819.7,1009.4 821.2,1008.7 822.7,1009.8 824.2,1009.6 825.7,1009.8 827.2,1010.7 828.7,1012.2 830.2,1010.9 831.7,1011.2 833.2,1011.2 834.7,1011.1 836.2,1011.7 837.7,1012.5 839.2,1012.0 840.7,1012.5 842.2,1012.2 843.7,1013.6 845.2,1011.9 846.0,1013.0 846.7,1013.0 848.2,1013.0 849.7,1012.5 851.2,1012.7 852.7,1013.2 854.2,1013.5 855.7,1013.0 857.2,1013.2 858.7,1014.1 860.2,1014.5 861.7,1013.9 863.2,1013.9 864.7,1014.0 866.2,1015.6 867.7,1014.8 869.2,1014.7 870.7,1015.3 872.2,1016.0 873.7,1015.6 875.2,1014.6 876.7,1015.3 878.2,1015.2 879.7,1015.4 881.2,1013.5 882.7,1015.5 884.2,1015.3 885.7,1016.1 887.2,1016.0 888.7,1015.5 890.2,1015.4 891.7,1016.1 893.2,1016.6 894.7,1016.7 896.2,1016.5 897.7,1015.1 899.2,1016.4 900.0,1014.7 900.7,1016.6 902.2,1016.2 903.7,1016.6 905.2,1016.6 906.7,1018.2 908.2,1017.3 909.7,1017.0 911.2,1017.1 912.7,1017.2 914.2,1017.4 915.7,1017.1 917.2,1017.4 918.7,1017.9 920.2,1017.9 921.7,1017.7 923.2,1018.2 924.7,1017.8 926.2,1017.3 927.7,1017.0 929.2,1017.5 930.7,1017.8 932.2,1018.1 933.7,1018.4 935.2,1017.7 936.7,1017.7 938.2,1018.4 939.7,1018.7 941.2,1018.0 942.7,1018.4 944.2,1018.9 945.7,1018.5 947.2,1018.3 948.7,1017.5 950.2,1019.1 951.7,1018.8 953.2,1018.6 954.7,1018.4 956.2,1018.1 957.7,1018.6 959.2,1018.6 960.7,1019.2 962.2,1018.2 963.7,1019.5 965.2,1018.9 966.7,1019.4 968.2,1018.5 969.7,1019.1 971.2,1019.5 972.7,1019.1 974.2,1018.4 975.7,1019.0 977.2,1019.4 978.7,1018.5 980.2,1018.6 981.7,1019.4 983.2,1018.9 984.7,1019.6 986.2,1018.8 987.7,1018.6 989.2,1019.1 990.7,1020.1 992.2,1019.1 993.7,1019.5 995.2,1019.7 996.7,1019.2 998.2,1020.1 999.7,1018.1 1001.0,1019.9 1001.2,1018.9 1002.7,1018.9 1004.2,1018.5 1005.7,1019.7 1007.2,1019.7 1008.7,1020.2 1010.2,1020.6 1011.7,1019.8 1013.2,1019.8 1014.7,1020.2 1016.2,1020.7 1017.7,1019.7 1019.2,1020.4 1020.7,1020.0 1022.2,1020.0 1023.7,1020.5 1025.2,1019.8 1026.7,1019.7 1028.2,1020.6 1029.7,1020.3 1031.2,1020.2 1032.7,1020.3 1034.2,1020.6 1035.7,1020.2 1037.2,1020.8 1038.7,1020.6 1040.2,1021.1 1041.7,1021.1 1043.2,1020.9 1044.7,1020.5 1046.2,1020.6 1047.7,1018.8 1049.2,1021.9 1050.7,1020.6 1052.2,1020.9 1053.7,1021.3 1055.2,1020.1 1056.7,1020.4 1058.2,1020.6 1059.7,1020.4 1061.2,1020.3 1062.7,1020.6 1064.2,1021.5 1065.7,1021.3 1067.2,1021.0 1068.7,1021.0 1070.2,1020.3 1071.7,1021.3 1073.2,1021.2 1074.7,1020.6 1076.2,1021.2 1077.7,1021.0 1079.2,1020.9 1080.7,1022.3 1082.2,1020.9 1083.7,1020.8 1085.2,1021.4 1086.7,1021.4 1088.2,1021.4 1089.7,1021.2 1091.2,1021.1 1092.7,1022.3 1094.2,1020.5 1095.7,1020.3 1097.2,1021.6 1098.7,1021.5 1100.2,1019.6 1101.7,1021.4 1102.0,1021.0 1103.2,1020.9 1104.7,1021.5 1106.2,1020.8 1107.7,1021.9 1109.2,1022.1 1110.7,1020.1 1112.2,1020.9 1113.7,1021.8 1115.2,1021.8 1116.7,1021.7 1118.2,1021.9 1119.7,1022.1 1121.2,1022.1 1122.7,1022.6 1124.2,1021.8 1125.7,1022.2 1127.2,1021.1 1128.7,1021.8 1130.2,1021.3 1131.7,1022.5 1133.2,1022.9 1134.7,1022.2 1136.2,1021.4 1137.7,1021.9 1139.2,1022.0 1140.7,1022.1 1142.2,1022.5 1143.7,1022.5 1145.2,1019.3 1146.7,1022.7 1148.2,1021.9 1149.7,1021.8 1151.2,1022.8 1152.7,1022.0 1154.2,1021.5 1155.7,1021.6 1157.2,1022.2 1158.7,1022.6 1160.2,1022.9 1161.7,1022.2 1163.2,1022.0 1164.7,1023.0 1166.2,1022.1 1167.7,1023.0 1169.2,1022.4 1170.7,1022.4 1172.2,1022.2 1173.7,1022.5 1175.2,1022.2 1176.7,1022.1 1178.2,1022.4 1179.7,1022.1 1181.2,1022.6 1182.7,1022.5 1184.2,1022.4 1185.7,1022.4 1187.2,1022.4 1188.7,1023.3 1190.2,1022.5 1191.7,1022.3 1193.2,1022.4 1194.7,1022.9 1196.2,1022.5 1197.7,1022.6 1199.2,1022.5 1200.7,1022.7 1202.2,1022.9 1203.0,1022.9 1203.7,1022.0 1205.2,1022.2 1206.7,1021.5 1208.2,1023.1 1209.7,1024.9 1211.2,1023.4 1212.7,1022.9 1214.2,1023.3 1215.7,1022.8 1217.2,1022.8 1218.7,1022.2 1220.2,1022.5 1221.7,1022.7 1223.2,1023.4 1224.7,1023.7 1226.2,1021.2 1227.7,1023.2 1229.2,1023.1 1230.7,1022.7 1232.2,1022.3 1233.7,1022.7 1235.2,1022.4 1236.7,1023.0 1238.2,1023.1 1239.7,1023.1 1241.2,1023.1 1242.7,1023.4 1244.2,1022.8 1245.7,1023.6 1247.2,1022.5 1248.7,1023.3 1250.2,1023.4 1251.7,1022.9 1253.2,1022.6 1254.7,1023.6 1256.2,1023.0 1257.7,1023.7 1259.2,1025.3 1260.7,1023.4 1262.2,1023.4 1263.7,1023.8 1265.2,1023.6 1266.7,1023.0 1268.2,1023.5 1269.7,1023.7 1271.2,1023.5 1272.7,1023.5 1274.2,1023.4 1275.7,1023.4 1277.2,1023.1 1278.7,1022.8 1279.0,1024.0 1280.2,1023.2 1281.7,1023.6 1283.2,1022.8 1284.7,1023.6 1286.2,1023.1 1287.7,1024.8 1289.2,1023.1 1290.7,1023.1 1292.2,1023.9 1293.7,1024.0 1295.2,1022.6 1296.7,1023.7 1298.2,1023.9 1299.7,1023.0 1301.2,1023.9 1302.7,1023.3 1304.2,1023.1 1305.7,1023.4 1307.2,1023.4 1308.7,1023.0 1310.2,1024.6 1311.7,1023.4 1313.2,1023.3 1314.7,1024.0 1316.2,1023.6 1317.7,1024.2 1319.2,1021.9 1320.7,1023.8 1322.2,1023.6 1323.7,1023.7 1325.2,1023.5 1326.7,1023.6 1328.2,1024.4 1329.7,1023.3 1331.2,1023.4 1332.7,1023.5 1334.2,1023.9 1335.7,1023.8 1337.2,1024.1 1338.7,1023.1 1340.2,1023.8 1341.7,1023.6 1343.2,1023.5 1344.7,1023.7 1346.2,1022.8 1347.7,1023.8 1349.2,1023.7 1350.7,1023.0 1352.2,1023.6 1353.7,1024.4 1355.2,1023.5 1356.7,1024.0 1358.2,1023.6 1359.7,1023.3 1361.2,1023.3 1362.7,1023.5 1364.2,1024.3 1365.7,1024.1 1367.2,1023.4 1368.7,1024.2 1370.2,1023.7 1371.7,1023.4 1373.2,1023.9 1374.7,1023.3 1376.2,1023.0 1377.7,1024.3 1379.2,1022.9 1380.7,1024.0 1382.2,1023.1 1383.7,1023.7 1385.2,1023.7 1386.7,1023.6 1388.2,1022.8 1389.7,1023.7 1391.2,1023.7 1392.7,1023.4 1394.2,1023.7 1395.7,1024.2 1397.2,1023.5 1398.7,1023.9 1400.2,1023.3 1401.7,1024.0 1403.2,1024.1 1404.7,1024.9 1406.2,1024.2 1407.7,1024.0 1409.2,1024.4 1410.7,1023.4 1412.2,1024.3 1413.7,1023.6 1415.2,1023.5 1416.7,1024.3 1418.2,1023.9 1419.7,1024.4 1421.2,1023.2 1422.7,1023.9 1424.2,1023.6 1425.7,1023.7 1427.2,1023.0 1428.7,1024.2 1430.2,1023.9 1431.7,1023.4 1433.2,1023.2 1434.7,1023.5 1436.2,1024.5 1437.7,1023.8 1439.2,1023.7 1440.7,1024.1 1442.2,1023.9 1443.7,1024.0 1445.2,1024.2 1446.7,1024.0 1448.2,1024.3 1449.7,1023.3 1451.2,1023.9 1452.7,1023.7 1454.2,1023.9 1455.7,1023.9 1457.2,1023.6 1458.7,1023.7 1460.2,1024.3 1461.7,1023.6 1463.2,1023.3 1464.7,1024.2 1466.2,1024.3 1467.7,1023.8 1469.2,1024.0 1470.7,1023.5 1472.2,1023.8 1473.7,1024.4 1475.2,1024.3 1476.7,1025.6 1478.2,1023.8 1479.7,1023.2 1481.2,1024.1 1482.7,1024.1 1484.2,1024.4 1485.7,1024.8 1487.2,1024.1 1488.7,1024.3 1490.2,1023.4 1491.7,1022.9 1493.2,1024.3 1494.7,1024.5 1496.2,1024.2 1497.7,1024.1 1499.2,1024.6 1500.7,1023.6 1502.2,1024.2 1503.7,1024.4 1505.2,1023.6 1506.7,1023.4 1508.2,1024.1 1509.7,1024.0 1511.2,1024.2 1512.7,1024.2 1514.2,1023.6 1515.7,1024.1 1517.2,1024.5 1518.7,1023.8 1520.2,1023.8 1521.7,1023.5 1523.2,1024.3 1524.7,1023.2 1526.2,1023.4 1527.7,1024.3 1529.2,1024.4 1530.7,1023.7 1532.2,1023.8 1533.7,1023.5 1535.2,1023.6 1536.7,1024.0 1538.2,1024.3 1539.7,1024.0 1541.2,1024.4 1542.7,1024.1 1544.2,1023.5 1545.7,1024.6 1547.2,1024.5 1548.7,1023.7 1550.2,1024.8 1551.7,1024.2 1553.2,1024.0 1554.7,1024.8 1556.2,1022.9 1557.7,1023.3 1559.2,1024.3 1560.7,1023.9 1562.2,1023.6 1563.7,1024.7 1565.2,1024.2 1566.7,1023.4 1568.2,1023.7 1569.7,1024.4 1571.2,1026.4 1572.7,1023.1 1574.2,1024.1 1575.7,1023.8 1577.2,1023.2 1578.7,1023.9 1580.2,1023.3 1581.7,1023.8 1583.2,1024.7 1584.7,1024.2 1586.2,1024.3 1587.7,1024.3 1589.2,1024.2 1590.7,1024.4 1592.2,1023.5 1593.7,1023.9 1595.2,1024.4 1596.7,1023.7 1598.2,1023.8 1599.7,1024.5 1601.2,1024.7 1602.7,1023.7 1604.2,1023.7 1605.7,1024.3 1607.2,1024.1 1608.7,1023.7 1610.2,1024.3 1611.7,1024.3 1613.2,1024.1 1614.7,1025.3 1616.2,1024.6 1617.7,1024.4 1619.2,1024.5 1620.7,1025.3 1622.2,1024.5 1623.7,1022.1 1625.2,1024.2 1626.7,1024.1 1628.2,1023.8"/>
</g>
<rect x="154.2" y="14.6" width="1476.3" height="1094.4" fill="none" stroke="#000" stroke-width="5.0" stroke-linejoin="miter"/>
<path d="M156.2,129.5H177.2 M156.2,244.7H167.2 M156.2,359.8H177.2 M156.2,475.0H167.2 M156.2,590.1H177.2 M156.2,705.2H167.2 M156.2,820.4H177.2 M156.2,935.6H167.2 M156.2,1050.7H177.2 M301.8,1107.0V1096.0 M449.5,1107.0V1086.0 M597.1,1107.0V1096.0 M744.7,1107.0V1086.0 M892.3,1107.0V1096.0 M1040.0,1107.0V1086.0 M1187.6,1107.0V1096.0 M1335.2,1107.0V1086.0 M1482.9,1107.0V1096.0" stroke="#000" stroke-width="5.0" fill="none"/>
<g fill="none" stroke-width="7.4" stroke-linejoin="round" stroke-linecap="round" shape-rendering="crispEdges">
<path stroke="#ff00ff" d="M158.5,1831.3 160.0,1831.4 161.5,1831.3 163.0,1831.4 164.5,1832.1 166.0,1831.7 167.5,1830.9 169.0,1831.3 170.5,1831.8 172.0,1831.2 173.5,1831.5 175.0,1833.1 176.5,1831.7 178.0,1831.4 179.5,1831.4 181.0,1831.1 182.5,1831.7 184.0,1831.1 185.5,1832.3 187.0,1831.5 188.5,1831.4 190.0,1831.9 191.5,1833.1 193.0,1831.5 194.5,1831.5 196.0,1831.2 197.5,1831.1 199.0,1831.2 200.5,1832.0 202.0,1829.6 203.5,1831.3 205.0,1831.3 206.5,1831.8 208.0,1832.4 209.5,1831.1 211.0,1830.2 212.5,1831.6 214.0,1831.4 215.5,1831.7 217.0,1830.9 218.5,1831.9 220.0,1831.6 221.5,1831.0 223.0,1832.2 224.5,1831.9 226.0,1832.0 227.5,1830.8 229.0,1831.4 230.5,1831.3 232.0,1831.8 233.5,1832.1 235.0,1829.0 236.5,1831.5 238.0,1831.4 239.5,1832.0 241.0,1831.5 242.5,1830.9 244.0,1831.4 245.5,1831.0 247.0,1831.1 248.5,1831.5 250.0,1831.3 251.5,1833.2 253.0,1830.8 254.5,1832.6 256.0,1832.1 257.5,1831.8 259.0,1830.9 260.5,1830.5 262.0,1831.1 263.5,1831.4 265.0,1832.5 266.5,1832.1 268.0,1831.3 269.5,1832.1 271.0,1832.1 272.5,1831.5 274.0,1832.1 275.5,1831.7 277.0,1831.2 278.5,1831.0 280.0,1831.4 281.5,1832.0 283.0,1830.9 284.5,1830.8 286.0,1831.8 287.5,1830.2 289.0,1833.9 290.5,1831.3 292.0,1831.8 293.5,1830.8 295.0,1830.8 296.5,1831.0 298.0,1832.5 299.5,1831.4 301.0,1831.4 302.5,1831.6 304.0,1832.0 305.5,1832.1 307.0,1831.6 308.5,1831.3 310.0,1831.5 311.5,1831.6 313.0,1832.1 314.5,1831.6 316.0,1832.3 317.5,1831.1 319.0,1831.7 320.5,1832.3 322.0,1832.1 323.5,1831.7 325.0,1831.1 326.5,1831.2 328.0,1831.4 329.5,1831.6 331.0,1831.4 332.5,1830.8 334.0,1831.2 335.5,1831.7 337.0,1831.9 338.5,1830.9 340.0,1831.3 341.5,1832.3 343.0,1831.2 344.5,1833.1 346.0,1831.5 347.5,1831.3 349.0,1831.2 350.5,1830.9 352.0,1830.6 353.5,1831.5 355.0,1831.4 356.5,1832.2 358.0,1830.7 359.5,1831.7 361.0,1832.1 362.5,1830.6 364.0,1831.8 365.5,1830.8 367.0,1831.7 368.5,1832.2 370.0,1831.5 371.5,1831.6 373.0,1831.2 374.5,1831.6 376.0,1832.0 377.5,1831.4 379.0,1829.8 380.5,1831.7 382.0,1831.9 383.5,1830.7 385.0,1831.5 386.5,1831.2 388.0,1831.7 389.5,1832.0 391.0,1831.6 392.5,1832.1 394.0,1831.0 395.5,1831.3 397.0,1831.0 398.5,1831.5 400.0,1831.5 401.5,1831.4 403.0,1830.9 404.5,1831.5 406.0,1831.3 407.5,1831.8 409.0,1831.4 410.5,1832.0 412.0,1831.6 413.5,1830.6 415.0,1831.4 416.5,1830.8 418.0,1831.9 419.5,1832.2 421.0,1831.5 422.5,1831.7 424.0,1830.8 425.5,1830.5 427.0,1831.2 428.5,1831.4 430.0,1830.8 431.5,1831.5 433.0,1831.6 434.5,1831.8 436.0,1832.2 437.5,1831.9 439.0,1831.3 440.5,1831.5 442.0,1831.8 443.5,1831.0 445.0,1832.1 446.5,1831.9 448.0,1831.4 449.5,1831.2 451.0,1834.9 452.5,1831.9 454.0,1833.5 455.5,1832.3 457.0,1832.0 458.5,1831.6 460.0,1831.8 461.5,1831.1 463.0,1831.8 464.5,1830.8 466.0,1831.7 467.5,1831.8 469.0,1830.8 470.5,1832.4 472.0,1831.0 473.5,1832.0 475.0,1831.3 476.5,1831.6 478.0,1831.2 479.5,1832.7 481.0,1832.0 482.5,1832.3 484.0,1831.9 485.5,1831.8 487.0,1833.2 488.5,1831.4 490.0,1831.8 491.5,1831.6 493.0,1831.4 494.5,1830.9 496.0,1831.4 497.5,1831.8 499.0,1831.3 500.5,1831.7 502.0,1831.4 503.5,1831.0 505.0,1831.1 506.5,1831.2 508.0,1831.4 509.5,1831.4 511.0,1832.0 512.5,1831.0 514.0,1830.6 515.5,1831.8 516.0,1831.3 517.0,1831.5 518.5,1832.7 520.0,1832.2 521.5,1831.8 523.0,1831.9 524.5,1831.6 526.0,1832.0 527.5,1831.2 529.0,1831.2 530.5,1831.3 532.0,1832.2 533.5,1832.2 535.0,1831.2 536.5,1832.0 538.0,1831.4 539.5,1832.0 541.0,1831.4 542.5,1832.0 544.0,1831.5 545.5,1831.4 547.0,1831.5 548.5,1831.6 550.0,1831.2 551.5,1830.9 552.0,1832.3 553.0,1831.3 554.5,1830.7 556.0,1828.9 557.5,1830.2 559.0,1831.2 560.5,1832.1 562.0,1830.7 563.5,1831.3 565.0,1830.6 566.5,1831.9 568.0,1831.5 569.5,1831.5 571.0,1831.9 572.5,1832.0 574.0,1831.7 575.5,1830.9 577.0,1830.5 578.5,1830.6 580.0,1830.2 581.5,1831.9 583.0,1830.9 584.5,1831.0 586.0,1831.0 587.5,1830.2 589.0,1830.5 590.5,1831.3 592.0,1830.8 593.5,1830.6 595.0,1829.7 596.5,1831.0 598.0,1830.2 599.5,1830.2 601.0,1830.5 602.5,1830.4 604.0,1830.8 605.5,1830.0 607.0,1830.3 608.5,1830.3 610.0,1830.1 611.5,1830.4 613.0,1829.9 614.5,1830.5 616.0,1829.6 617.5,1829.2 619.0,1829.8 620.5,1830.3 622.0,1829.5 623.5,1829.4 625.0,1829.4 626.5,1829.6 628.0,1827.8 629.5,1829.5 631.0,1828.5 632.5,1830.0 634.0,1829.5 635.5,1828.7 637.0,1829.7 638.5,1829.2 640.0,1829.6 641.5,1828.3 643.0,1829.5 644.5,1828.7 646.0,1827.7 647.5,1828.9 649.0,1828.3 650.5,1827.9 652.0,1828.2 653.5,1827.3 655.0,1828.4 656.0,1827.9 656.5,1827.9 658.0,1828.5 659.5,1827.8 661.0,1827.4 662.5,1827.1 664.0,1827.4 665.5,1827.8 667.0,1826.9 668.5,1826.6 670.0,1827.4 671.5,1826.8 673.0,1826.6 674.5,1827.5 676.0,1825.8 677.5,1826.3 679.0,1825.2 680.5,1825.7 682.0,1825.9 683.5,1826.0 685.0,1824.7 686.5,1825.5 688.0,1825.3 689.5,1824.6 690.0,1825.8 691.0,1824.5 692.5,1823.8 694.0,1824.1 695.5,1822.8 697.0,1824.0 698.5,1823.4 700.0,1822.4 701.5,1822.6 703.0,1822.2 704.5,1822.5 706.0,1820.9 707.5,1820.2 709.0,1819.5 710.5,1819.9 712.0,1818.9 713.5,1819.1 715.0,1818.9 716.5,1818.1 718.0,1817.4 719.5,1817.9 720.0,1817.1 721.0,1817.0 722.5,1816.8 724.0,1815.3 725.5,1813.3 727.0,1815.9 728.5,1814.1 730.0,1813.2 731.5,1812.9 733.0,1812.2 734.5,1811.3 736.0,1811.1 737.5,1810.8 739.0,1810.2 739.9,1810.2 740.5,1808.9 742.0,1808.5 743.5,1809.1 745.0,1806.5 746.5,1808.4 748.0,1807.5 749.5,1806.3 751.0,1806.7 752.5,1805.6 754.0,1805.7 755.5,1805.6 757.0,1805.4 758.5,1803.8 759.8,1803.6 760.0,1803.4 761.5,1802.9 763.0,1800.6 764.5,1800.8 766.0,1800.3 767.5,1799.4 769.0,1797.9 770.5,1797.5 771.8,1796.5 772.0,1795.9 773.5,1794.3 775.0,1792.3 776.0,1791.1 776.5,1790.7 778.0,1787.7 779.5,1782.9 781.0,1778.4 781.8,1776.1 782.5,1774.7 784.0,1769.2 785.5,1763.6 787.0,1757.9 787.3,1756.7 788.5,1751.9 790.0,1745.7 791.5,1739.5 792.2,1736.6 793.0,1732.6 794.5,1723.4 795.5,1716.4 796.0,1712.7 797.5,1697.0 797.6,1696.7 799.0,1690.4 800.0,1686.0 800.5,1682.7 802.0,1670.9 802.4,1670.0 803.5,1665.7 805.0,1659.0 806.2,1654.3 806.5,1653.4 808.0,1646.0 809.3,1638.7 809.5,1637.5 811.0,1622.7 811.1,1622.4 812.5,1611.9 813.5,1606.6 814.0,1602.8 815.5,1593.8 816.6,1589.8 817.0,1590.6 818.5,1594.1 820.0,1600.2 821.5,1613.0 822.4,1623.2 823.0,1628.3 824.1,1640.6 824.5,1643.7 825.2,1654.4 826.0,1668.6 826.1,1670.3 827.2,1685.7 827.5,1689.3 828.6,1697.0 829.0,1699.3 830.5,1708.5 831.8,1716.6 832.0,1717.9 833.5,1725.8 835.0,1736.5 835.1,1736.1 836.5,1756.7 838.0,1771.5 838.6,1776.5 839.5,1784.3 839.8,1786.1 841.0,1792.3 841.5,1795.3 842.3,1802.3 842.5,1800.7 844.0,1808.1 845.0,1810.9 845.5,1811.8 847.0,1813.3 848.5,1814.8 850.0,1816.1 851.5,1816.0 852.9,1817.2 853.0,1816.5 854.5,1817.1 856.0,1818.3 857.5,1818.6 859.0,1820.1 860.5,1820.8 862.0,1820.7 863.5,1821.2 865.0,1821.5 866.2,1821.8 866.5,1822.0 868.0,1822.5 869.5,1822.4 871.0,1822.6 872.5,1823.0 874.0,1823.9 875.5,1825.2 877.0,1824.7 878.5,1824.2 880.0,1825.2 881.5,1824.2 883.0,1824.6 884.5,1825.3 886.0,1825.4 886.2,1825.1 887.5,1826.2 889.0,1825.4 890.5,1825.6 892.0,1825.3 893.5,1826.4 895.0,1826.1 896.5,1826.0 898.0,1825.1 899.5,1826.1 901.0,1825.8 902.5,1826.2 904.0,1826.5 905.5,1825.8 907.0,1826.3 908.5,1826.7 910.0,1826.4 911.5,1826.2 913.0,1826.0 914.5,1826.2 916.0,1826.0 917.5,1827.1 919.0,1826.7 920.5,1826.2 922.0,1826.8 923.5,1826.3 925.0,1825.4 926.5,1827.5 928.0,1827.5 929.5,1826.4 931.0,1826.8 932.5,1827.2 934.0,1827.0 935.5,1826.8 937.0,1828.6 938.5,1827.2 940.0,1827.1 941.5,1827.5 943.0,1827.3 944.5,1827.1 946.0,1827.5 947.5,1828.4 949.0,1828.2 950.5,1826.8 952.0,1827.6 953.5,1827.8 955.0,1829.5 955.8,1827.8 956.5,1828.3 958.0,1827.2 959.5,1826.2 961.0,1827.9 962.5,1827.6 964.0,1827.6 965.5,1828.5 967.0,1827.6 968.5,1827.7 970.0,1827.8 971.5,1827.9 973.0,1828.1 974.5,1827.9 976.0,1828.2 977.5,1828.1 979.0,1828.3 980.5,1828.7 982.0,1827.7 983.5,1830.5 985.0,1828.0 986.5,1828.5 988.0,1828.3 989.5,1828.1 991.0,1827.4 992.5,1829.0 994.0,1827.9 995.5,1827.9 997.0,1828.8 998.5,1828.4 1000.0,1829.2 1001.5,1829.1 1003.0,1828.7 1004.5,1828.5 1006.0,1828.7 1007.5,1827.8 1009.0,1828.5 1010.5,1828.5 1012.0,1828.3 1013.5,1828.6 1015.0,1827.8 1016.5,1828.9 1018.0,1829.1 1019.5,1828.0 1021.0,1828.6 1022.5,1830.9 1024.0,1828.8 1025.5,1828.1 1027.0,1828.2 1028.5,1829.0 1030.0,1829.5 1031.5,1828.2 1033.0,1828.7 1034.5,1828.4 1036.0,1828.6 1037.5,1828.9 1039.0,1828.7 1040.5,1828.5 1042.0,1829.7 1043.5,1827.1 1045.0,1828.8 1046.5,1829.4 1048.0,1828.9 1049.5,1828.8 1051.0,1829.3 1052.5,1828.5 1054.0,1829.3 1055.5,1829.4 1057.0,1829.3 1058.5,1829.0 1060.0,1829.1 1061.5,1828.3 1063.0,1829.1 1064.5,1829.3 1066.0,1829.6 1067.5,1829.3 1069.0,1827.4 1070.5,1828.9 1072.0,1829.3 1073.5,1831.0 1075.0,1829.9 1076.5,1829.4 1078.0,1829.2 1079.5,1829.4 1081.0,1829.3 1082.5,1829.4 1084.0,1828.5 1085.5,1828.9 1087.0,1829.1 1088.5,1829.8 1090.0,1829.6 1091.5,1829.8 1093.0,1830.2 1094.5,1829.3 1096.0,1830.3 1097.5,1830.0 1099.0,1829.5 1100.5,1830.6 1102.0,1829.3 1103.5,1829.5 1105.0,1829.9 1106.5,1830.2 1108.0,1830.0 1109.5,1829.1 1111.0,1830.0 1112.5,1830.1 1114.0,1831.3 1115.5,1830.8 1117.0,1830.3 1118.5,1829.8 1120.0,1830.4 1121.5,1829.8 1123.0,1830.4 1124.5,1830.5 1126.0,1830.2 1127.5,1830.5 1129.0,1830.3 1130.5,1830.2 1132.0,1831.2 1133.0,1830.8 1133.5,1830.4 1135.0,1830.2 1136.5,1830.6 1138.0,1830.8 1139.5,1831.0 1141.0,1831.3 1142.5,1830.8 1144.0,1830.2 1145.5,1833.2 1147.0,1831.2 1148.5,1831.1 1150.0,1831.3 1151.5,1830.1 1153.0,1830.6 1154.5,1830.6 1156.0,1831.3 1157.5,1830.3 1159.0,1830.7 1160.5,1831.5 1162.0,1831.2 1163.5,1830.7 1165.0,1831.8 1166.5,1830.3 1168.0,1831.2 1169.5,1830.9 1171.0,1831.2 1172.5,1832.5 1174.0,1830.7 1175.5,1831.1 1177.0,1830.5 1178.5,1831.3 1180.0,1830.9 1181.5,1831.5 1183.0,1832.5 1184.5,1832.4 1186.0,1832.9 1187.5,1831.7 1189.0,1830.3 1190.5,1831.2 1192.0,1831.5 1193.5,1830.6 1195.0,1830.8 1196.5,1831.5 1198.0,1830.9 1199.5,1831.0 1201.0,1832.0 1202.5,1830.9 1204.0,1830.9 1205.5,1830.3 1207.0,1830.8 1208.0,1830.8 1208.5,1832.1 1210.0,1831.9 1211.5,1830.8 1213.0,1832.2 1214.5,1831.7 1216.0,1831.3 1217.5,1831.7 1219.0,1831.5 1220.5,1831.0 1222.0,1830.6 1223.5,1831.0 1225.0,1831.4 1226.5,1831.2 1228.0,1831.1 1229.5,1831.9 1231.0,1832.6 1232.5,1830.2 1234.0,1831.2 1235.5,1831.5 1237.0,1831.0 1238.5,1831.5 1240.0,1829.5 1241.5,1830.7 1243.0,1831.5 1244.5,1831.5 1246.0,1831.9 1247.5,1831.6 1249.0,1831.0 1250.5,1831.2 1252.0,1830.4 1253.5,1831.0 1255.0,1830.5 1256.5,1832.2 1258.0,1833.4 1259.5,1831.6 1260.0,1831.8 1261.0,1831.7 1262.5,1830.7 1264.0,1831.1 1265.5,1832.0 1267.0,1832.0 1268.5,1831.6 1270.0,1831.4 1271.5,1831.3 1273.0,1831.3 1274.5,1831.1 1276.0,1830.6 1277.5,1831.6 1279.0,1831.3 1280.5,1831.4 1282.0,1832.3 1283.5,1831.8 1285.0,1831.2 1286.5,1831.8 1288.0,1830.8 1289.5,1832.0 1291.0,1831.6 1292.5,1831.4 1294.0,1831.8 1295.5,1832.1 1297.0,1831.3 1298.5,1831.1 1300.0,1832.4 1301.5,1831.5 1303.0,1832.2 1304.5,1831.2 1306.0,1830.1 1307.5,1831.2 1309.0,1830.2 1310.5,1831.4 1312.0,1831.2 1313.5,1832.2 1315.0,1831.7 1316.5,1830.6 1318.0,1831.4 1319.5,1831.1 1321.0,1831.0 1322.5,1831.2 1324.0,1831.3 1325.5,1831.5 1327.0,1832.7 1328.5,1830.7 1330.0,1831.3 1331.5,1831.9 1333.0,1830.9 1334.5,1831.8 1336.0,1831.7 1337.5,1831.3 1339.0,1831.6 1340.5,1831.2 1342.0,1831.3 1343.5,1831.0 1345.0,1831.7 1346.5,1832.1 1348.0,1831.2 1349.5,1832.0 1351.0,1830.5 1352.5,1831.1 1354.0,1831.0 1355.5,1830.7 1357.0,1831.2 1358.5,1831.8 1360.0,1830.6 1361.5,1831.6 1363.0,1831.8 1364.5,1831.5 1366.0,1830.3 1367.5,1831.6 1369.0,1831.9 1370.5,1832.1 1372.0,1831.7 1373.5,1830.7 1375.0,1831.4 1376.5,1831.9 1378.0,1831.1 1379.5,1831.8 1381.0,1831.3 1382.5,1831.5 1384.0,1831.8 1385.5,1831.2 1387.0,1832.8 1388.5,1831.6 1390.0,1831.7 1391.5,1831.2 1393.0,1831.5 1394.5,1833.0 1396.0,1832.4 1397.5,1830.8 1399.0,1831.6 1400.5,1831.5 1402.0,1830.3 1403.5,1830.5 1405.0,1831.4 1406.5,1831.5 1408.0,1831.8 1409.5,1830.9 1411.0,1831.8 1412.0,1831.4 1412.5,1831.3 1414.0,1831.4 1415.5,1831.9 1417.0,1831.8 1418.5,1831.9 1420.0,1831.2 1421.5,1831.4 1423.0,1831.0 1424.5,1831.3 1426.0,1831.4 1427.5,1833.0 1429.0,1831.9 1430.5,1831.8 1432.0,1832.0 1433.5,1831.8 1435.0,1832.2 1436.5,1831.8 1438.0,1832.2 1439.5,1832.0 1441.0,1832.2 1442.5,1831.8 1444.0,1831.3 1445.5,1831.3 1447.0,1832.9 1448.5,1832.2 1450.0,1832.2 1451.5,1832.0 1453.0,1831.9 1454.5,1833.4 1456.0,1831.7 1457.5,1832.2 1459.0,1832.2 1460.5,1831.8 1462.0,1831.8 1463.5,1832.1 1465.0,1832.3 1466.5,1832.2 1468.0,1832.9 1469.5,1832.0 1471.0,1832.7 1472.5,1833.3 1474.0,1833.0 1475.5,1832.2 1477.0,1831.4 1478.5,1833.1 1480.0,1833.0 1481.5,1832.5 1483.0,1833.4 1484.5,1832.7 1486.0,1832.9 1487.5,1832.5 1489.0,1833.1 1490.5,1832.8 1492.0,1832.8 1493.5,1833.5 1495.0,1833.2 1496.5,1832.4 1498.0,1833.4 1499.5,1833.5 1501.0,1832.8 1502.5,1833.0 1504.0,1833.2 1505.5,1833.1 1507.0,1833.2 1508.5,1833.5 1510.0,1833.0 1511.5,1834.1 1513.0,1832.9 1514.5,1833.0 1516.0,1834.1 1517.5,1834.3 1519.0,1833.2 1520.5,1833.1 1522.0,1832.7 1523.5,1833.7 1525.0,1833.3 1526.5,1832.8 1528.0,1833.4 1529.5,1833.8 1531.0,1833.5 1532.5,1834.2 1534.0,1833.7 1535.5,1833.4 1537.0,1833.2 1538.5,1835.0 1540.0,1833.7 1541.5,1833.6 1543.0,1833.7 1544.5,1833.3 1546.0,1833.5 1547.5,1833.7 1549.0,1833.1 1550.5,1832.6 1552.0,1834.0 1553.5,1833.5 1555.0,1833.0 1556.5,1833.3 1558.0,1833.1 1559.5,1832.4 1561.0,1833.1 1562.5,1831.0 1564.0,1833.3 1565.5,1833.2 1567.0,1833.7 1568.5,1833.1 1570.0,1833.4 1571.5,1833.1 1573.0,1833.0 1574.5,1832.6 1576.0,1833.6 1577.5,1833.3 1579.0,1832.9 1580.5,1833.3 1582.0,1833.0 1583.5,1832.9 1585.0,1833.3 1586.5,1833.7 1588.0,1833.1 1589.5,1832.6 1591.0,1832.9 1592.5,1835.6 1594.0,1832.8 1595.5,1833.7 1597.0,1833.1 1598.5,1833.5 1600.0,1833.2 1601.5,1832.5 1603.0,1833.0 1604.5,1834.2 1606.0,1833.1 1607.5,1833.5 1609.0,1833.0 1610.5,1833.1 1612.0,1833.3 1613.5,1833.4 1615.0,1834.2 1616.5,1833.2 1618.0,1833.1 1619.5,1832.9 1621.0,1832.6 1622.5,1832.5 1624.0,1833.5 1625.5,1832.4 1627.0,1833.8 1628.5,1833.6 1630.0,1833.1 1631.5,1832.7"/>
<path stroke="#008080" d="M158.5,2044.9 160.0,2044.0 161.5,2044.6 163.0,2043.5 164.5,2043.7 166.0,2044.0 167.5,2045.8 169.0,2044.1 170.5,2043.8 172.0,2045.1 173.5,2044.3 175.0,2044.3 176.5,2044.5 178.0,2044.3 179.5,2044.1 181.0,2043.9 182.5,2043.4 184.0,2044.9 185.5,2043.8 187.0,2043.4 188.5,2043.8 190.0,2043.5 191.5,2045.1 193.0,2044.4 194.5,2044.8 196.0,2044.9 197.5,2044.5 199.0,2044.5 200.5,2043.9 202.0,2044.2 203.5,2043.9 205.0,2044.2 206.5,2043.9 208.0,2044.8 209.5,2044.6 211.0,2044.2 212.5,2043.4 214.0,2044.5 215.5,2044.6 217.0,2044.2 218.5,2043.6 220.0,2044.4 221.5,2044.7 223.0,2043.3 224.5,2046.1 226.0,2043.4 227.5,2044.2 229.0,2045.0 230.5,2044.2 232.0,2044.4 233.5,2044.1 235.0,2044.2 236.5,2045.3 238.0,2044.8 239.5,2044.1 241.0,2044.0 242.5,2044.2 244.0,2045.2 245.5,2044.3 247.0,2044.7 248.5,2044.0 250.0,2043.6 251.5,2043.2 253.0,2044.2 254.5,2043.8 256.0,2043.9 257.5,2043.9 259.0,2043.9 260.5,2043.5 262.0,2044.8 263.5,2044.4 265.0,2044.6 266.5,2044.0 268.0,2044.4 269.5,2044.3 271.0,2044.7 272.5,2044.6 274.0,2044.4 275.5,2043.9 277.0,2043.6 278.5,2042.2 280.0,2043.9 281.5,2044.0 283.0,2043.6 284.5,2045.0 286.0,2044.3 287.5,2043.3 289.0,2043.7 290.5,2043.6 292.0,2044.3 293.5,2044.7 295.0,2043.7 296.5,2044.5 298.0,2044.1 299.5,2044.7 301.0,2044.8 302.5,2044.3 304.0,2044.5 305.5,2044.2 307.0,2044.0 308.5,2043.7 310.0,2044.3 311.5,2044.2 313.0,2044.0 314.5,2044.2 316.0,2044.1 317.5,2043.7 319.0,2044.0 320.5,2044.7 322.0,2044.1 323.5,2044.8 325.0,2043.7 326.5,2043.6 328.0,2044.3 329.5,2044.6 331.0,2043.9 332.5,2044.5 334.0,2044.6 335.5,2044.7 337.0,2044.1 338.5,2044.2 340.0,2043.4 341.5,2044.2 343.0,2044.3 344.5,2044.8 346.0,2043.6 347.5,2043.8 349.0,2043.7 350.5,2044.6 352.0,2043.0 353.5,2043.7 355.0,2045.1 356.5,2044.5 358.0,2043.6 359.5,2042.6 361.0,2044.6 362.5,2044.5 364.0,2044.1 365.5,2043.8 367.0,2044.6 368.5,2044.2 370.0,2044.6 371.5,2044.4 373.0,2044.0 374.5,2044.9 376.0,2044.0 377.5,2044.4 379.0,2043.9 380.5,2044.1 382.0,2044.1 383.5,2043.9 385.0,2044.3 386.5,2044.8 388.0,2045.0 389.5,2044.9 391.0,2044.1 392.5,2044.9 394.0,2044.4 395.5,2045.0 397.0,2043.6 398.5,2043.3 400.0,2043.9 401.5,2044.7 403.0,2044.0 404.5,2044.6 406.0,2044.1 407.5,2043.3 409.0,2043.8 410.5,2044.1 412.0,2044.2 413.5,2044.8 415.0,2043.7 416.5,2043.9 418.0,2044.1 419.5,2044.3 421.0,2043.9 422.5,2043.5 424.0,2044.4 425.5,2042.5 427.0,2044.6 428.5,2045.6 430.0,2044.5 431.5,2043.8 433.0,2044.4 434.5,2044.3 436.0,2044.5 437.5,2043.8 439.0,2044.2 440.5,2043.9 442.0,2044.2 443.5,2044.6 445.0,2047.2 446.5,2044.3 448.0,2044.6 449.5,2044.3 451.0,2044.8 452.5,2044.5 454.0,2044.8 455.5,2044.5 457.0,2045.4 458.5,2044.9 460.0,2043.6 461.5,2044.5 463.0,2044.4 464.5,2043.3 466.0,2044.0 467.5,2044.1 469.0,2044.0 470.5,2044.4 472.0,2043.6 473.5,2044.7 475.0,2044.7 476.5,2044.5 478.0,2044.2 479.5,2044.4 481.0,2044.2 482.5,2044.9 484.0,2044.6 485.5,2045.3 487.0,2044.2 488.5,2045.1 490.0,2044.1 491.5,2044.3 493.0,2043.9 494.5,2044.6 496.0,2044.4 497.5,2044.7 499.0,2045.1 500.0,2044.4 500.5,2046.2 502.0,2044.8 503.5,2044.4 505.0,2044.2 506.5,2044.6 508.0,2043.0 509.5,2044.8 511.0,2044.8 512.5,2044.1 514.0,2044.6 515.5,2045.0 517.0,2044.2 518.5,2044.6 520.0,2044.1 521.5,2046.1 523.0,2045.2 524.5,2044.5 526.0,2044.0 527.5,2044.6 529.0,2044.5 530.5,2044.9 532.0,2043.8 533.5,2045.6 535.0,2042.8 536.5,2043.7 538.0,2044.9 539.5,2043.5 541.0,2044.0 542.5,2043.7 544.0,2044.1 545.5,2044.8 547.0,2044.7 548.5,2044.8 550.0,2044.7 551.5,2043.5 553.0,2044.5 554.5,2045.2 556.0,2044.2 557.5,2044.2 559.0,2044.2 560.5,2044.6 562.0,2044.0 563.5,2045.2 565.0,2044.7 566.5,2046.5 568.0,2044.7 569.0,2044.8 569.5,2044.4 571.0,2045.3 572.5,2043.9 574.0,2044.6 575.5,2044.4 577.0,2044.3 578.5,2044.5 580.0,2044.0 581.5,2044.7 583.0,2044.7 584.5,2044.3 586.0,2044.6 587.5,2043.8 589.0,2041.8 590.5,2043.9 592.0,2044.1 593.5,2045.3 595.0,2044.0 596.5,2044.5 598.0,2044.4 599.5,2044.9 601.0,2044.0 602.5,2044.2 604.0,2043.8 605.5,2043.4 607.0,2043.3 608.5,2043.4 610.0,2044.3 611.5,2043.8 613.0,2043.5 614.5,2043.6 616.0,2043.3 617.5,2045.0 619.0,2043.4 620.5,2043.7 622.0,2043.7 623.5,2042.5 625.0,2043.3 626.5,2043.8 628.0,2042.6 629.5,2042.9 631.0,2043.1 632.5,2043.4 634.0,2043.1 635.5,2042.7 637.0,2043.0 638.0,2043.2 638.5,2042.9 640.0,2043.5 641.5,2044.3 643.0,2042.0 644.5,2042.1 646.0,2042.3 647.5,2042.1 649.0,2042.4 650.5,2042.2 652.0,2042.7 653.5,2042.2 655.0,2042.4 656.5,2041.3 658.0,2041.3 659.5,2041.7 661.0,2041.3 662.5,2041.4 664.0,2041.1 665.5,2040.6 667.0,2041.5 668.5,2041.1 670.0,2039.8 671.5,2040.1 673.0,2040.2 674.5,2040.3 676.0,2039.8 677.5,2039.1 679.0,2039.9 680.5,2039.3 682.0,2039.8 683.5,2039.2 685.0,2039.3 686.5,2039.1 688.0,2038.9 689.5,2038.1 690.0,2038.8 691.0,2038.3 692.5,2037.4 694.0,2037.6 695.5,2037.4 697.0,2037.5 698.5,2037.4 700.0,2034.7 701.5,2036.9 703.0,2036.3 704.5,2035.6 706.0,2036.1 707.5,2035.1 709.0,2034.6 710.5,2035.2 712.0,2034.9 713.5,2033.9 715.0,2034.3 716.5,2033.8 718.0,2032.7 719.5,2033.4 721.0,2032.0 722.5,2031.7 724.0,2030.1 725.5,2031.0 727.0,2030.1 728.5,2030.2 730.0,2028.8 731.5,2029.8 733.0,2029.6 734.5,2029.5 736.0,2027.0 737.5,2028.2 739.0,2027.8 740.5,2026.0 742.0,2026.7 743.5,2026.7 745.0,2027.1 746.5,2025.9 748.0,2026.1 749.5,2025.8 751.0,2025.8 752.5,2025.3 754.0,2025.8 755.5,2025.8 757.0,2024.7 758.5,2025.7 760.0,2024.8 761.5,2025.0 763.0,2025.6 764.5,2025.1 766.0,2025.3 767.5,2025.3 769.0,2025.2 770.5,2024.6 772.0,2024.4 773.5,2025.0 774.7,2025.0 775.0,2024.8 776.5,2024.2 778.0,2024.0 779.5,2022.8 781.0,2021.2 782.5,2020.7 784.0,2017.9 785.5,2018.2 785.9,2017.1 787.0,2016.0 788.5,2014.4 790.0,2011.6 791.5,2008.9 793.0,2006.2 793.8,2004.2 794.5,2003.2 796.0,1998.6 797.5,1994.0 797.8,1992.5 799.0,1985.2 800.2,1976.0 800.5,1974.8 802.0,1971.1 802.4,1968.8 803.5,1962.7 804.6,1955.8 805.0,1953.4 806.5,1942.9 807.9,1934.6 808.0,1933.8 809.5,1924.7 811.0,1915.8 811.4,1913.2 812.5,1906.5 814.0,1896.5 814.8,1890.3 815.5,1888.5 817.0,1882.2 818.0,1879.4 818.5,1878.8 820.0,1876.2 821.0,1874.3 821.5,1876.9 823.0,1878.7 823.5,1880.8 824.5,1887.3 825.1,1891.8 826.0,1897.2 827.5,1907.5 828.3,1912.9 829.0,1919.9 830.3,1933.8 830.5,1936.9 832.0,1951.1 832.9,1955.8 833.5,1959.2 835.0,1966.0 835.6,1969.1 836.5,1975.6 837.7,1983.9 838.0,1984.6 839.5,1993.4 840.9,2000.2 841.0,1999.0 842.5,2012.1 843.3,2015.4 844.0,2017.6 845.5,2024.6 847.0,2027.6 847.3,2027.1 848.5,2029.3 850.0,2031.4 851.5,2031.9 853.0,2033.6 853.4,2034.5 854.5,2034.6 856.0,2034.6 857.5,2035.2 859.0,2035.1 860.5,2036.0 862.0,2036.2 863.5,2036.2 865.0,2036.3 866.5,2038.0 868.0,2037.4 869.4,2037.1 869.5,2037.4 871.0,2038.4 872.5,2038.6 874.0,2037.7 875.5,2038.2 877.0,2038.7 878.5,2038.2 880.0,2038.0 881.5,2038.2 883.0,2038.7 884.5,2036.9 886.0,2038.3 887.5,2038.9 889.0,2039.5 890.5,2039.5 892.0,2039.1 893.5,2040.1 895.0,2039.0 896.5,2039.4 898.0,2038.9 899.0,2039.9 899.5,2039.5 901.0,2038.9 902.5,2039.3 904.0,2040.6 905.5,2040.2 907.0,2039.9 908.5,2040.3 910.0,2039.3 911.5,2039.7 913.0,2039.6 914.5,2039.8 916.0,2040.1 917.5,2040.6 919.0,2040.8 920.5,2040.9 922.0,2041.7 923.5,2040.3 925.0,2042.2 926.5,2040.9 928.0,2040.4 929.5,2040.7 931.0,2041.0 932.5,2040.5 934.0,2041.1 935.5,2041.5 937.0,2040.5 938.5,2040.1 940.0,2041.2 941.5,2040.7 943.0,2041.3 944.5,2041.1 946.0,2041.4 947.5,2041.9 949.0,2041.8 950.5,2039.7 952.0,2041.0 953.5,2040.4 955.0,2040.6 956.5,2041.2 958.0,2043.3 959.5,2041.4 961.0,2041.4 962.5,2041.0 964.0,2041.0 965.5,2041.0 967.0,2042.1 968.5,2041.0 970.0,2042.2 971.5,2041.5 973.0,2042.2 974.5,2042.0 976.0,2042.3 977.5,2042.5 979.0,2041.6 980.5,2041.6 981.0,2041.8 982.0,2041.7 983.5,2042.3 985.0,2042.0 986.5,2042.1 988.0,2042.3 989.5,2041.9 991.0,2042.6 992.5,2041.3 994.0,2042.2 995.5,2042.4 997.0,2041.8 998.5,2041.9 1000.0,2042.6 1001.5,2042.1 1003.0,2041.4 1004.5,2041.6 1006.0,2042.7 1007.5,2041.8 1009.0,2042.8 1010.5,2042.9 1012.0,2042.2 1013.5,2042.5 1015.0,2041.9 1016.5,2042.1 1018.0,2042.0 1019.5,2042.6 1021.0,2041.8 1022.5,2042.3 1024.0,2042.4 1025.5,2042.6 1027.0,2041.4 1028.5,2041.6 1030.0,2042.0 1031.5,2042.3 1033.0,2042.5 1034.5,2042.5 1036.0,2043.3 1037.5,2042.7 1039.0,2042.7 1040.5,2042.2 1042.0,2042.8 1043.5,2042.7 1045.0,2042.7 1046.5,2042.4 1048.0,2042.7 1049.5,2043.2 1051.0,2042.1 1052.5,2041.5 1054.0,2042.9 1055.5,2042.8 1057.0,2042.4 1058.5,2042.3 1060.0,2043.8 1061.5,2042.3 1063.0,2042.0 1064.5,2042.3 1066.0,2042.8 1067.5,2042.3 1069.0,2042.4 1070.5,2042.7 1072.0,2042.4 1073.5,2042.7 1075.0,2042.6 1076.5,2042.2 1078.0,2042.7 1079.5,2042.2 1081.0,2043.1 1082.0,2042.3 1082.5,2042.6 1084.0,2041.9 1085.5,2042.5 1087.0,2042.2 1088.5,2045.0 1090.0,2042.7 1091.5,2043.0 1093.0,2042.0 1094.5,2042.3 1096.0,2042.8 1097.5,2042.3 1099.0,2043.4 1100.5,2042.7 1102.0,2043.0 1103.5,2043.1 1105.0,2042.9 1106.5,2043.3 1108.0,2042.7 1109.5,2043.2 1111.0,2043.6 1112.5,2043.1 1114.0,2043.1 1115.5,2042.9 1117.0,2043.1 1118.5,2043.4 1120.0,2043.1 1121.5,2042.4 1123.0,2043.3 1124.5,2043.2 1126.0,2043.5 1127.5,2043.3 1129.0,2044.0 1130.5,2042.8 1132.0,2042.9 1133.5,2043.6 1135.0,2042.9 1136.5,2043.5 1138.0,2043.4 1139.5,2044.2 1141.0,2043.8 1142.5,2044.1 1144.0,2042.0 1145.5,2042.9 1147.0,2043.9 1148.5,2043.1 1150.0,2043.5 1151.5,2043.8 1153.0,2043.3 1154.5,2042.9 1156.0,2042.0 1157.5,2043.7 1159.0,2043.3 1160.5,2043.4 1162.0,2044.1 1163.5,2043.7 1165.0,2043.6 1166.5,2043.6 1168.0,2043.9 1169.5,2043.9 1171.0,2043.8 1172.5,2043.3 1174.0,2043.7 1175.5,2043.6 1177.0,2044.0 1178.5,2044.5 1180.0,2044.4 1181.5,2044.3 1183.0,2044.0 1184.5,2043.9 1186.0,2044.2 1187.5,2043.8 1189.0,2043.9 1190.5,2043.7 1192.0,2044.0 1193.5,2044.0 1195.0,2044.9 1196.5,2044.3 1198.0,2044.0 1199.5,2044.5 1201.0,2043.9 1202.5,2044.6 1204.0,2044.5 1205.5,2045.5 1207.0,2045.3 1208.5,2044.2 1210.0,2044.2 1211.5,2044.4 1213.0,2044.6 1214.5,2043.8 1216.0,2044.0 1217.5,2044.4 1219.0,2044.7 1220.5,2043.8 1222.0,2043.6 1223.5,2044.8 1225.0,2044.7 1226.5,2044.8 1228.0,2043.9 1229.5,2044.3 1231.0,2044.5 1232.5,2044.6 1234.0,2044.3 1235.5,2044.4 1237.0,2044.9 1238.5,2044.2 1240.0,2044.2 1241.5,2044.3 1243.0,2044.2 1244.5,2044.5 1246.0,2044.4 1247.5,2044.3 1249.0,2045.1 1250.5,2044.6 1252.0,2044.3 1253.5,2045.0 1255.0,2044.2 1256.5,2044.5 1258.0,2044.4 1259.5,2044.2 1260.0,2042.7 1261.0,2042.9 1262.5,2043.9 1264.0,2044.3 1265.5,2044.6 1267.0,2044.6 1268.5,2044.6 1270.0,2045.5 1271.5,2044.8 1273.0,2044.4 1274.5,2044.4 1276.0,2044.5 1277.5,2044.7 1279.0,2044.3 1280.5,2045.1 1282.0,2044.0 1283.5,2044.7 1285.0,2044.7 1286.5,2044.0 1288.0,2044.7 1289.5,2044.7 1291.0,2044.2 1292.5,2043.8 1294.0,2044.8 1295.5,2044.3 1297.0,2045.8 1298.5,2044.1 1300.0,2044.5 1301.5,2046.1 1303.0,2043.8 1304.5,2044.0 1306.0,2044.1 1307.5,2044.2 1309.0,2044.3 1310.5,2044.1 1312.0,2044.7 1313.5,2044.8 1315.0,2044.4 1316.5,2043.5 1318.0,2044.3 1319.5,2044.6 1321.0,2044.3 1322.5,2044.5 1324.0,2044.4 1325.5,2043.7 1327.0,2043.3 1328.5,2044.6 1330.0,2044.1 1331.5,2044.5 1333.0,2044.2 1334.5,2044.3 1336.0,2044.9 1337.5,2043.8 1339.0,2044.3 1340.5,2043.9 1342.0,2044.3 1343.5,2044.5 1345.0,2044.6 1346.5,2044.4 1348.0,2043.7 1349.5,2044.4 1351.0,2044.7 1352.5,2044.7 1354.0,2045.2 1355.5,2044.5 1357.0,2043.8 1358.5,2044.0 1360.0,2044.3 1361.5,2044.7 1363.0,2043.8 1364.5,2044.6 1366.0,2044.5 1367.5,2043.9 1369.0,2044.5 1370.5,2043.9 1372.0,2044.2 1373.5,2044.1 1375.0,2044.3 1376.5,2043.7 1378.0,2044.4 1379.5,2043.3 1381.0,2044.0 1382.5,2044.0 1384.0,2044.9 1385.5,2044.4 1387.0,2044.0 1388.5,2043.8 1390.0,2044.2 1391.5,2043.9 1393.0,2045.2 1394.5,2043.0 1396.0,2044.2 1397.5,2043.1 1399.0,2044.6 1400.5,2043.8 1402.0,2044.9 1403.5,2044.0 1405.0,2044.6 1406.5,2044.3 1408.0,2044.7 1409.5,2044.2 1411.0,2042.9 1412.0,2043.9 1412.5,2043.5 1414.0,2044.6 1415.5,2044.4 1417.0,2044.2 1418.5,2044.4 1420.0,2044.3 1421.5,2044.0 1423.0,2045.1 1424.5,2044.4 1426.0,2044.2 1427.5,2043.7 1429.0,2044.0 1430.5,2044.3 1432.0,2044.3 1433.5,2044.2 1435.0,2044.4 1436.5,2044.0 1438.0,2044.5 1439.5,2043.8 1441.0,2044.2 1442.5,2044.2 1444.0,2045.0 1445.5,2044.8 1447.0,2044.7 1448.5,2044.2 1450.0,2044.6 1451.5,2045.1 1453.0,2045.3 1454.5,2044.2 1456.0,2044.7 1457.5,2045.0 1459.0,2045.1 1460.5,2045.0 1462.0,2045.3 1463.5,2044.5 1465.0,2045.8 1466.5,2044.7 1468.0,2045.2 1469.5,2045.4 1471.0,2045.8 1472.5,2045.7 1474.0,2045.7 1475.5,2045.9 1477.0,2045.4 1478.5,2045.8 1480.0,2046.1 1481.5,2045.2 1483.0,2045.0 1484.5,2045.2 1486.0,2046.2 1487.5,2046.2 1489.0,2045.5 1490.5,2045.8 1492.0,2045.9 1493.5,2046.2 1495.0,2045.0 1496.5,2045.6 1498.0,2045.7 1499.5,2046.0 1501.0,2045.9 1502.5,2045.8 1504.0,2046.0 1505.5,2044.8 1507.0,2047.3 1508.5,2046.3 1510.0,2046.4 1511.5,2045.7 1513.0,2046.2 1514.5,2046.9 1516.0,2046.8 1517.5,2046.0 1519.0,2045.5 1520.5,2046.1 1522.0,2045.9 1523.5,2046.4 1525.0,2045.5 1526.5,2047.6 1528.0,2046.2 1529.5,2045.8 1531.0,2046.5 1532.5,2045.6 1534.0,2045.5 1535.5,2045.9 1537.0,2046.4 1538.5,2045.9 1540.0,2045.8 1541.5,2046.4 1543.0,2046.2 1544.5,2045.9 1546.0,2046.1 1547.5,2046.0 1549.0,2046.4 1550.5,2046.2 1552.0,2045.8 1553.5,2044.3 1555.0,2045.9 1556.5,2046.3 1558.0,2046.3 1559.5,2045.8 1561.0,2046.0 1562.5,2046.3 1564.0,2046.6 1565.5,2046.2 1567.0,2047.0 1568.5,2046.1 1570.0,2046.5 1571.5,2046.0 1573.0,2045.7 1574.5,2046.2 1576.0,2046.4 1577.5,2046.3 1579.0,2047.8 1580.5,2046.0 1582.0,2045.8 1583.5,2046.0 1585.0,2046.4 1586.5,2046.6 1588.0,2044.7 1589.5,2046.4 1591.0,2046.6 1592.5,2046.7 1594.0,2046.3 1595.5,2046.5 1597.0,2046.0 1598.5,2046.1 1600.0,2046.4 1601.5,2045.7 1603.0,2044.2 1604.5,2046.3 1606.0,2045.6 1607.5,2046.2 1609.0,2045.5 1610.5,2046.3 1612.0,2046.2 1613.5,2045.9 1615.0,2045.8 1616.5,2046.0 1618.0,2045.2 1619.5,2046.0 1621.0,2046.2 1622.5,2046.7 1624.0,2046.0 1625.5,2046.1 1627.0,2046.8 1628.5,2046.9 1630.0,2046.0 1631.5,2046.6"/>
<path stroke="#0000ff" d="M158.5,2232.3 160.0,2232.0 161.5,2231.6 163.0,2231.8 164.5,2231.9 166.0,2234.0 167.5,2231.3 169.0,2231.9 170.5,2231.7 172.0,2231.3 173.5,2231.1 175.0,2232.2 176.5,2231.8 178.0,2231.5 179.5,2231.6 181.0,2232.0 182.5,2230.0 184.0,2232.3 185.5,2231.5 187.0,2231.3 188.5,2231.6 190.0,2231.2 191.5,2233.0 193.0,2232.2 194.5,2232.4 196.0,2231.9 197.5,2231.7 199.0,2232.8 200.5,2231.2 202.0,2231.8 203.5,2231.7 205.0,2231.3 206.5,2231.4 208.0,2232.3 209.5,2232.0 211.0,2231.6 212.5,2231.7 214.0,2232.2 215.5,2231.8 217.0,2231.7 218.5,2230.9 220.0,2229.2 221.5,2230.7 223.0,2230.6 224.5,2230.0 226.0,2231.8 227.5,2231.2 229.0,2231.8 230.5,2231.8 232.0,2231.6 233.5,2230.9 235.0,2232.3 236.5,2232.2 238.0,2231.3 239.5,2232.5 241.0,2231.6 242.5,2231.2 244.0,2231.4 245.5,2230.8 247.0,2231.4 248.5,2230.9 250.0,2232.1 251.5,2231.7 253.0,2231.0 254.5,2231.9 256.0,2230.8 257.5,2231.7 259.0,2231.8 260.5,2231.6 262.0,2231.1 263.5,2231.6 265.0,2229.9 266.5,2231.6 268.0,2232.3 269.5,2232.4 271.0,2232.3 272.5,2231.3 274.0,2231.3 275.5,2231.6 277.0,2231.8 278.5,2230.7 280.0,2231.3 281.5,2232.4 283.0,2231.0 284.5,2229.7 286.0,2231.3 287.5,2231.8 289.0,2231.6 290.5,2231.5 292.0,2232.5 293.5,2231.9 295.0,2231.6 296.5,2231.3 298.0,2231.6 299.5,2232.0 301.0,2229.3 302.5,2230.9 304.0,2231.1 305.5,2231.2 307.0,2230.2 308.5,2231.3 310.0,2232.1 311.5,2231.5 313.0,2232.1 314.5,2230.3 316.0,2231.5 317.5,2232.2 319.0,2232.3 320.5,2231.4 322.0,2231.2 323.5,2231.8 325.0,2231.1 326.5,2231.4 328.0,2230.8 329.5,2231.6 331.0,2231.6 332.5,2232.3 334.0,2231.8 335.5,2231.3 337.0,2231.6 338.5,2231.0 340.0,2231.6 341.5,2231.5 343.0,2231.8 344.5,2232.0 346.0,2230.7 347.5,2231.7 349.0,2230.3 350.5,2231.1 352.0,2232.5 353.5,2231.3 355.0,2232.7 356.5,2232.0 358.0,2232.0 359.5,2231.7 361.0,2232.1 362.5,2231.1 364.0,2231.2 365.5,2230.7 367.0,2231.8 368.5,2231.3 370.0,2230.3 371.5,2231.9 373.0,2231.0 374.5,2231.9 376.0,2231.7 377.5,2231.7 379.0,2231.8 380.5,2231.6 382.0,2231.6 383.5,2232.1 385.0,2231.2 386.5,2231.1 388.0,2231.3 389.5,2232.1 391.0,2231.5 392.5,2232.5 394.0,2230.2 395.5,2231.3 397.0,2231.4 398.5,2231.7 400.0,2232.2 401.5,2231.5 403.0,2231.1 404.5,2232.0 406.0,2232.3 407.5,2230.5 409.0,2231.9 410.5,2231.7 412.0,2231.2 413.5,2231.4 415.0,2231.8 416.5,2231.6 418.0,2231.5 419.5,2231.1 421.0,2231.8 422.5,2231.4 424.0,2231.7 425.5,2231.4 427.0,2231.8 428.5,2232.0 430.0,2231.8 431.5,2232.0 433.0,2231.1 434.5,2231.9 436.0,2231.9 437.5,2231.5 439.0,2231.7 440.5,2230.5 442.0,2231.8 443.5,2231.6 445.0,2230.8 446.5,2232.1 448.0,2231.5 449.5,2232.0 451.0,2231.7 452.5,2230.5 454.0,2231.9 455.5,2230.2 457.0,2232.1 458.5,2232.3 460.0,2230.9 461.5,2231.9 463.0,2231.7 464.5,2231.5 466.0,2232.6 467.5,2232.4 469.0,2231.5 470.5,2231.5 472.0,2232.4 473.5,2231.7 475.0,2231.9 476.5,2231.1 478.0,2232.0 479.5,2234.2 481.0,2231.8 482.5,2232.0 484.0,2232.8 485.5,2234.1 487.0,2232.7 488.5,2232.4 490.0,2232.6 491.5,2231.3 493.0,2231.7 494.5,2231.3 496.0,2233.1 497.5,2232.2 499.0,2232.0 500.0,2231.8 500.5,2231.6 502.0,2229.2 503.5,2233.1 505.0,2232.0 506.5,2232.1 508.0,2231.4 509.5,2232.0 511.0,2232.2 512.5,2232.0 514.0,2232.3 515.5,2231.6 517.0,2232.1 518.5,2232.3 520.0,2232.2 521.5,2232.1 523.0,2231.8 524.5,2231.4 526.0,2232.0 527.5,2231.6 529.0,2231.3 530.5,2232.0 532.0,2232.5 533.5,2231.4 535.0,2230.4 536.5,2232.0 538.0,2231.4 539.5,2231.5 541.0,2231.7 542.5,2231.4 544.0,2231.0 545.5,2231.6 547.0,2231.4 548.5,2231.3 550.0,2231.8 551.5,2231.4 553.0,2231.0 554.5,2232.8 556.0,2232.0 557.5,2230.8 559.0,2230.9 560.5,2230.7 562.0,2231.2 563.5,2230.4 565.0,2231.2 566.5,2231.3 568.0,2230.6 569.0,2230.5 569.5,2230.2 571.0,2230.9 572.5,2230.3 574.0,2230.5 575.5,2230.6 577.0,2230.5 578.5,2231.2 580.0,2231.5 581.5,2229.8 583.0,2230.4 584.5,2230.8 586.0,2230.2 587.5,2230.4 589.0,2230.8 590.5,2231.3 592.0,2231.2 593.5,2230.5 595.0,2230.7 596.5,2230.4 598.0,2230.5 599.5,2230.0 601.0,2229.8 602.5,2230.4 604.0,2231.0 605.5,2230.9 607.0,2229.7 608.5,2230.4 610.0,2230.2 611.5,2230.6 613.0,2229.9 614.5,2230.8 616.0,2230.3 617.5,2230.6 619.0,2230.8 620.5,2229.5 622.0,2230.2 623.5,2231.0 625.0,2230.3 626.5,2230.7 628.0,2230.4 629.5,2230.0 631.0,2230.3 632.5,2230.7 634.0,2230.7 635.5,2230.8 637.0,2228.0 638.0,2230.5 638.5,2229.5 640.0,2230.0 641.5,2229.9 643.0,2230.3 644.5,2230.1 646.0,2230.5 647.5,2229.6 649.0,2230.2 650.5,2230.0 652.0,2229.8 653.5,2229.2 655.0,2229.9 656.5,2229.8 658.0,2230.0 659.5,2229.5 661.0,2229.4 662.5,2229.6 664.0,2229.6 665.5,2229.7 667.0,2230.1 668.5,2229.0 670.0,2230.1 671.5,2227.8 673.0,2229.5 674.5,2228.6 676.0,2229.8 677.5,2228.5 679.0,2229.3 680.5,2228.3 682.0,2228.2 683.5,2229.0 685.0,2228.9 686.5,2228.2 688.0,2229.5 689.5,2228.2 690.0,2229.0 691.0,2227.8 692.5,2227.7 694.0,2228.1 695.5,2227.5 697.0,2228.1 698.5,2226.8 700.0,2227.8 701.5,2227.3 703.0,2227.1 704.5,2227.5 706.0,2227.2 707.5,2226.9 709.0,2227.4 710.5,2227.0 712.0,2227.0 713.5,2227.3 715.0,2226.5 716.5,2226.8 718.0,2226.1 719.5,2226.4 721.0,2226.3 722.5,2225.6 724.0,2225.1 724.7,2225.1 725.5,2225.2 727.0,2225.8 728.5,2225.3 730.0,2225.1 731.5,2225.3 733.0,2225.3 734.5,2225.5 736.0,2224.4 737.5,2224.8 739.0,2224.7 740.0,2223.8 740.5,2224.2 742.0,2223.5 743.5,2223.5 745.0,2223.4 746.5,2222.1 748.0,2222.0 749.5,2221.6 751.0,2221.5 752.5,2220.7 754.0,2220.7 755.5,2218.0 757.0,2219.1 758.5,2219.0 760.0,2218.1 761.5,2217.3 763.0,2216.5 764.5,2216.2 766.0,2215.6 767.5,2214.0 767.9,2213.7 769.0,2213.0 770.5,2213.5 772.0,2211.6 773.5,2210.6 775.0,2210.6 776.5,2210.1 778.0,2208.2 779.5,2207.8 780.0,2206.9 781.0,2206.5 782.5,2208.1 784.0,2204.8 785.5,2203.5 787.0,2202.4 788.5,2201.1 790.0,2199.4 791.2,2197.7 791.5,2197.3 793.0,2197.0 794.5,2193.8 796.0,2192.2 797.5,2188.1 797.7,2188.5 799.0,2182.4 800.5,2173.9 802.0,2169.6 802.6,2166.0 803.5,2162.1 805.0,2153.4 805.5,2150.1 806.5,2141.4 807.2,2134.1 808.0,2125.7 808.7,2119.2 809.5,2110.8 810.6,2102.0 811.0,2098.5 812.5,2084.8 814.0,2071.7 814.8,2068.3 815.5,2069.0 817.0,2074.6 818.0,2081.1 818.5,2083.0 820.0,2099.5 820.2,2102.6 821.2,2118.6 821.5,2121.4 823.0,2132.1 823.4,2133.9 824.5,2138.5 826.0,2142.5 826.8,2144.9 827.5,2146.7 828.5,2151.0 829.0,2152.3 830.5,2158.2 831.8,2163.8 832.0,2165.6 833.1,2178.5 833.5,2182.0 835.0,2192.5 835.4,2196.9 836.5,2203.1 837.3,2208.3 838.0,2210.8 839.5,2213.0 841.0,2216.0 842.4,2218.0 842.5,2218.4 844.0,2219.1 845.5,2220.5 847.0,2222.0 848.5,2222.6 850.0,2222.5 851.5,2223.0 851.7,2223.8 853.0,2223.8 854.5,2223.8 856.0,2224.3 857.5,2224.9 859.0,2224.9 860.5,2225.2 862.0,2225.4 863.5,2225.1 865.0,2226.8 865.7,2226.6 866.5,2226.9 868.0,2226.4 869.5,2226.8 871.0,2227.3 872.5,2229.2 874.0,2226.6 875.5,2227.8 877.0,2227.4 878.5,2227.9 879.7,2227.7 880.0,2228.8 881.5,2228.3 883.0,2228.1 884.5,2228.8 886.0,2228.2 887.5,2227.9 889.0,2228.2 890.5,2226.6 892.0,2228.4 893.5,2228.8 895.0,2228.4 896.5,2228.5 898.0,2229.0 899.5,2228.7 901.0,2229.0 902.5,2228.7 904.0,2228.1 905.5,2228.2 907.0,2226.4 908.5,2229.3 910.0,2229.0 911.5,2228.6 913.0,2228.4 914.5,2229.0 916.0,2228.9 917.5,2229.1 919.0,2228.6 920.5,2228.5 922.0,2229.7 923.5,2228.6 925.0,2229.0 926.5,2229.7 928.0,2228.3 929.5,2229.4 931.0,2229.2 932.5,2229.1 934.0,2229.3 935.5,2228.7 937.0,2228.2 938.5,2230.1 940.0,2229.1 941.5,2229.7 943.0,2229.8 944.5,2229.4 946.0,2229.5 947.5,2229.6 949.0,2230.0 950.5,2229.6 952.0,2229.9 953.5,2229.2 955.0,2229.2 956.5,2229.4 958.0,2229.6 959.5,2229.6 961.0,2230.3 962.5,2229.8 964.0,2229.5 965.5,2230.3 967.0,2231.2 968.5,2229.6 970.0,2228.1 971.5,2229.3 973.0,2229.0 974.5,2229.5 976.0,2229.3 977.5,2229.1 979.0,2229.5 980.5,2229.4 981.0,2227.6 982.0,2228.7 983.5,2229.4 985.0,2230.3 986.5,2229.9 988.0,2230.0 989.5,2229.5 991.0,2230.0 992.5,2229.2 994.0,2229.3 995.5,2229.8 997.0,2228.9 998.5,2229.6 1000.0,2229.7 1001.5,2230.3 1003.0,2229.2 1004.5,2229.7 1006.0,2229.3 1007.5,2229.3 1009.0,2228.4 1010.5,2229.2 1012.0,2230.1 1013.5,2231.4 1015.0,2229.6 1016.5,2230.7 1018.0,2229.8 1019.5,2229.0 1021.0,2229.5 1022.5,2229.6 1024.0,2230.3 1025.5,2229.2 1027.0,2229.8 1028.5,2230.0 1030.0,2229.2 1031.5,2229.6 1033.0,2228.7 1034.5,2229.6 1036.0,2228.6 1037.5,2229.4 1039.0,2230.4 1040.5,2229.8 1042.0,2229.6 1043.5,2229.7 1045.0,2230.6 1046.5,2229.9 1048.0,2230.1 1049.5,2229.4 1051.0,2229.4 1052.5,2229.2 1054.0,2229.6 1055.5,2229.3 1057.0,2230.1 1058.5,2229.9 1060.0,2229.6 1061.5,2229.4 1063.0,2228.4 1064.5,2229.4 1066.0,2229.8 1067.5,2230.0 1069.0,2228.3 1070.5,2228.6 1072.0,2229.7 1073.5,2229.2 1075.0,2229.6 1076.5,2229.5 1078.0,2230.0 1079.5,2228.9 1081.0,2229.4 1082.0,2230.1 1082.5,2229.8 1084.0,2229.3 1085.5,2229.9 1087.0,2229.9 1088.5,2229.3 1090.0,2230.1 1091.5,2230.1 1093.0,2229.7 1094.5,2230.2 1096.0,2229.3 1097.5,2230.2 1099.0,2229.8 1100.5,2229.4 1102.0,2229.6 1103.5,2230.4 1105.0,2229.7 1106.5,2229.8 1108.0,2229.7 1109.5,2229.6 1111.0,2230.4 1112.5,2231.0 1114.0,2230.7 1115.5,2230.3 1117.0,2230.5 1118.5,2230.0 1120.0,2230.0 1121.5,2229.7 1123.0,2230.9 1124.5,2230.1 1126.0,2230.0 1127.5,2230.0 1129.0,2230.4 1130.5,2230.1 1132.0,2230.4 1133.5,2230.5 1135.0,2231.1 1136.5,2229.9 1138.0,2230.7 1139.5,2230.3 1141.0,2230.4 1142.5,2231.3 1144.0,2230.9 1145.5,2230.5 1147.0,2230.9 1148.5,2230.7 1150.0,2229.7 1151.5,2230.6 1153.0,2231.0 1154.5,2230.8 1156.0,2230.9 1157.5,2230.8 1159.0,2230.6 1160.5,2231.0 1162.0,2231.4 1163.5,2230.7 1165.0,2230.8 1166.5,2231.2 1168.0,2230.7 1169.5,2231.5 1171.0,2231.4 1172.5,2230.1 1174.0,2230.8 1175.5,2230.7 1177.0,2231.5 1178.5,2231.6 1180.0,2230.7 1181.5,2230.9 1183.0,2231.2 1184.5,2231.0 1186.0,2231.5 1187.5,2231.7 1189.0,2231.5 1190.5,2231.7 1192.0,2231.7 1193.5,2231.2 1195.0,2231.1 1196.5,2231.0 1198.0,2231.7 1199.5,2231.7 1201.0,2231.8 1202.5,2231.2 1204.0,2231.2 1205.5,2231.5 1207.0,2231.9 1208.5,2231.5 1210.0,2231.5 1211.5,2231.0 1213.0,2230.0 1214.5,2231.6 1216.0,2231.0 1217.5,2232.2 1219.0,2232.6 1220.5,2231.8 1222.0,2231.3 1223.5,2231.5 1225.0,2231.1 1226.5,2231.2 1228.0,2231.8 1229.5,2231.4 1231.0,2231.3 1232.5,2231.9 1234.0,2231.8 1235.5,2231.5 1237.0,2231.6 1238.5,2233.8 1240.0,2231.4 1241.5,2231.7 1243.0,2231.7 1244.5,2230.9 1246.0,2230.6 1247.5,2231.6 1249.0,2231.9 1250.5,2231.6 1252.0,2231.3 1253.5,2231.2 1255.0,2231.9 1256.5,2231.4 1258.0,2230.8 1259.5,2231.8 1260.0,2231.6 1261.0,2231.7 1262.5,2232.0 1264.0,2232.1 1265.5,2231.8 1267.0,2231.4 1268.5,2230.6 1270.0,2231.6 1271.5,2231.4 1273.0,2232.1 1274.5,2232.1 1276.0,2231.7 1277.5,2232.1 1279.0,2231.5 1280.5,2231.5 1282.0,2231.1 1283.5,2231.4 1285.0,2231.6 1286.5,2232.0 1288.0,2231.2 1289.5,2231.9 1291.0,2232.5 1292.5,2230.9 1294.0,2231.4 1295.5,2231.5 1297.0,2232.0 1298.5,2232.4 1300.0,2232.1 1301.5,2231.5 1303.0,2231.1 1304.5,2231.5 1306.0,2231.5 1307.5,2233.2 1309.0,2231.1 1310.5,2232.2 1312.0,2231.2 1313.5,2231.8 1315.0,2231.6 1316.5,2231.0 1318.0,2231.5 1319.5,2231.5 1321.0,2231.4 1322.5,2233.5 1324.0,2231.3 1325.5,2232.6 1327.0,2232.0 1328.5,2231.1 1330.0,2230.4 1331.5,2232.1 1333.0,2231.6 1334.5,2231.5 1336.0,2231.1 1337.5,2230.9 1339.0,2230.7 1340.5,2232.6 1342.0,2232.2 1343.5,2231.3 1345.0,2232.3 1346.5,2230.7 1348.0,2231.8 1349.5,2231.8 1351.0,2231.1 1352.5,2231.3 1354.0,2231.0 1355.5,2231.5 1357.0,2232.0 1358.5,2231.9 1360.0,2231.6 1361.5,2231.9 1363.0,2230.6 1364.5,2232.3 1366.0,2231.4 1367.5,2230.8 1369.0,2231.2 1370.5,2231.1 1372.0,2231.4 1373.5,2231.5 1375.0,2230.3 1376.5,2231.8 1378.0,2232.0 1379.5,2230.8 1381.0,2231.9 1382.5,2231.8 1384.0,2231.6 1385.5,2231.9 1387.0,2230.5 1388.5,2231.4 1390.0,2230.6 1391.5,2232.1 1393.0,2230.6 1394.5,2230.5 1395.0,2231.5 1396.0,2231.2 1397.5,2230.9 1399.0,2230.8 1400.5,2230.8 1402.0,2231.1 1403.5,2229.7 1405.0,2229.6 1406.5,2229.4 1408.0,2229.4 1409.5,2229.3 1411.0,2228.6 1412.0,2229.3 1412.5,2228.6 1414.0,2229.1 1415.5,2229.3 1417.0,2229.5 1418.5,2230.5 1420.0,2230.8 1421.5,2230.8 1423.0,2231.3 1424.5,2230.7 1426.0,2231.7 1427.5,2231.3 1429.0,2231.5 1430.0,2231.6 1430.5,2230.9 1432.0,2231.3 1433.5,2231.6 1435.0,2233.5 1436.5,2231.7 1438.0,2231.5 1439.5,2231.4 1441.0,2232.0 1442.5,2231.5 1444.0,2231.6 1445.5,2232.1 1447.0,2232.3 1448.5,2231.9 1450.0,2231.5 1451.5,2232.5 1453.0,2232.8 1454.5,2232.3 1456.0,2232.4 1457.5,2231.5 1459.0,2234.6 1460.5,2232.2 1462.0,2233.0 1463.5,2232.5 1465.0,2232.7 1466.5,2232.7 1468.0,2232.0 1469.5,2234.1 1471.0,2232.2 1472.5,2232.9 1474.0,2232.5 1475.5,2232.8 1477.0,2233.6 1478.5,2232.1 1480.0,2232.9 1481.5,2233.2 1483.0,2233.0 1484.5,2233.2 1486.0,2232.7 1487.0,2232.3 1487.5,2232.4 1489.0,2232.8 1490.5,2233.3 1492.0,2233.0 1493.5,2233.7 1495.0,2233.0 1496.5,2233.1 1498.0,2233.1 1499.5,2232.2 1501.0,2233.3 1502.5,2232.5 1504.0,2232.8 1505.5,2234.1 1507.0,2232.4 1508.5,2233.1 1510.0,2233.1 1511.5,2234.7 1513.0,2233.0 1514.5,2232.7 1516.0,2233.9 1517.5,2232.1 1519.0,2232.5 1520.5,2233.7 1522.0,2233.2 1523.5,2232.7 1525.0,2232.6 1526.5,2232.9 1528.0,2234.2 1529.5,2233.2 1531.0,2232.5 1532.5,2233.1 1534.0,2232.7 1535.5,2233.7 1537.0,2233.1 1538.5,2233.6 1540.0,2233.1 1541.5,2233.9 1543.0,2233.2 1544.5,2233.1 1546.0,2232.5 1547.5,2232.8 1549.0,2233.2 1550.5,2232.8 1552.0,2234.1 1553.5,2233.0 1555.0,2234.3 1556.5,2233.4 1558.0,2232.8 1559.5,2233.2 1561.0,2233.0 1562.5,2232.7 1564.0,2233.6 1565.5,2233.0 1567.0,2233.5 1568.5,2232.8 1570.0,2232.4 1571.5,2232.4 1573.0,2232.8 1574.5,2232.9 1576.0,2233.0 1577.5,2231.6 1579.0,2232.4 1580.5,2233.1 1582.0,2232.5 1583.5,2232.7 1585.0,2234.2 1586.5,2233.6 1588.0,2232.8 1589.5,2233.8 1591.0,2235.2 1592.5,2233.4 1594.0,2233.7 1595.5,2232.9 1597.0,2232.9 1598.5,2232.6 1600.0,2233.3 1601.5,2232.4 1603.0,2232.8 1604.5,2233.2 1606.0,2232.8 1607.5,2231.6 1609.0,2233.8 1610.5,2232.6 1612.0,2233.6 1613.5,2232.7 1615.0,2232.6 1616.5,2233.1 1618.0,2233.5 1619.5,2232.7 1621.0,2232.7 1622.5,2232.8 1624.0,2232.7 1625.5,2233.1 1627.0,2232.7 1628.5,2232.9 1630.0,2233.2 1631.5,2232.8"/>
<path stroke="#ff0000" d="M158.5,2390.9 160.0,2391.5 161.5,2390.5 163.0,2391.1 164.5,2390.4 166.0,2391.0 167.5,2390.5 169.0,2390.9 170.5,2391.2 172.0,2390.5 173.5,2390.1 175.0,2390.8 176.5,2391.1 178.0,2391.0 179.5,2390.5 181.0,2391.2 182.5,2390.7 184.0,2391.2 185.5,2390.4 187.0,2391.0 188.5,2391.3 190.0,2390.5 191.5,2390.7 193.0,2391.1 194.5,2391.0 196.0,2390.9 197.5,2390.7 199.0,2390.1 200.5,2390.8 202.0,2390.2 203.5,2390.8 205.0,2389.7 206.5,2391.4 208.0,2391.6 209.5,2390.9 211.0,2390.3 212.5,2390.6 214.0,2391.1 215.5,2391.0 217.0,2390.4 218.5,2391.2 220.0,2391.0 221.5,2390.9 223.0,2390.5 224.5,2390.7 226.0,2390.3 227.5,2390.7 229.0,2390.3 230.5,2391.2 232.0,2390.6 233.5,2390.7 235.0,2390.8 236.5,2390.7 238.0,2390.0 239.5,2391.2 241.0,2390.6 242.5,2390.3 244.0,2390.1 245.5,2390.3 247.0,2390.3 248.5,2390.6 250.0,2390.2 251.5,2390.6 253.0,2390.6 254.5,2390.2 256.0,2391.5 257.5,2390.5 259.0,2390.7 260.5,2390.6 262.0,2390.4 263.5,2390.8 265.0,2391.1 266.5,2390.5 268.0,2390.1 269.5,2390.7 271.0,2389.5 272.5,2390.5 274.0,2390.4 275.5,2390.6 277.0,2389.8 278.5,2390.3 280.0,2390.0 281.5,2390.2 283.0,2390.7 284.5,2390.3 286.0,2390.2 287.5,2390.9 289.0,2390.4 290.5,2389.5 292.0,2389.9 293.5,2390.6 295.0,2390.6 296.5,2390.5 298.0,2390.5 299.5,2390.0 301.0,2390.3 302.5,2389.8 304.0,2390.0 305.5,2390.0 307.0,2390.0 308.5,2390.2 310.0,2390.2 311.5,2390.0 313.0,2390.8 314.5,2390.1 316.0,2391.0 317.5,2390.8 319.0,2389.8 320.5,2390.7 322.0,2389.7 323.5,2390.9 325.0,2390.4 326.5,2389.9 328.0,2389.3 329.5,2390.1 331.0,2389.7 332.5,2390.8 334.0,2389.7 335.5,2390.2 337.0,2390.5 338.5,2390.3 340.0,2390.4 341.5,2390.1 343.0,2390.6 344.5,2389.8 346.0,2390.5 347.5,2389.7 349.0,2390.3 350.5,2389.7 352.0,2388.5 353.5,2390.5 355.0,2390.8 356.5,2389.4 358.0,2389.9 359.5,2389.8 361.0,2390.8 362.5,2389.8 364.0,2390.5 365.5,2390.0 367.0,2389.6 368.5,2390.3 370.0,2389.7 371.5,2390.5 373.0,2390.6 374.5,2390.8 376.0,2389.8 377.5,2390.9 379.0,2390.6 380.5,2389.4 382.0,2391.2 383.5,2390.9 385.0,2389.7 386.5,2390.3 388.0,2389.6 389.5,2390.1 391.0,2390.3 392.5,2390.5 394.0,2389.8 395.5,2390.2 397.0,2391.4 398.5,2390.4 400.0,2390.5 401.5,2390.2 403.0,2390.7 404.5,2390.5 406.0,2390.4 407.5,2390.7 409.0,2389.6 410.5,2390.2 412.0,2389.4 413.5,2390.2 415.0,2388.4 416.5,2390.6 418.0,2390.0 419.5,2389.9 421.0,2390.2 422.5,2390.1 424.0,2390.4 425.5,2389.8 427.0,2389.5 428.5,2389.5 430.0,2390.7 431.5,2389.6 433.0,2390.0 434.5,2389.7 436.0,2392.2 437.5,2389.9 439.0,2390.7 440.5,2389.9 442.0,2390.3 443.5,2390.5 445.0,2390.6 446.5,2389.7 448.0,2390.0 449.5,2390.2 451.0,2389.4 452.5,2388.9 454.0,2390.4 455.5,2390.4 457.0,2389.6 458.5,2390.3 460.0,2390.4 461.5,2390.7 463.0,2390.0 464.5,2390.5 466.0,2391.1 467.5,2390.0 469.0,2390.0 470.5,2390.1 472.0,2389.5 473.5,2390.0 475.0,2390.9 476.5,2389.8 478.0,2390.1 479.5,2390.7 481.0,2390.4 482.5,2390.3 484.0,2390.0 485.5,2390.1 487.0,2390.2 488.5,2390.5 490.0,2390.2 491.5,2390.6 493.0,2389.4 494.5,2390.6 496.0,2390.0 497.5,2390.2 499.0,2390.0 500.0,2390.5 500.5,2390.1 502.0,2388.9 503.5,2389.8 505.0,2390.3 506.5,2390.7 508.0,2390.7 509.5,2390.0 511.0,2390.2 512.5,2390.0 514.0,2390.1 515.5,2390.1 517.0,2390.6 518.5,2390.4 520.0,2390.7 521.5,2390.7 523.0,2389.5 524.5,2390.2 526.0,2389.8 527.5,2389.3 529.0,2389.5 530.5,2389.7 532.0,2390.7 533.5,2389.9 535.0,2389.8 536.5,2389.8 538.0,2389.5 539.5,2389.9 541.0,2389.7 542.5,2389.0 544.0,2389.5 545.5,2391.2 547.0,2390.0 548.5,2389.6 550.0,2389.9 551.5,2389.2 553.0,2389.6 554.5,2390.0 556.0,2388.9 557.5,2389.2 559.0,2389.3 560.5,2389.4 562.0,2389.3 563.5,2389.6 565.0,2389.9 566.5,2389.6 568.0,2389.9 569.0,2389.9 569.5,2389.1 571.0,2389.5 572.5,2389.2 574.0,2389.6 575.5,2389.2 577.0,2389.2 578.5,2390.1 580.0,2389.2 581.5,2388.6 583.0,2389.3 584.5,2389.4 586.0,2389.0 587.5,2389.3 589.0,2389.7 590.5,2389.0 592.0,2389.1 593.5,2388.9 595.0,2389.3 596.5,2389.1 598.0,2390.4 599.5,2389.1 601.0,2390.0 602.5,2388.4 604.0,2388.5 605.5,2389.3 607.0,2388.5 608.5,2390.0 610.0,2388.4 611.5,2388.5 613.0,2388.8 614.5,2389.5 616.0,2389.4 617.5,2389.3 619.0,2389.1 620.5,2389.6 622.0,2388.2 623.5,2389.1 625.0,2389.6 626.5,2388.5 628.0,2389.1 629.5,2389.4 631.0,2389.4 632.5,2388.8 634.0,2389.7 635.5,2389.1 637.0,2389.3 638.0,2388.3 638.5,2388.5 640.0,2388.4 641.5,2389.5 643.0,2387.7 644.5,2387.9 646.0,2389.0 647.5,2388.7 649.0,2387.3 650.5,2388.4 652.0,2388.4 653.5,2389.0 655.0,2387.6 656.5,2388.2 658.0,2388.9 659.5,2388.7 661.0,2387.9 662.5,2388.1 664.0,2387.6 665.5,2388.8 667.0,2386.3 668.5,2388.6 670.0,2388.4 671.5,2386.0 673.0,2387.9 674.5,2388.2 676.0,2388.0 677.5,2388.4 679.0,2388.2 680.5,2387.8 682.0,2387.9 683.5,2387.2 685.0,2387.2 686.5,2387.7 688.0,2387.5 689.5,2386.8 690.0,2387.3 691.0,2386.9 692.5,2387.0 694.0,2387.7 695.5,2386.7 697.0,2386.7 698.5,2388.8 700.0,2386.9 701.5,2386.9 703.0,2384.5 704.5,2386.6 706.0,2386.4 707.5,2386.1 709.0,2387.7 710.5,2386.1 712.0,2386.5 713.5,2386.9 715.0,2386.0 716.5,2386.5 718.0,2385.8 719.5,2385.0 720.0,2385.6 721.0,2386.1 722.5,2386.0 724.0,2384.9 725.5,2386.2 727.0,2386.3 728.5,2384.6 730.0,2384.5 731.5,2385.2 733.0,2384.6 734.5,2384.7 736.0,2383.1 737.5,2383.9 737.9,2383.8 739.0,2383.9 740.5,2383.2 742.0,2383.6 743.5,2382.4 745.0,2381.8 746.5,2381.2 748.0,2382.1 749.5,2381.4 751.0,2380.3 752.5,2380.6 754.0,2379.6 755.5,2379.1 755.9,2378.4 757.0,2378.4 758.5,2378.1 760.0,2377.5 761.5,2376.5 763.0,2376.4 764.5,2375.9 766.0,2374.1 767.5,2373.9 769.0,2372.3 770.5,2372.4 772.0,2371.1 773.5,2369.2 773.8,2370.8 775.0,2370.1 776.5,2370.0 778.0,2368.6 779.5,2368.1 781.0,2367.8 782.5,2367.0 784.0,2366.6 785.5,2365.9 785.8,2365.6 787.0,2365.9 788.5,2365.3 790.0,2365.3 791.5,2365.2 793.0,2364.2 794.5,2363.7 796.0,2363.4 797.5,2362.8 797.8,2362.1 799.0,2362.9 800.5,2361.1 802.0,2360.5 803.0,2358.5 803.5,2358.7 805.0,2357.8 806.5,2356.8 807.3,2356.7 808.0,2355.8 809.5,2354.5 811.0,2353.0 812.5,2349.9 812.6,2350.4 814.0,2347.4 815.5,2343.9 816.4,2340.4 817.0,2338.2 818.5,2331.5 820.0,2324.0 821.5,2317.9 823.0,2309.7 823.3,2307.6 824.5,2301.5 826.0,2292.7 827.5,2283.9 829.0,2277.2 830.5,2272.1 832.0,2269.5 832.1,2269.1 833.5,2272.0 834.5,2275.2 835.0,2279.6 836.3,2291.6 836.5,2294.0 838.0,2301.9 839.5,2308.3 841.0,2313.2 842.5,2319.1 844.0,2324.0 845.5,2331.0 847.0,2338.9 847.2,2340.0 848.5,2345.7 850.0,2351.5 850.5,2353.6 851.5,2359.0 852.6,2364.0 853.0,2366.7 854.0,2369.3 854.5,2370.8 856.0,2373.8 857.5,2374.8 859.0,2376.8 860.5,2377.6 861.1,2379.5 862.0,2379.1 863.5,2378.8 865.0,2379.7 866.5,2379.8 868.0,2381.1 869.5,2382.1 871.0,2382.0 872.5,2382.8 873.1,2382.3 874.0,2383.3 875.5,2383.1 877.0,2383.3 878.5,2384.5 880.0,2384.1 881.5,2384.6 883.0,2384.6 884.5,2385.0 886.0,2384.9 887.5,2384.5 889.0,2385.3 890.5,2385.4 892.0,2385.5 893.5,2385.3 895.0,2386.2 896.5,2385.2 898.0,2385.6 899.4,2385.7 899.5,2385.2 901.0,2385.2 902.5,2384.4 904.0,2386.1 905.5,2385.9 907.0,2385.2 908.5,2385.8 910.0,2386.1 911.5,2386.3 913.0,2385.0 914.5,2386.3 916.0,2388.1 917.5,2386.9 919.0,2385.2 920.5,2386.7 922.0,2386.1 923.5,2386.6 925.0,2386.5 926.5,2386.0 928.0,2386.1 929.5,2386.7 931.0,2384.9 932.5,2386.9 934.0,2386.4 935.5,2387.6 937.0,2386.6 938.5,2387.6 940.0,2386.4 941.5,2387.0 943.0,2387.3 944.5,2386.3 946.0,2386.4 947.5,2387.1 949.0,2387.4 950.5,2387.5 952.0,2387.2 953.5,2387.4 955.0,2386.5 956.5,2388.5 958.0,2387.7 959.5,2386.8 961.0,2387.0 962.5,2386.4 964.0,2387.1 965.5,2386.5 967.0,2387.3 968.5,2387.8 970.0,2387.3 971.5,2387.3 973.0,2387.0 974.5,2387.4 976.0,2386.7 977.5,2387.0 979.0,2388.2 980.5,2386.7 981.0,2387.0 982.0,2386.6 983.5,2387.8 985.0,2387.1 986.5,2386.7 988.0,2386.7 989.5,2387.7 991.0,2387.5 992.5,2387.5 994.0,2387.2 995.5,2387.6 997.0,2387.8 998.5,2387.5 1000.0,2386.5 1001.5,2386.3 1003.0,2386.5 1004.5,2387.3 1006.0,2386.5 1007.5,2386.7 1009.0,2387.1 1010.5,2386.7 1012.0,2386.5 1013.5,2387.5 1015.0,2387.3 1016.5,2387.4 1018.0,2387.4 1019.5,2387.7 1021.0,2387.0 1022.5,2386.9 1024.0,2386.2 1025.5,2386.9 1027.0,2386.7 1028.5,2387.4 1030.0,2387.2 1031.5,2387.5 1033.0,2387.4 1034.5,2387.4 1036.0,2387.1 1037.5,2386.9 1039.0,2386.6 1040.5,2386.8 1042.0,2386.4 1043.5,2386.9 1045.0,2386.7 1046.5,2385.8 1048.0,2385.5 1049.5,2386.3 1051.0,2386.4 1052.5,2386.5 1054.0,2387.2 1055.5,2386.3 1057.0,2387.6 1058.5,2386.7 1060.0,2386.9 1061.5,2387.2 1063.0,2386.0 1064.5,2386.3 1066.0,2386.1 1067.5,2386.9 1069.0,2386.5 1070.5,2386.1 1072.0,2386.3 1073.5,2385.8 1075.0,2385.8 1076.5,2385.8 1078.0,2385.5 1079.5,2384.0 1081.0,2385.9 1082.0,2385.8 1082.5,2386.3 1084.0,2386.1 1085.5,2385.8 1087.0,2384.9 1088.5,2385.4 1090.0,2385.9 1091.5,2386.1 1093.0,2385.9 1094.5,2386.5 1096.0,2388.4 1097.5,2386.7 1099.0,2387.0 1100.5,2387.2 1102.0,2387.0 1103.5,2388.7 1105.0,2387.4 1106.5,2387.6 1108.0,2387.1 1109.5,2386.7 1111.0,2387.2 1112.5,2387.9 1114.0,2387.0 1115.5,2388.2 1117.0,2385.9 1118.5,2387.9 1120.0,2387.5 1121.5,2388.1 1123.0,2388.0 1124.5,2388.1 1126.0,2387.2 1127.5,2388.3 1129.0,2387.3 1130.5,2387.9 1132.0,2388.3 1133.5,2388.0 1135.0,2388.4 1136.5,2388.2 1138.0,2388.2 1139.5,2387.9 1141.0,2388.7 1142.5,2388.7 1144.0,2388.0 1145.5,2387.9 1147.0,2388.4 1148.5,2388.0 1150.0,2388.4 1151.5,2388.7 1153.0,2388.7 1154.5,2389.0 1156.0,2388.6 1157.5,2388.0 1159.0,2388.1 1160.5,2388.7 1162.0,2389.3 1163.5,2388.3 1165.0,2388.1 1166.5,2389.1 1168.0,2388.5 1169.5,2388.8 1171.0,2389.0 1172.5,2388.2 1174.0,2388.4 1175.5,2388.4 1177.0,2388.8 1178.5,2388.9 1180.0,2388.4 1181.5,2388.9 1183.0,2387.9 1184.5,2388.8 1186.0,2388.9 1187.5,2390.3 1189.0,2388.1 1190.5,2388.7 1192.0,2388.3 1193.5,2389.4 1195.0,2388.7 1196.5,2388.7 1198.0,2388.8 1199.5,2389.1 1201.0,2388.9 1202.5,2389.1 1204.0,2388.5 1205.5,2389.4 1207.0,2390.3 1208.5,2389.2 1210.0,2389.0 1211.5,2389.4 1213.0,2388.9 1214.5,2388.4 1216.0,2388.5 1217.5,2388.9 1219.0,2389.6 1220.5,2388.8 1222.0,2389.1 1223.5,2388.0 1225.0,2388.8 1226.5,2389.2 1228.0,2389.2 1229.5,2388.8 1231.0,2389.2 1232.5,2389.6 1234.0,2389.6 1235.5,2389.0 1237.0,2390.4 1238.5,2389.3 1240.0,2389.0 1241.5,2388.9 1243.0,2388.8 1244.5,2389.5 1246.0,2388.0 1247.5,2389.1 1249.0,2388.6 1250.5,2389.2 1252.0,2389.2 1253.5,2388.7 1255.0,2388.8 1256.5,2389.8 1258.0,2389.0 1259.5,2389.3 1260.0,2389.1 1261.0,2389.6 1262.5,2389.8 1264.0,2389.7 1265.5,2389.5 1267.0,2389.6 1268.5,2388.8 1270.0,2389.9 1271.5,2389.1 1273.0,2389.0 1274.5,2389.2 1276.0,2389.0 1277.5,2389.6 1279.0,2389.7 1280.5,2389.9 1282.0,2389.4 1283.5,2389.2 1285.0,2389.3 1286.5,2388.9 1288.0,2389.1 1289.5,2390.3 1291.0,2389.1 1292.5,2389.3 1294.0,2389.7 1295.5,2389.6 1297.0,2389.8 1298.5,2389.1 1300.0,2389.0 1301.5,2390.1 1303.0,2389.2 1304.5,2389.5 1306.0,2389.6 1307.5,2388.8 1309.0,2389.5 1310.5,2389.3 1312.0,2389.8 1313.5,2389.4 1315.0,2388.6 1316.5,2389.9 1318.0,2388.5 1319.5,2389.4 1321.0,2389.3 1322.5,2389.3 1324.0,2389.6 1325.5,2390.0 1327.0,2389.2 1328.5,2387.8 1330.0,2389.9 1331.5,2389.8 1333.0,2389.9 1334.5,2389.8 1336.0,2389.5 1337.5,2389.4 1339.0,2389.5 1340.5,2390.0 1342.0,2390.3 1343.5,2390.5 1345.0,2389.2 1346.5,2389.6 1348.0,2389.7 1349.5,2389.6 1351.0,2389.2 1352.5,2390.6 1354.0,2390.3 1355.5,2388.0 1357.0,2389.5 1358.5,2389.7 1360.0,2390.8 1361.0,2389.5 1361.5,2390.0 1363.0,2390.4 1364.5,2390.1 1366.0,2388.6 1367.5,2389.2 1369.0,2388.3 1370.5,2390.3 1372.0,2389.8 1373.5,2389.6 1375.0,2390.4 1376.5,2389.3 1378.0,2389.3 1379.5,2389.3 1381.0,2390.3 1382.5,2390.1 1384.0,2388.9 1385.5,2390.3 1387.0,2389.6 1388.5,2389.8 1390.0,2389.3 1391.5,2390.4 1393.0,2389.8 1394.5,2390.2 1396.0,2389.2 1397.5,2389.9 1399.0,2389.6 1400.5,2389.5 1402.0,2389.2 1403.5,2389.3 1405.0,2389.0 1406.5,2389.2 1408.0,2389.5 1409.5,2389.8 1411.0,2388.8 1412.0,2389.0 1412.5,2389.2 1414.0,2388.7 1415.5,2389.2 1417.0,2389.0 1418.5,2388.8 1420.0,2388.8 1421.5,2388.8 1423.0,2388.5 1424.5,2388.0 1426.0,2387.9 1427.5,2387.1 1429.0,2386.9 1430.5,2387.5 1432.0,2387.4 1433.5,2388.2 1435.0,2387.2 1436.5,2387.1 1438.0,2386.3 1439.5,2387.8 1441.0,2387.9 1442.5,2389.2 1444.0,2388.1 1445.5,2389.3 1447.0,2389.2 1448.5,2389.8 1450.0,2389.8 1451.5,2389.4 1452.0,2390.3 1453.0,2390.2 1454.5,2390.6 1456.0,2389.9 1457.5,2390.2 1459.0,2390.2 1460.5,2389.6 1462.0,2391.4 1463.5,2389.5 1465.0,2390.0 1466.5,2390.3 1468.0,2389.9 1469.5,2390.8 1471.0,2388.8 1472.5,2390.7 1474.0,2390.8 1475.5,2390.8 1477.0,2390.8 1478.5,2390.7 1480.0,2391.0 1481.5,2391.2 1483.0,2390.8 1484.5,2390.7 1486.0,2390.8 1487.5,2391.1 1489.0,2390.8 1490.5,2390.9 1492.0,2390.4 1493.5,2390.3 1495.0,2390.6 1496.5,2391.8 1498.0,2391.5 1499.5,2391.6 1501.0,2391.3 1502.5,2391.4 1504.0,2391.3 1505.5,2391.4 1507.0,2391.5 1508.5,2391.8 1510.0,2390.8 1511.5,2391.4 1513.0,2391.9 1514.5,2391.8 1516.0,2390.8 1517.5,2391.3 1519.0,2391.3 1520.5,2391.3 1522.0,2390.2 1523.5,2391.6 1525.0,2390.5 1526.5,2392.1 1528.0,2391.5 1529.5,2391.2 1531.0,2391.5 1532.5,2391.3 1534.0,2391.0 1535.5,2391.2 1537.0,2391.4 1538.5,2390.9 1540.0,2391.5 1541.5,2391.7 1543.0,2391.7 1544.5,2391.7 1546.0,2391.8 1547.5,2391.5 1549.0,2391.8 1550.5,2392.8 1552.0,2391.4 1553.5,2391.8 1555.0,2392.0 1556.5,2391.1 1558.0,2390.6 1559.5,2392.1 1561.0,2391.7 1562.5,2392.0 1564.0,2391.6 1565.5,2391.3 1567.0,2390.9 1568.5,2390.8 1570.0,2391.8 1571.5,2391.6 1573.0,2391.3 1574.5,2390.7 1576.0,2391.0 1577.5,2390.9 1579.0,2391.1 1580.5,2390.0 1582.0,2391.3 1583.5,2391.9 1585.0,2391.0 1586.5,2391.2 1588.0,2391.3 1589.5,2390.8 1591.0,2391.4 1592.5,2390.9 1594.0,2391.0 1595.5,2391.3 1597.0,2391.2 1598.5,2391.3 1600.0,2392.4 1601.5,2391.5 1603.0,2390.7 1604.5,2391.6 1606.0,2391.0 1607.5,2390.7 1609.0,2391.2 1610.5,2392.3 1612.0,2391.0 1613.5,2391.1 1615.0,2391.6 1616.5,2391.6 1618.0,2391.4 1619.5,2391.1 1621.0,2390.5 1622.5,2391.1 1624.0,2391.1 1625.5,2391.2 1627.0,2391.0 1628.5,2391.0 1630.0,2391.6 1631.5,2390.6"/>
<path stroke="#000000" d="M158.5,2495.0 160.0,2495.5 161.5,2494.9 163.0,2495.4 164.5,2495.0 166.0,2494.5 167.5,2494.6 169.0,2494.9 170.5,2496.0 172.0,2493.7 173.5,2494.9 175.0,2495.1 176.5,2495.1 178.0,2494.8 179.5,2495.0 181.0,2494.9 182.5,2495.3 184.0,2495.7 185.5,2495.6 187.0,2494.9 188.5,2495.2 190.0,2494.7 191.5,2494.5 193.0,2495.0 194.5,2495.3 196.0,2495.0 197.5,2495.4 199.0,2495.4 200.5,2495.3 202.0,2494.9 203.5,2494.4 205.0,2495.8 206.5,2494.8 208.0,2495.3 209.5,2495.2 211.0,2494.8 212.5,2495.8 214.0,2495.3 215.5,2495.0 217.0,2494.8 218.5,2496.2 220.0,2494.4 221.5,2495.3 223.0,2494.8 224.5,2494.8 226.0,2495.2 227.5,2494.8 229.0,2495.3 230.5,2494.7 232.0,2494.8 233.5,2495.4 235.0,2494.7 236.5,2495.3 238.0,2495.2 239.5,2495.0 241.0,2494.3 242.5,2494.4 244.0,2494.5 245.5,2494.4 247.0,2495.4 248.5,2494.6 250.0,2494.4 251.5,2494.8 253.0,2495.0 254.5,2494.3 256.0,2495.3 257.5,2495.3 259.0,2494.7 260.5,2495.4 262.0,2494.3 263.5,2494.8 265.0,2494.9 266.5,2495.0 268.0,2495.5 269.5,2494.9 271.0,2494.6 272.5,2495.1 274.0,2495.1 275.5,2495.2 277.0,2494.9 278.5,2495.1 280.0,2494.7 281.5,2495.2 283.0,2494.7 284.5,2494.7 286.0,2495.5 287.5,2494.7 289.0,2495.0 290.5,2495.3 292.0,2494.9 293.5,2495.4 295.0,2494.7 296.5,2495.5 298.0,2494.3 299.5,2494.4 301.0,2495.0 302.5,2495.6 304.0,2495.7 305.5,2494.6 307.0,2495.0 308.5,2494.8 310.0,2494.1 311.5,2495.3 313.0,2494.8 314.5,2495.6 316.0,2495.1 317.5,2494.8 319.0,2494.7 320.5,2494.9 322.0,2495.2 323.5,2494.8 325.0,2496.2 326.5,2495.1 328.0,2494.5 329.5,2495.0 331.0,2495.5 332.5,2495.2 334.0,2494.9 335.5,2494.7 337.0,2496.2 338.5,2494.5 340.0,2494.8 341.5,2495.1 343.0,2494.7 344.5,2495.7 346.0,2495.2 347.5,2494.8 349.0,2495.0 350.5,2495.6 352.0,2494.2 353.5,2496.7 355.0,2496.2 356.5,2495.4 358.0,2494.6 359.5,2495.1 361.0,2494.9 362.5,2496.2 364.0,2494.7 365.5,2494.9 367.0,2494.9 368.5,2494.4 370.0,2493.5 371.5,2494.9 373.0,2495.2 374.5,2494.8 376.0,2495.2 377.5,2495.3 379.0,2495.3 380.5,2494.2 382.0,2495.7 383.5,2495.4 385.0,2495.4 386.5,2495.0 388.0,2495.0 389.5,2496.4 391.0,2495.2 392.5,2495.4 394.0,2494.7 395.5,2495.4 397.0,2494.8 398.5,2495.3 400.0,2494.9 401.5,2495.4 403.0,2495.9 404.5,2495.1 406.0,2494.8 407.5,2494.8 409.0,2495.3 410.5,2494.8 412.0,2495.4 413.5,2495.1 415.0,2495.4 416.5,2494.7 418.0,2494.6 419.5,2494.6 421.0,2495.1 422.5,2494.6 424.0,2495.3 425.5,2494.0 427.0,2494.7 428.5,2494.9 430.0,2494.1 431.5,2494.7 433.0,2494.3 434.5,2494.9 436.0,2494.8 437.5,2495.2 439.0,2494.5 440.5,2494.2 442.0,2494.6 443.5,2494.9 445.0,2494.9 446.5,2494.9 448.0,2495.4 449.5,2493.1 451.0,2494.7 452.5,2494.5 454.0,2494.6 455.5,2495.3 457.0,2495.0 458.5,2493.6 460.0,2495.3 461.5,2493.9 463.0,2494.6 464.5,2495.2 466.0,2494.8 467.5,2495.0 469.0,2495.1 470.5,2494.9 472.0,2494.2 473.5,2494.9 475.0,2494.4 476.5,2493.6 478.0,2494.5 479.5,2494.9 481.0,2494.7 482.5,2494.6 484.0,2495.4 485.5,2494.7 487.0,2495.0 488.5,2494.7 490.0,2495.3 491.5,2496.0 493.0,2495.1 494.5,2495.4 496.0,2494.4 497.5,2495.0 499.0,2493.9 500.5,2494.7 502.0,2494.8 503.5,2494.1 505.0,2493.7 506.5,2494.5 508.0,2494.3 509.5,2494.5 511.0,2494.6 512.5,2494.8 514.0,2495.1 515.5,2494.6 517.0,2493.7 518.5,2494.7 520.0,2494.5 521.5,2494.4 523.0,2495.1 524.5,2494.5 526.0,2494.2 527.5,2494.5 529.0,2493.6 530.0,2494.7 530.5,2494.3 532.0,2495.0 533.5,2494.6 535.0,2494.4 536.5,2494.4 538.0,2493.7 539.5,2494.2 541.0,2494.4 542.5,2494.7 544.0,2494.4 545.5,2494.5 547.0,2494.5 548.5,2494.0 550.0,2494.3 551.5,2494.1 553.0,2492.0 554.5,2493.5 556.0,2494.5 557.5,2494.8 559.0,2494.8 560.5,2493.8 562.0,2494.8 563.5,2494.8 565.0,2493.8 566.5,2494.3 568.0,2494.8 569.5,2494.1 571.0,2494.6 572.5,2493.8 574.0,2493.9 575.5,2494.4 577.0,2493.9 578.5,2494.1 580.0,2494.0 581.5,2493.5 583.0,2494.6 584.5,2493.9 586.0,2493.8 587.5,2493.7 589.0,2493.9 590.5,2493.5 592.0,2494.3 593.5,2493.7 595.0,2494.2 596.5,2493.4 598.0,2493.4 599.5,2493.4 601.0,2495.5 602.5,2493.2 604.0,2494.1 605.5,2493.6 606.0,2494.1 607.0,2493.5 608.5,2494.0 610.0,2493.2 611.5,2493.1 613.0,2493.9 614.5,2493.3 616.0,2494.0 617.5,2493.2 619.0,2493.7 620.5,2493.1 622.0,2494.2 623.5,2494.0 625.0,2493.2 626.5,2493.7 628.0,2493.3 629.5,2492.4 631.0,2493.3 632.5,2493.6 634.0,2493.6 635.5,2493.7 637.0,2493.1 638.5,2492.8 640.0,2492.9 641.5,2492.3 643.0,2493.1 644.5,2493.0 646.0,2492.8 647.5,2490.6 649.0,2492.8 650.5,2492.2 652.0,2492.9 653.5,2492.0 655.0,2492.0 656.5,2492.0 658.0,2490.1 659.5,2491.6 661.0,2491.9 662.5,2490.8 664.0,2492.7 665.5,2491.9 667.0,2491.8 668.5,2491.2 670.0,2491.7 671.5,2491.5 673.0,2491.5 674.5,2492.3 676.0,2491.2 677.5,2490.4 679.0,2491.1 680.5,2490.7 682.0,2490.7 683.5,2490.8 685.0,2491.2 686.5,2491.3 688.0,2490.7 689.5,2490.1 691.0,2491.2 692.5,2489.8 694.0,2488.5 695.5,2491.8 697.0,2489.8 698.5,2490.6 700.0,2490.1 701.5,2490.3 703.0,2489.6 704.5,2490.0 706.0,2489.5 707.5,2489.4 709.0,2489.5 710.5,2489.4 712.0,2489.4 713.5,2488.9 715.0,2488.2 716.5,2488.6 718.0,2487.5 719.5,2488.4 721.0,2488.1 722.5,2488.7 724.0,2487.0 725.5,2489.0 727.0,2487.9 728.5,2487.2 730.0,2488.0 731.5,2488.0 732.0,2487.9 733.0,2488.6 734.5,2487.2 736.0,2487.5 737.5,2487.4 739.0,2486.9 740.5,2487.2 742.0,2487.5 743.5,2486.4 745.0,2486.9 746.5,2487.0 748.0,2486.7 749.5,2485.5 751.0,2486.3 752.5,2485.8 754.0,2486.4 755.5,2485.7 757.0,2486.6 758.5,2485.0 760.0,2485.7 761.5,2485.0 763.0,2486.1 764.5,2486.0 766.0,2484.8 767.5,2485.6 769.0,2485.2 770.0,2484.5 770.5,2484.7 772.0,2485.3 773.5,2485.5 775.0,2485.1 776.5,2485.4 778.0,2485.5 779.5,2485.5 781.0,2484.9 782.5,2485.6 784.0,2485.8 785.5,2485.0 787.0,2486.4 788.5,2486.5 790.0,2486.0 791.5,2486.9 793.0,2485.7 794.5,2485.8 795.0,2485.9 796.0,2485.9 797.5,2487.2 799.0,2486.5 800.5,2486.5 802.0,2486.9 803.5,2487.5 805.0,2487.0 806.5,2486.9 808.0,2487.4 809.5,2488.0 811.0,2487.5 812.5,2488.4 814.0,2488.0 815.5,2488.0 817.0,2486.8 818.5,2487.6 820.0,2488.4 821.5,2489.3 823.0,2489.0 824.5,2489.0 826.0,2489.1 827.5,2489.5 829.0,2489.5 830.5,2489.5 832.0,2489.7 833.0,2489.1 833.5,2489.2 835.0,2489.1 836.5,2489.5 838.0,2489.6 839.5,2488.0 841.0,2490.1 842.5,2489.5 844.0,2489.9 845.5,2490.4 847.0,2490.8 848.5,2490.1 850.0,2490.7 851.5,2490.8 853.0,2489.8 854.5,2490.4 856.0,2489.9 857.5,2490.2 859.0,2490.6 860.5,2489.9 862.0,2490.8 863.5,2490.5 865.0,2490.5 866.5,2490.9 868.0,2490.3 869.5,2490.0 871.0,2490.8 872.5,2490.5 874.0,2490.8 875.5,2490.4 877.0,2490.5 878.5,2490.5 880.0,2490.4 881.5,2490.7 883.0,2490.7 884.5,2491.1 886.0,2492.5 887.5,2490.9 889.0,2490.5 890.5,2491.5 892.0,2490.7 893.5,2490.9 895.0,2491.2 896.5,2491.4 898.0,2491.4 899.5,2491.6 901.0,2491.4 902.5,2492.0 904.0,2491.9 905.5,2491.4 907.0,2491.5 908.5,2491.1 909.0,2492.0 910.0,2491.6 911.5,2492.6 913.0,2491.5 914.5,2492.5 916.0,2491.5 917.5,2491.2 919.0,2491.6 920.5,2492.2 922.0,2492.5 923.5,2491.7 925.0,2492.6 926.5,2492.0 928.0,2492.0 929.5,2492.2 931.0,2493.1 932.5,2492.5 934.0,2492.6 935.5,2491.8 937.0,2492.6 938.5,2492.7 940.0,2493.4 941.5,2492.3 943.0,2492.4 944.5,2492.4 946.0,2492.5 947.5,2493.2 949.0,2492.6 950.5,2491.9 952.0,2493.0 953.5,2492.6 955.0,2492.8 956.5,2492.5 958.0,2492.5 959.5,2493.7 961.0,2493.7 962.5,2492.9 964.0,2493.1 965.5,2494.1 967.0,2493.1 968.5,2493.6 970.0,2493.7 971.5,2491.8 973.0,2493.5 974.5,2493.5 976.0,2493.7 977.5,2493.0 979.0,2493.7 980.5,2493.8 982.0,2493.2 983.5,2494.0 985.0,2493.4 986.5,2492.7 988.0,2493.0 989.5,2493.9 991.0,2494.1 992.5,2493.7 994.0,2493.3 995.5,2493.9 997.0,2494.4 998.5,2493.9 1000.0,2493.3 1001.0,2494.2 1001.5,2493.9 1003.0,2493.9 1004.5,2494.0 1006.0,2494.3 1007.5,2494.0 1009.0,2493.6 1010.5,2494.0 1012.0,2494.1 1013.5,2494.6 1015.0,2493.5 1016.5,2494.0 1018.0,2493.7 1019.5,2494.2 1021.0,2493.8 1022.5,2492.7 1024.0,2494.5 1025.5,2493.8 1027.0,2493.6 1028.5,2493.4 1030.0,2493.6 1031.5,2493.5 1033.0,2494.0 1034.5,2494.2 1036.0,2494.1 1037.5,2494.3 1039.0,2493.8 1040.5,2494.4 1042.0,2494.1 1043.5,2494.3 1045.0,2494.4 1046.5,2494.0 1048.0,2494.7 1049.5,2494.5 1051.0,2494.0 1052.5,2494.9 1054.0,2494.9 1055.5,2493.5 1057.0,2493.2 1058.5,2493.9 1060.0,2494.4 1061.5,2494.6 1063.0,2494.5 1064.5,2494.2 1066.0,2494.6 1067.5,2494.5 1069.0,2494.0 1070.5,2494.3 1072.0,2494.7 1073.5,2493.9 1075.0,2493.9 1076.5,2493.8 1078.0,2494.8 1079.5,2494.5 1081.0,2494.6 1082.5,2494.1 1084.0,2494.2 1085.5,2494.8 1087.0,2494.1 1088.5,2494.7 1090.0,2494.2 1091.5,2494.2 1093.0,2494.5 1094.5,2494.6 1096.0,2495.0 1097.5,2494.1 1099.0,2495.0 1100.5,2493.9 1102.0,2493.9 1103.5,2493.3 1105.0,2494.6 1106.5,2494.9 1108.0,2493.7 1109.5,2494.1 1111.0,2494.2 1112.5,2493.6 1114.0,2494.3 1115.5,2494.4 1117.0,2494.1 1118.5,2493.8 1120.0,2494.3 1121.5,2494.6 1123.0,2493.7 1124.5,2494.3 1126.0,2494.5 1127.5,2493.1 1129.0,2494.5 1130.5,2495.1 1132.0,2493.8 1133.5,2494.9 1135.0,2494.2 1136.5,2494.6 1138.0,2494.3 1139.5,2493.8 1141.0,2493.6 1142.5,2495.4 1144.0,2493.8 1145.5,2494.2 1147.0,2495.0 1148.5,2492.9 1150.0,2494.5 1151.5,2493.5 1153.0,2494.1 1154.5,2493.8 1156.0,2493.6 1157.5,2494.6 1159.0,2494.8 1160.5,2494.1 1162.0,2494.2 1163.5,2494.6 1165.0,2494.8 1166.5,2494.0 1168.0,2495.0 1169.5,2494.9 1171.0,2494.5 1172.5,2494.0 1174.0,2494.8 1175.5,2494.9 1177.0,2495.3 1178.5,2494.3 1180.0,2495.3 1181.5,2494.5 1183.0,2494.9 1184.5,2494.6 1186.0,2494.7 1187.5,2495.3 1189.0,2494.4 1190.5,2495.1 1192.0,2494.6 1193.5,2494.7 1195.0,2494.4 1196.5,2494.9 1198.0,2493.9 1199.5,2496.3 1201.0,2495.3 1202.5,2495.2 1204.0,2494.1 1205.5,2494.4 1207.0,2494.7 1208.5,2495.7 1210.0,2494.7 1211.5,2495.0 1213.0,2494.9 1214.5,2495.1 1216.0,2494.6 1217.5,2495.1 1219.0,2495.3 1220.5,2497.1 1222.0,2494.7 1223.5,2495.5 1225.0,2496.0 1226.5,2495.5 1228.0,2495.5 1229.5,2494.1 1231.0,2495.8 1232.5,2496.1 1234.0,2495.8 1235.5,2495.5 1237.0,2495.6 1238.5,2496.6 1240.0,2495.0 1241.5,2495.1 1243.0,2495.8 1244.5,2495.4 1246.0,2494.4 1247.5,2495.4 1249.0,2495.5 1250.5,2495.0 1252.0,2495.6 1253.5,2495.5 1255.0,2494.6 1256.5,2497.2 1258.0,2496.4 1259.5,2496.2 1261.0,2494.9 1262.5,2494.9 1264.0,2495.5 1265.5,2495.6 1267.0,2494.9 1268.5,2495.1 1270.0,2496.1 1271.5,2495.6 1273.0,2496.0 1274.5,2495.5 1276.0,2496.0 1277.5,2495.3 1279.0,2495.3 1280.5,2495.1 1282.0,2494.6 1283.5,2495.3 1285.0,2494.9 1286.5,2495.3 1288.0,2495.6 1289.5,2495.6 1291.0,2495.7 1292.5,2495.3 1294.0,2495.5 1295.5,2496.0 1297.0,2493.8 1298.5,2495.5 1300.0,2494.4 1301.5,2495.0 1303.0,2496.0 1304.5,2495.1 1306.0,2495.0 1307.5,2495.9 1309.0,2494.9 1310.5,2495.9 1312.0,2495.4 1313.5,2495.2 1315.0,2494.6 1316.5,2496.1 1318.0,2494.7 1319.5,2494.9 1321.0,2495.8 1322.5,2494.9 1324.0,2495.7 1325.5,2495.5 1327.0,2495.4 1328.5,2495.0 1330.0,2495.2 1331.5,2495.6 1333.0,2495.1 1334.5,2495.8 1336.0,2495.6 1337.5,2495.7 1339.0,2495.6 1340.5,2495.7 1342.0,2495.7 1343.5,2495.9 1345.0,2497.3 1346.5,2495.6 1348.0,2495.1 1349.5,2494.7 1351.0,2495.5 1352.5,2495.9 1354.0,2495.1 1355.5,2494.8 1357.0,2493.6 1358.5,2495.7 1360.0,2495.9 1361.5,2495.3 1363.0,2495.0 1364.5,2495.5 1366.0,2495.8 1367.5,2495.5 1369.0,2495.9 1370.5,2495.3 1372.0,2495.9 1373.5,2496.2 1375.0,2495.0 1376.5,2495.1 1378.0,2495.8 1379.5,2496.9 1381.0,2495.7 1382.5,2495.5 1384.0,2496.1 1385.5,2495.4 1387.0,2494.8 1388.5,2495.1 1390.0,2494.5 1391.5,2494.7 1393.0,2494.9 1394.5,2497.5 1396.0,2495.6 1397.5,2496.0 1399.0,2495.0 1400.5,2495.2 1402.0,2495.3 1403.5,2494.9 1405.0,2495.4 1406.5,2495.4 1408.0,2495.9 1409.5,2497.1 1411.0,2495.3 1412.5,2495.7 1414.0,2496.0 1415.5,2496.0 1417.0,2495.6 1418.5,2495.3 1420.0,2495.3 1421.5,2494.9 1423.0,2495.5 1424.5,2495.5 1426.0,2496.2 1427.5,2495.6 1429.0,2495.8 1430.5,2496.1 1432.0,2494.7 1433.5,2495.2 1435.0,2495.4 1436.5,2495.5 1438.0,2495.0 1439.5,2495.9 1441.0,2495.9 1442.5,2495.7 1444.0,2495.8 1445.5,2495.0 1447.0,2496.0 1448.5,2495.2 1450.0,2494.6 1451.5,2495.5 1453.0,2495.7 1454.5,2495.2 1456.0,2494.7 1457.5,2493.4 1459.0,2495.4 1460.5,2494.4 1462.0,2496.0 1463.5,2495.9 1465.0,2495.4 1466.5,2496.0 1468.0,2495.4 1469.5,2495.0 1471.0,2495.8 1472.5,2495.7 1474.0,2495.1 1475.5,2494.9 1477.0,2495.0 1478.5,2496.0 1480.0,2495.4 1481.5,2496.8 1483.0,2495.2 1484.5,2495.8 1486.0,2495.6 1487.5,2495.4 1489.0,2495.9 1490.5,2495.1 1492.0,2493.9 1493.5,2495.0 1495.0,2494.5 1496.5,2495.5 1498.0,2495.0 1499.5,2494.9 1501.0,2495.8 1502.5,2495.4 1504.0,2495.7 1505.5,2496.3 1507.0,2495.6 1508.5,2495.7 1510.0,2495.0 1511.5,2495.9 1513.0,2495.9 1514.5,2495.0 1516.0,2495.8 1517.5,2495.6 1519.0,2495.4 1520.5,2495.5 1522.0,2496.6 1523.5,2495.2 1525.0,2495.3 1526.5,2495.5 1528.0,2495.4 1529.5,2494.7 1531.0,2495.8 1532.5,2495.9 1534.0,2496.3 1535.5,2495.2 1537.0,2494.9 1538.5,2495.8 1540.0,2495.0 1541.5,2495.5 1543.0,2495.3 1544.5,2495.6 1546.0,2495.3 1547.5,2497.4 1549.0,2495.1 1550.5,2496.6 1552.0,2495.8 1553.5,2495.2 1555.0,2495.1 1556.5,2495.4 1558.0,2495.3 1559.5,2495.1 1561.0,2496.1 1562.5,2495.9 1564.0,2495.0 1565.5,2495.7 1567.0,2495.5 1568.5,2495.8 1570.0,2495.2 1571.5,2496.5 1573.0,2495.5 1574.5,2496.4 1576.0,2495.3 1577.5,2494.5 1579.0,2495.4 1580.5,2496.2 1582.0,2495.4 1583.5,2495.0 1585.0,2495.0 1586.5,2495.2 1588.0,2495.8 1589.5,2495.7 1591.0,2495.5 1592.5,2496.0 1594.0,2496.2 1595.5,2495.0 1597.0,2497.5 1598.5,2496.5 1600.0,2495.2 1601.5,2495.2 1603.0,2495.7 1604.5,2495.6 1606.0,2495.3 1607.5,2495.5 1609.0,2496.2 1610.5,2495.9 1612.0,2495.1 1613.5,2496.3 1615.0,2495.0 1616.5,2495.6 1618.0,2495.1 1619.5,2495.1 1621.0,2495.8 1622.5,2495.4 1624.0,2495.3 1625.5,2495.6 1627.0,2496.1 1628.5,2495.6 1630.0,2495.8 1631.5,2495.5"/>
</g>
<rect x="157.5" y="1447.1" width="1476.3" height="1086.2" fill="none" stroke="#000" stroke-width="5.0" stroke-linejoin="miter"/>
<path d="M159.5,1500.0H170.5 M159.5,1553.0H180.5 M159.5,1606.1H170.5 M159.5,1659.2H180.5 M159.5,1712.2H170.5 M159.5,1765.2H180.5 M159.5,1818.3H170.5 M159.5,1871.3H180.5 M159.5,1924.4H170.5 M159.5,1977.5H180.5 M159.5,2030.5H170.5 M159.5,2083.6H180.5 M159.5,2136.6H170.5 M159.5,2189.7H180.5 M159.5,2242.7H170.5 M159.5,2295.8H180.5 M159.5,2348.8H170.5 M159.5,2401.8H180.5 M159.5,2454.9H170.5 M159.5,2507.9H180.5 M305.1,2531.3V2520.3 M452.8,2531.3V2510.3 M600.4,2531.3V2520.3 M748.0,2531.3V2510.3 M895.6,2531.3V2520.3 M1043.3,2531.3V2510.3 M1190.9,2531.3V2520.3 M1338.5,2531.3V2510.3 M1486.2,2531.3V2520.3" stroke="#000" stroke-width="5.0" fill="none"/>
</svg>
</body></html>
